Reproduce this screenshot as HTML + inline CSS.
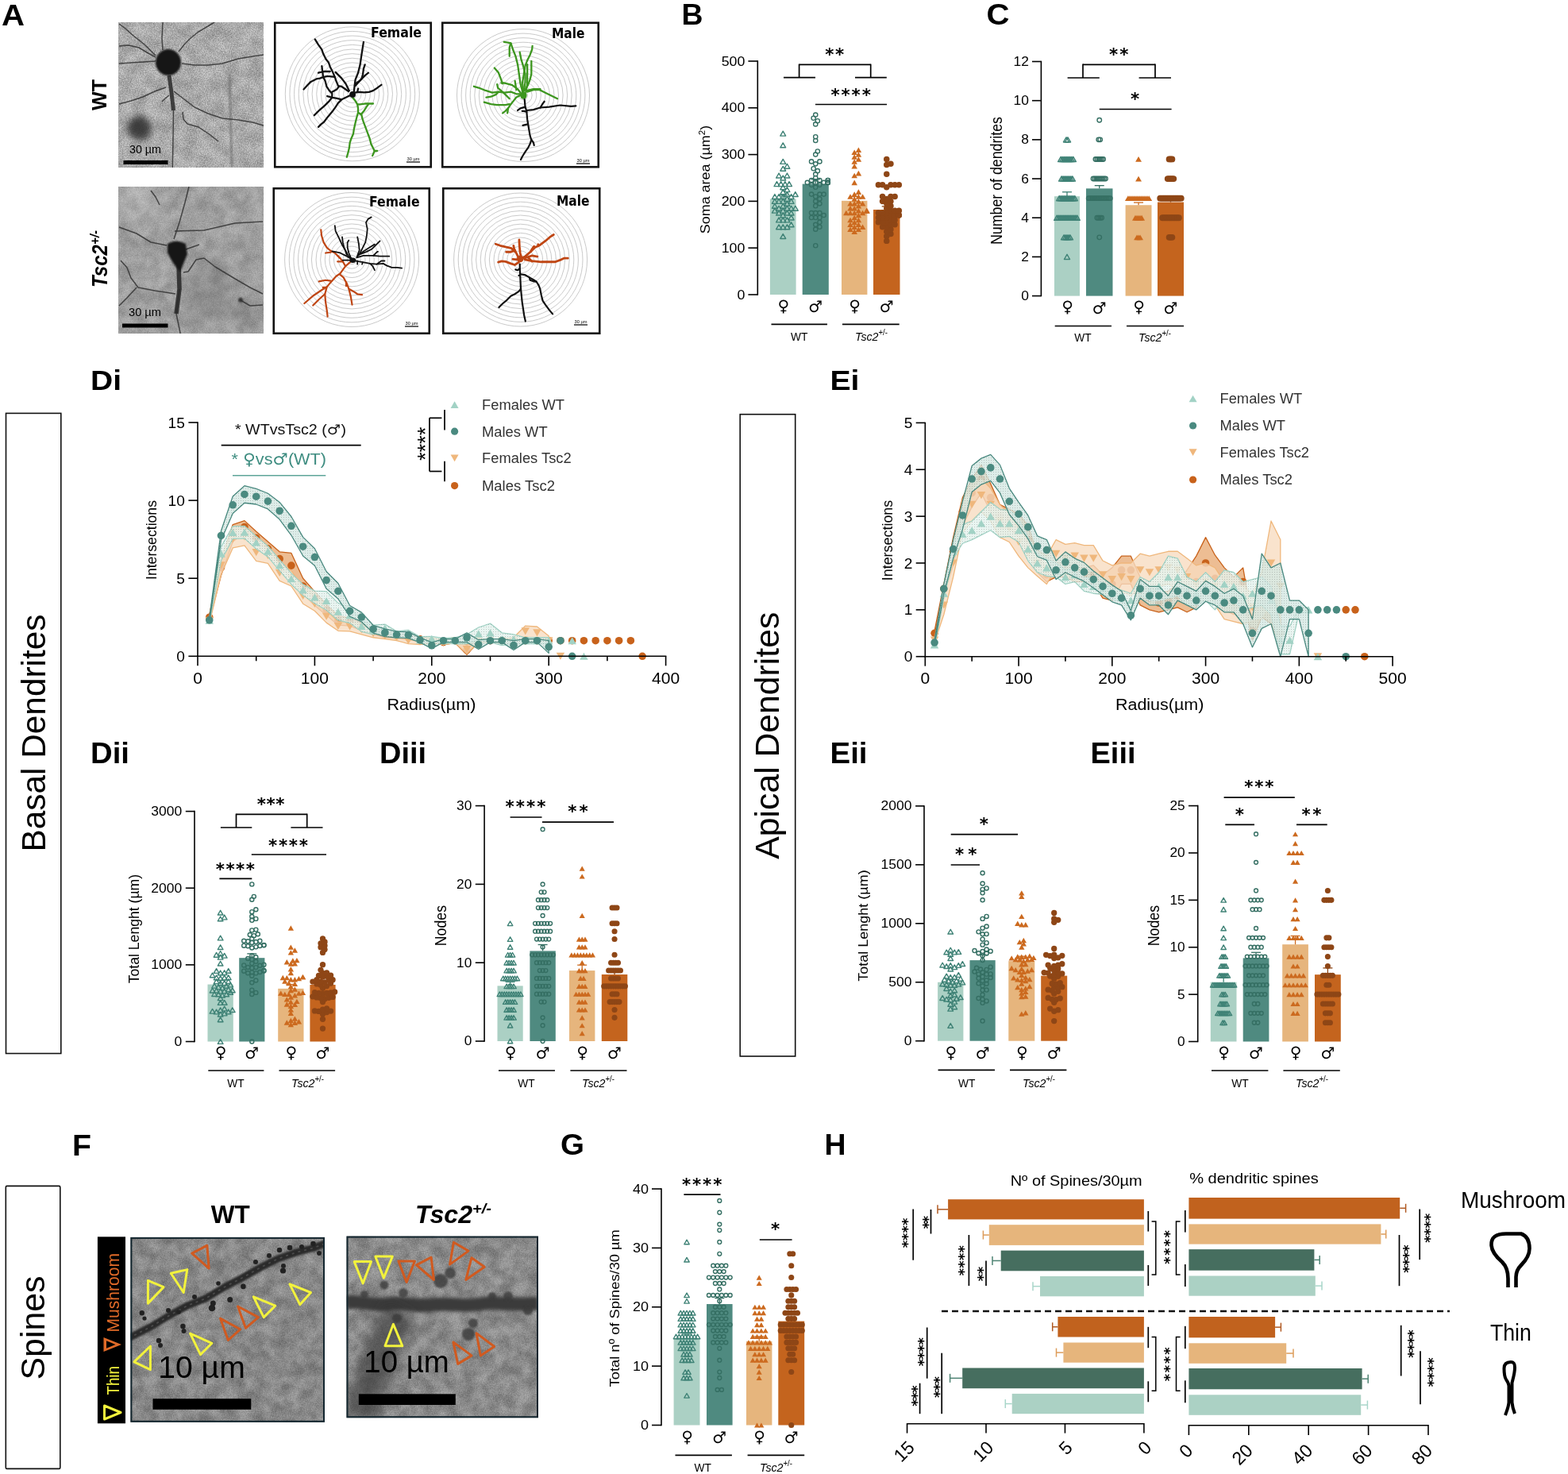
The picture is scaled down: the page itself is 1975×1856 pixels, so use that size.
<!DOCTYPE html>
<html><head><meta charset="utf-8"><title>Figure</title>
<style>html,body{margin:0;padding:0;background:#fff;}svg{display:block;}</style>
</head><body>
<svg width="1975" height="1856" viewBox="0 0 1975 1856" font-family='"Liberation Sans", "DejaVu Sans", Arial, sans-serif'><defs>
<filter id="grain" x="0" y="0" width="100%" height="100%" color-interpolation-filters="sRGB">
  <feTurbulence type="fractalNoise" baseFrequency="0.7" numOctaves="2" seed="3"/>
  <feColorMatrix type="matrix" values="1.6 0 0 0 -0.3  1.6 0 0 0 -0.3  1.6 0 0 0 -0.3  0 0 0 0 1"/>
</filter>
<filter id="mottle" x="0" y="0" width="100%" height="100%" color-interpolation-filters="sRGB">
  <feTurbulence type="fractalNoise" baseFrequency="0.06" numOctaves="3" seed="7"/>
  <feColorMatrix type="matrix" values="2 0 0 0 -0.5  2 0 0 0 -0.5  2 0 0 0 -0.5  0 0 0 0 1"/>
</filter>
<filter id="grain2" x="0" y="0" width="100%" height="100%">
  <feTurbulence type="fractalNoise" baseFrequency="0.08" numOctaves="3" seed="7"/>
  <feColorMatrix type="matrix" values="0 0 0 0 0  0 0 0 0 0  0 0 0 0 0  1.2 1.2 1.2 0 -1.55"/>
</filter>
<filter id="blur05" filterUnits="userSpaceOnUse" x="0" y="0" width="1975" height="1856"><feGaussianBlur stdDeviation="0.5"/></filter>
<filter id="blur1" filterUnits="userSpaceOnUse" x="0" y="0" width="1975" height="1856"><feGaussianBlur stdDeviation="1"/></filter>
<filter id="blur15" filterUnits="userSpaceOnUse" x="0" y="0" width="1975" height="1856"><feGaussianBlur stdDeviation="1.5"/></filter>
<filter id="blur2" filterUnits="userSpaceOnUse" x="0" y="0" width="1975" height="1856"><feGaussianBlur stdDeviation="2"/></filter>
<filter id="blur4" filterUnits="userSpaceOnUse" x="0" y="0" width="1975" height="1856"><feGaussianBlur stdDeviation="4"/></filter>
<filter id="blur8" filterUnits="userSpaceOnUse" x="0" y="0" width="1975" height="1856"><feGaussianBlur stdDeviation="8"/></filter>
<pattern id="dots" width="3" height="3" patternUnits="userSpaceOnUse">
  <rect x="0" y="0" width="1" height="1" fill="#000" fill-opacity="0.18"/>
</pattern>
</defs><rect width="1975" height="1856" fill="#fff"/><text x="2" y="32" font-size="36.5" fill="#000" font-weight="bold" textLength="29" lengthAdjust="spacingAndGlyphs">A</text>
<text transform="translate(134,119.5) rotate(-90)" font-size="26.5" fill="#000" text-anchor="middle" font-weight="bold" textLength="39" lengthAdjust="spacingAndGlyphs">WT</text>
<text transform="translate(135,326) rotate(-90)" font-size="27" font-weight="bold" font-style="italic" text-anchor="middle" textLength="72" lengthAdjust="spacingAndGlyphs">Tsc2<tspan font-size="17" dy="-10">+/-</tspan></text>
<clipPath id="cA1"><rect x="149" y="28" width="183" height="183"/></clipPath>
<rect x="149" y="28" width="183" height="183" fill="#c4c4c4" />
<g clip-path="url(#cA1)">
<rect x="149" y="28" width="183" height="183" fill="#000" filter="url(#mottle)" opacity="0.14"/>
<rect x="149" y="28" width="183" height="183" fill="#000" filter="url(#grain)" opacity="0.26"/>
<circle cx="175.5" cy="161.5" r="15" fill="#2a2a2a" opacity="0.85" filter="url(#blur4)"/>
<path d="M289,93 L290.5,150 L292,211" stroke="#666" stroke-width="3" fill="none" opacity="0.6" filter="url(#blur1)"/>
<polyline points="218.5,139 218,175 217.3,211" fill="none" stroke="#333" stroke-width="1.5" stroke-linejoin="round" opacity="0.85" filter="url(#blur05)"/>
<polyline points="196,72 185,66 175,60 162,57 150,58" fill="none" stroke="#333" stroke-width="1.5" stroke-linejoin="round" opacity="0.85" filter="url(#blur05)"/>
<polyline points="205,63 204,48 205,28" fill="none" stroke="#333" stroke-width="1.5" stroke-linejoin="round" opacity="0.85" filter="url(#blur05)"/>
<polyline points="225,65 233,55 240,48 250,40 262,33 270,28" fill="none" stroke="#333" stroke-width="1.5" stroke-linejoin="round" opacity="0.85" filter="url(#blur05)"/>
<polyline points="229,80 245,82 262,82 280,80 300,74 318,71 332,69" fill="none" stroke="#333" stroke-width="1.5" stroke-linejoin="round" opacity="0.85" filter="url(#blur05)"/>
<polyline points="209,110 195,115 180,122 165,127 150,131" fill="none" stroke="#333" stroke-width="1.5" stroke-linejoin="round" opacity="0.85" filter="url(#blur05)"/>
<polyline points="219,115 232,125 245,135 262,143 280,149 300,151 318,154 332,158" fill="none" stroke="#333" stroke-width="1.5" stroke-linejoin="round" opacity="0.85" filter="url(#blur05)"/>
<polyline points="196,70 182,56 168,45 158,36 150,30" fill="none" stroke="#333" stroke-width="1.5" stroke-linejoin="round" opacity="0.85" filter="url(#blur05)"/>
<polyline points="150,80 165,79 180,78 196,77" fill="none" stroke="#333" stroke-width="1.5" stroke-linejoin="round" opacity="0.85" filter="url(#blur05)"/>
<polyline points="230,141 231,150 236,156 250,160 265,170 275,178" fill="none" stroke="#333" stroke-width="1.5" stroke-linejoin="round" opacity="0.85" filter="url(#blur05)"/>
<polyline points="213,120 208,124 204,128" fill="none" stroke="#333" stroke-width="1.5" stroke-linejoin="round" opacity="0.85" filter="url(#blur05)"/>
<path d="M213,95 L216,117 L218.5,139" stroke="#2a2a2a" stroke-width="5" fill="none" opacity="0.85" filter="url(#blur05)"/>
<ellipse cx="212" cy="78.5" rx="16" ry="16.5" fill="#141414" filter="url(#blur1)"/>
</g>
<rect x="155.5" y="202" width="56" height="5" fill="#000" />
<text x="183" y="193" font-size="14" fill="#000" text-anchor="middle" textLength="40" lengthAdjust="spacingAndGlyphs">30 µm</text>
<clipPath id="cA2"><rect x="149" y="235" width="183" height="185"/></clipPath>
<rect x="149" y="235" width="183" height="185" fill="#a9a9a9" />
<g clip-path="url(#cA2)">
<rect x="149" y="235" width="183" height="185" fill="#000" filter="url(#mottle)" opacity="0.12"/>
<rect x="149" y="235" width="183" height="185" fill="#000" filter="url(#grain)" opacity="0.12"/>
<ellipse cx="262" cy="365" rx="30" ry="40" fill="#555" opacity="0.22" filter="url(#blur8)"/>
<ellipse cx="310" cy="395" rx="25" ry="18" fill="#444" opacity="0.18" filter="url(#blur8)"/>
<ellipse cx="175" cy="255" rx="30" ry="25" fill="#fff" opacity="0.15" filter="url(#blur8)"/>
<polyline points="226,364 222,395 228,424" fill="none" stroke="#333" stroke-width="1.5" stroke-linejoin="round" opacity="0.85" filter="url(#blur05)"/>
<polyline points="219,301 226,280 233,255 238,235" fill="none" stroke="#333" stroke-width="1.5" stroke-linejoin="round" opacity="0.85" filter="url(#blur05)"/>
<polyline points="210,309 190,305 172,294 150,286" fill="none" stroke="#333" stroke-width="1.5" stroke-linejoin="round" opacity="0.85" filter="url(#blur05)"/>
<polyline points="234,314 251,308" fill="none" stroke="#333" stroke-width="1.5" stroke-linejoin="round" opacity="0.85" filter="url(#blur05)"/>
<polyline points="221,370 195,366 174,362 165,350 160,337 152,328" fill="none" stroke="#333" stroke-width="1.5" stroke-linejoin="round" opacity="0.85" filter="url(#blur05)"/>
<polyline points="231,343 237,342 247,327 257,325 271,336 296,351 315,362 331,370" fill="none" stroke="#333" stroke-width="1.5" stroke-linejoin="round" opacity="0.85" filter="url(#blur05)"/>
<polyline points="220,291 257,290 296,281 331,279" fill="none" stroke="#333" stroke-width="1.5" stroke-linejoin="round" opacity="0.85" filter="url(#blur05)"/>
<polyline points="172,362 160,375 150,385" fill="none" stroke="#333" stroke-width="1.5" stroke-linejoin="round" opacity="0.85" filter="url(#blur05)"/>
<polyline points="201,258 196,248 190,240" fill="none" stroke="#333" stroke-width="1.5" stroke-linejoin="round" opacity="0.85" filter="url(#blur05)"/>
<polyline points="303,378 315,385 331,384" fill="none" stroke="#333" stroke-width="1.5" stroke-linejoin="round" opacity="0.85" filter="url(#blur05)"/>
<path d="M225,334 L226,364 L222,395" stroke="#262626" stroke-width="5.5" fill="none" opacity="0.85" filter="url(#blur05)"/>
<path d="M211,307 Q222,300 234,307 L236,320 Q231,332 227,342 Q217,332 211,318 Z" fill="#141414" filter="url(#blur1)"/>
<circle cx="303" cy="377.7" r="3" fill="#333" filter="url(#blur1)"/>
</g>
<rect x="154" y="407.5" width="57.5" height="5" fill="#000" />
<text x="182.5" y="398" font-size="14" fill="#000" text-anchor="middle" textLength="41" lengthAdjust="spacingAndGlyphs">30 µm</text>
<rect x="346.25" y="28.75" width="196.5" height="181.5" fill="#fff" stroke="#111" stroke-width="2.6" />
<circle cx="443.8" cy="118.3" r="5.63" fill="none" stroke="#cacaca" stroke-width="1"/>
<circle cx="443.8" cy="118.3" r="11.27" fill="none" stroke="#cacaca" stroke-width="1"/>
<circle cx="443.8" cy="118.3" r="16.9" fill="none" stroke="#cacaca" stroke-width="1"/>
<circle cx="443.8" cy="118.3" r="22.53" fill="none" stroke="#cacaca" stroke-width="1"/>
<circle cx="443.8" cy="118.3" r="28.17" fill="none" stroke="#cacaca" stroke-width="1"/>
<circle cx="443.8" cy="118.3" r="33.8" fill="none" stroke="#cacaca" stroke-width="1"/>
<circle cx="443.8" cy="118.3" r="39.43" fill="none" stroke="#cacaca" stroke-width="1"/>
<circle cx="443.8" cy="118.3" r="45.07" fill="none" stroke="#cacaca" stroke-width="1"/>
<circle cx="443.8" cy="118.3" r="50.7" fill="none" stroke="#cacaca" stroke-width="1"/>
<circle cx="443.8" cy="118.3" r="56.33" fill="none" stroke="#cacaca" stroke-width="1"/>
<circle cx="443.8" cy="118.3" r="61.97" fill="none" stroke="#cacaca" stroke-width="1"/>
<circle cx="443.8" cy="118.3" r="67.6" fill="none" stroke="#cacaca" stroke-width="1"/>
<circle cx="443.8" cy="118.3" r="73.23" fill="none" stroke="#cacaca" stroke-width="1"/>
<circle cx="443.8" cy="118.3" r="78.87" fill="none" stroke="#cacaca" stroke-width="1"/>
<circle cx="443.8" cy="118.3" r="84.5" fill="none" stroke="#cacaca" stroke-width="1"/>
<text x="467" y="47" font-size="17.5" fill="#000" font-weight="bold" font-family='"DejaVu Sans", "Liberation Sans", sans-serif' textLength="64" lengthAdjust="spacingAndGlyphs">Female</text>
<text x="520.5" y="201.5" font-size="5.5" fill="#000" text-anchor="middle" textLength="16" lengthAdjust="spacingAndGlyphs">30 µm</text>
<line x1="512" y1="204" x2="529" y2="204" stroke="#000" stroke-width="1.2" />
<polyline points="438.97,115 430.34,108.97 426.03,108.1 423.45,102.07 421.72,96.9 419.14,90.86 415.69,83.97 413.97,78.79 410.52,74.48 407.07,67.59 405.34,62.41 401.03,56.38 396.72,49.48" fill="none" stroke="#111" stroke-width="2.3" stroke-linejoin="round" stroke-linecap="round"/>
<polyline points="421.72,96.9 414.83,96.03 411.38,96.03 407.93,96.9 402.76,98.62 398.45,99.48 391.55,102.93 387.24,107.24 382.5,112.41" fill="none" stroke="#111" stroke-width="2.3" stroke-linejoin="round" stroke-linecap="round"/>
<polyline points="407.07,96.9 406.21,90 405.34,83.1" fill="none" stroke="#111" stroke-width="2.3" stroke-linejoin="round" stroke-linecap="round"/>
<polyline points="401.03,91.72 407.93,90 415.69,90" fill="none" stroke="#111" stroke-width="2.3" stroke-linejoin="round" stroke-linecap="round"/>
<polyline points="440.69,120.17 435.52,122.76 430.34,125.34 423.45,123.62 418.28,122.76 412.24,121.03" fill="none" stroke="#111" stroke-width="2.3" stroke-linejoin="round" stroke-linecap="round"/>
<polyline points="418.28,122.76 414.83,127.07 408.79,133.1 402.76,138.28 395.86,145.17" fill="none" stroke="#111" stroke-width="2.3" stroke-linejoin="round" stroke-linecap="round"/>
<polyline points="430.34,125.34 426.03,129.66 422.59,134.83 418.28,140.86 413.1,146.9 407.93,153.79 404.48,156.38 401.03,159.83" fill="none" stroke="#111" stroke-width="2.3" stroke-linejoin="round" stroke-linecap="round"/>
<polyline points="418.28,122.76 418.28,117.59 414.83,114.14 411.38,108.97 409.66,102.07 407.07,96.9" fill="none" stroke="#111" stroke-width="2.3" stroke-linejoin="round" stroke-linecap="round"/>
<polyline points="418.28,115.86 424.31,112.41 426.9,108.97" fill="none" stroke="#111" stroke-width="2.3" stroke-linejoin="round" stroke-linecap="round"/>
<polyline points="439.83,114.14 435.52,105.52 430.34,98.62 422.59,90.86" fill="none" stroke="#111" stroke-width="2.3" stroke-linejoin="round" stroke-linecap="round"/>
<polyline points="445.86,115 446.72,107.24 447.59,100.34 451.03,91.72 453.62,81.38 455.34,69.31 457.93,52.93" fill="none" stroke="#111" stroke-width="2.3" stroke-linejoin="round" stroke-linecap="round"/>
<polyline points="447.59,105.52 452.76,102.07 455.34,99.48 457.07,93.45 457.93,86.55 459.66,81.38" fill="none" stroke="#111" stroke-width="2.3" stroke-linejoin="round" stroke-linecap="round"/>
<polyline points="447.59,108.1 454.48,100.34 459.66,95.17 463.97,91.72" fill="none" stroke="#111" stroke-width="2.3" stroke-linejoin="round" stroke-linecap="round"/>
<polyline points="446.72,116.72 452.76,115.86 458.79,116.29 464.83,115.86 470,114.14 475.17,110.69 480.34,106.81" fill="none" stroke="#111" stroke-width="2.3" stroke-linejoin="round" stroke-linecap="round"/>
<polyline points="450.17,115.86 451.03,111.55" fill="none" stroke="#111" stroke-width="2.3" stroke-linejoin="round" stroke-linecap="round"/>
<polyline points="444.14,122.76 447.59,127.07 450.17,131.38 451.03,136.55 451.03,141.72 449.31,147.76 447.59,154.66 445.86,162.41 445,168.45 442.41,174.48 440.69,179.66 439.83,186.55 438.1,193.45 436.81,197.76" fill="none" stroke="#3d961f" stroke-width="2.3" stroke-linejoin="round" stroke-linecap="round"/>
<polyline points="451.03,141.72 455.34,144.31 456.21,148.62 457.93,153.79 460.52,160.69 463.1,167.59 465.69,174.48 467.41,181.38 470,186.55 471.72,190 470,194.31 469.14,196.03" fill="none" stroke="#3d961f" stroke-width="2.3" stroke-linejoin="round" stroke-linecap="round"/>
<polyline points="450.17,131.38 453.62,131.38 459.66,130.52 464.83,130.52 470,130.52" fill="none" stroke="#3d961f" stroke-width="2.3" stroke-linejoin="round" stroke-linecap="round"/>
<polyline points="454.48,144.31 458.79,139.14 461.38,134.83 463.97,131.38" fill="none" stroke="#3d961f" stroke-width="2.3" stroke-linejoin="round" stroke-linecap="round"/>
<polyline points="471.72,190 475.17,190" fill="none" stroke="#3d961f" stroke-width="2.3" stroke-linejoin="round" stroke-linecap="round"/>
<circle cx="444.1" cy="118.9" r="3.9" fill="#111"/>
<rect x="557.25" y="28.75" width="196.5" height="181.5" fill="#fff" stroke="#111" stroke-width="2.6" />
<circle cx="659" cy="120" r="5.57" fill="none" stroke="#cacaca" stroke-width="1"/>
<circle cx="659" cy="120" r="11.13" fill="none" stroke="#cacaca" stroke-width="1"/>
<circle cx="659" cy="120" r="16.7" fill="none" stroke="#cacaca" stroke-width="1"/>
<circle cx="659" cy="120" r="22.27" fill="none" stroke="#cacaca" stroke-width="1"/>
<circle cx="659" cy="120" r="27.83" fill="none" stroke="#cacaca" stroke-width="1"/>
<circle cx="659" cy="120" r="33.4" fill="none" stroke="#cacaca" stroke-width="1"/>
<circle cx="659" cy="120" r="38.97" fill="none" stroke="#cacaca" stroke-width="1"/>
<circle cx="659" cy="120" r="44.53" fill="none" stroke="#cacaca" stroke-width="1"/>
<circle cx="659" cy="120" r="50.1" fill="none" stroke="#cacaca" stroke-width="1"/>
<circle cx="659" cy="120" r="55.67" fill="none" stroke="#cacaca" stroke-width="1"/>
<circle cx="659" cy="120" r="61.23" fill="none" stroke="#cacaca" stroke-width="1"/>
<circle cx="659" cy="120" r="66.8" fill="none" stroke="#cacaca" stroke-width="1"/>
<circle cx="659" cy="120" r="72.37" fill="none" stroke="#cacaca" stroke-width="1"/>
<circle cx="659" cy="120" r="77.93" fill="none" stroke="#cacaca" stroke-width="1"/>
<circle cx="659" cy="120" r="83.5" fill="none" stroke="#cacaca" stroke-width="1"/>
<text x="695" y="48" font-size="17.5" fill="#000" font-weight="bold" font-family='"DejaVu Sans", "Liberation Sans", sans-serif' textLength="41.5" lengthAdjust="spacingAndGlyphs">Male</text>
<text x="734.5" y="203.5" font-size="5.5" fill="#000" text-anchor="middle" textLength="16" lengthAdjust="spacingAndGlyphs">30 µm</text>
<line x1="726" y1="206" x2="743" y2="206" stroke="#000" stroke-width="1.2" />
<polyline points="658.97,118.28 655.52,105.34 653.79,93.28 652.07,81.21 649.48,70.86 646.03,62.24 643.45,54.48 640,53.62 634.83,52.76" fill="none" stroke="#3d961f" stroke-width="2.3" stroke-linejoin="round" stroke-linecap="round"/>
<polyline points="643.45,54.48 641.72,59.66 641.72,70.86" fill="none" stroke="#3d961f" stroke-width="2.3" stroke-linejoin="round" stroke-linecap="round"/>
<polyline points="658.97,116.55 658.1,103.62 659.83,93.28 661.55,82.93 664.14,76.03 667.59,69.14 670.17,62.24 670.6,57.93" fill="none" stroke="#3d961f" stroke-width="2.3" stroke-linejoin="round" stroke-linecap="round"/>
<polyline points="659.83,113.97 661.55,103.62 661.55,93.28 658.97,82.93 656.38,74.31 654.66,65.69" fill="none" stroke="#3d961f" stroke-width="2.3" stroke-linejoin="round" stroke-linecap="round"/>
<polyline points="660.69,113.97 665,107.07 667.59,100.17 669.31,93.28 669.31,84.66 669.31,76.9" fill="none" stroke="#3d961f" stroke-width="2.3" stroke-linejoin="round" stroke-linecap="round"/>
<polyline points="662.41,115.69 664.14,105.34 664.14,93.28 664.14,81.21" fill="none" stroke="#3d961f" stroke-width="2.3" stroke-linejoin="round" stroke-linecap="round"/>
<polyline points="655.52,116.55 652.07,112.24 645.17,107.07 634.83,104.48 631.38,104.48" fill="none" stroke="#3d961f" stroke-width="2.3" stroke-linejoin="round" stroke-linecap="round"/>
<polyline points="655.52,118.28 650.34,118.28 643.45,115.69 635.69,116.55 627.93,115.69 620.17,116.55 611.55,113.97 602.93,110.52 596.9,108.79" fill="none" stroke="#3d961f" stroke-width="2.3" stroke-linejoin="round" stroke-linecap="round"/>
<polyline points="655.52,120 650.34,122.59 646.9,126.9 643.45,131.21 640,136.38 636.55,139.83 633.1,142.41" fill="none" stroke="#3d961f" stroke-width="2.3" stroke-linejoin="round" stroke-linecap="round"/>
<polyline points="641.72,131.21 636.55,132.07 626.21,132.07 618.45,131.21 609.83,128.62" fill="none" stroke="#3d961f" stroke-width="2.3" stroke-linejoin="round" stroke-linecap="round"/>
<polyline points="633.1,105.34 630.52,98.45 627.93,91.55 622.76,85.52" fill="none" stroke="#3d961f" stroke-width="2.3" stroke-linejoin="round" stroke-linecap="round"/>
<polyline points="627.93,115.69 624.48,119.14 618.45,121.72 612.41,122.59" fill="none" stroke="#3d961f" stroke-width="2.3" stroke-linejoin="round" stroke-linecap="round"/>
<polyline points="641.72,124.31 634.83,117.41 627.07,110.52 626.21,106.21" fill="none" stroke="#3d961f" stroke-width="2.3" stroke-linejoin="round" stroke-linecap="round"/>
<polyline points="664.14,113.97 671.9,112.24 680.52,112.24" fill="none" stroke="#3d961f" stroke-width="2.3" stroke-linejoin="round" stroke-linecap="round"/>
<polyline points="664.14,115.69 671.9,113.1 679.66,113.1 684.83,115.69 693.45,120 702.07,124.31" fill="none" stroke="#3d961f" stroke-width="2.3" stroke-linejoin="round" stroke-linecap="round"/>
<polyline points="640,136.38 639.14,142.41" fill="none" stroke="#3d961f" stroke-width="2.3" stroke-linejoin="round" stroke-linecap="round"/>
<polyline points="650.34,113.1 648.62,101.9" fill="none" stroke="#3d961f" stroke-width="2.3" stroke-linejoin="round" stroke-linecap="round"/>
<ellipse cx="659.4" cy="120" rx="4.2" ry="4.8" fill="#3d961f"/>
<polyline points="660.69,125.17 661.55,134.66 663.28,139.83 664.14,150.17 665.86,160.52 667.59,170.86 669.31,176.03 667.59,181.21 665,186.38 662.41,189.83 658.1,196.72 655.95,201.03" fill="none" stroke="#111" stroke-width="2.2" stroke-linejoin="round" stroke-linecap="round"/>
<polyline points="663.28,138.97 671.9,138.1 680.52,135.52 691.72,134.66 705.52,132.5 719.31,133.79 725.34,133.36" fill="none" stroke="#111" stroke-width="2.2" stroke-linejoin="round" stroke-linecap="round"/>
<polyline points="680.52,135.52 683.1,131.21 685.69,127.76" fill="none" stroke="#111" stroke-width="2.2" stroke-linejoin="round" stroke-linecap="round"/>
<polyline points="661.55,134.66 655.52,136.38 652.07,138.97" fill="none" stroke="#111" stroke-width="2.2" stroke-linejoin="round" stroke-linecap="round"/>
<polyline points="663.28,140.69 659.83,139.83 657.67,139.83" fill="none" stroke="#111" stroke-width="2.2" stroke-linejoin="round" stroke-linecap="round"/>
<polyline points="665,156.21 661.55,157.07 658.53,157.93" fill="none" stroke="#111" stroke-width="2.2" stroke-linejoin="round" stroke-linecap="round"/>
<polyline points="669.31,176.03 671.9,179.48 672.76,182.93" fill="none" stroke="#111" stroke-width="2.2" stroke-linejoin="round" stroke-linecap="round"/>
<rect x="344.75" y="237.25" width="196" height="182.5" fill="#fff" stroke="#111" stroke-width="2.6" />
<circle cx="443.1" cy="327" r="5.63" fill="none" stroke="#cacaca" stroke-width="1"/>
<circle cx="443.1" cy="327" r="11.27" fill="none" stroke="#cacaca" stroke-width="1"/>
<circle cx="443.1" cy="327" r="16.9" fill="none" stroke="#cacaca" stroke-width="1"/>
<circle cx="443.1" cy="327" r="22.53" fill="none" stroke="#cacaca" stroke-width="1"/>
<circle cx="443.1" cy="327" r="28.17" fill="none" stroke="#cacaca" stroke-width="1"/>
<circle cx="443.1" cy="327" r="33.8" fill="none" stroke="#cacaca" stroke-width="1"/>
<circle cx="443.1" cy="327" r="39.43" fill="none" stroke="#cacaca" stroke-width="1"/>
<circle cx="443.1" cy="327" r="45.07" fill="none" stroke="#cacaca" stroke-width="1"/>
<circle cx="443.1" cy="327" r="50.7" fill="none" stroke="#cacaca" stroke-width="1"/>
<circle cx="443.1" cy="327" r="56.33" fill="none" stroke="#cacaca" stroke-width="1"/>
<circle cx="443.1" cy="327" r="61.97" fill="none" stroke="#cacaca" stroke-width="1"/>
<circle cx="443.1" cy="327" r="67.6" fill="none" stroke="#cacaca" stroke-width="1"/>
<circle cx="443.1" cy="327" r="73.23" fill="none" stroke="#cacaca" stroke-width="1"/>
<circle cx="443.1" cy="327" r="78.87" fill="none" stroke="#cacaca" stroke-width="1"/>
<circle cx="443.1" cy="327" r="84.5" fill="none" stroke="#cacaca" stroke-width="1"/>
<text x="465" y="260" font-size="17.5" fill="#000" font-weight="bold" font-family='"DejaVu Sans", "Liberation Sans", sans-serif' textLength="63.5" lengthAdjust="spacingAndGlyphs">Female</text>
<text x="518.5" y="408.5" font-size="5.5" fill="#000" text-anchor="middle" textLength="16" lengthAdjust="spacingAndGlyphs">30 µm</text>
<line x1="510" y1="411" x2="527" y2="411" stroke="#000" stroke-width="1.2" />
<polyline points="441.01,330.19 435.16,335.2 428.48,344.39 423.47,347.73 416.78,355.25 411.77,361.1 405.09,365.28 395.06,371.96 383.37,381.98" fill="none" stroke="#bf4614" stroke-width="2.2" stroke-linejoin="round" stroke-linecap="round"/>
<polyline points="411.77,361.1 409.26,370.29 410.1,380.31 411.77,391.17 412.61,398.69" fill="none" stroke="#bf4614" stroke-width="2.2" stroke-linejoin="round" stroke-linecap="round"/>
<polyline points="409.26,370.29 401.75,376.97 394.23,384.49" fill="none" stroke="#bf4614" stroke-width="2.2" stroke-linejoin="round" stroke-linecap="round"/>
<polyline points="416.78,353.58 410.1,352.74 401.75,354.42" fill="none" stroke="#bf4614" stroke-width="2.2" stroke-linejoin="round" stroke-linecap="round"/>
<polyline points="427.64,345.23 432.66,349.4 436.83,356.92 439.34,363.6 441.85,373.63 443.52,383.65" fill="none" stroke="#bf4614" stroke-width="2.2" stroke-linejoin="round" stroke-linecap="round"/>
<polyline points="439.34,363.6 445.19,366.95 450.2,370.29 456.05,371.12" fill="none" stroke="#bf4614" stroke-width="2.2" stroke-linejoin="round" stroke-linecap="round"/>
<polyline points="436,355.25 436,360.26" fill="none" stroke="#bf4614" stroke-width="2.2" stroke-linejoin="round" stroke-linecap="round"/>
<polyline points="435.16,335.2 431.82,329.35 428.48,325.18 421.8,318.49 416.78,315.99 411.77,311.81 407.59,305.13 405.09,296.77 404.25,289.25" fill="none" stroke="#bf4614" stroke-width="2.2" stroke-linejoin="round" stroke-linecap="round"/>
<polyline points="431.82,329.35 425.14,329.35" fill="none" stroke="#bf4614" stroke-width="2.2" stroke-linejoin="round" stroke-linecap="round"/>
<polyline points="428.48,325.18 425.14,321.83" fill="none" stroke="#bf4614" stroke-width="2.2" stroke-linejoin="round" stroke-linecap="round"/>
<polyline points="416.78,317.66 410.1,318.49" fill="none" stroke="#bf4614" stroke-width="2.2" stroke-linejoin="round" stroke-linecap="round"/>
<polyline points="406.76,361.93 410.1,361.93" fill="none" stroke="#bf4614" stroke-width="2.2" stroke-linejoin="round" stroke-linecap="round"/>
<polyline points="443.52,326.01 438.5,321.83 435.16,315.15 430.99,308.47 426.81,299.28 422.63,290.92 421.8,284.24" fill="none" stroke="#111" stroke-width="1.8" stroke-linejoin="round" stroke-linecap="round"/>
<polyline points="441.85,324.34 439.34,318.49 437.67,311.81 437.67,305.13 439.34,302.62" fill="none" stroke="#111" stroke-width="1.8" stroke-linejoin="round" stroke-linecap="round"/>
<polyline points="436.83,321 433.49,311.81 431.82,305.13 430.99,298.44" fill="none" stroke="#111" stroke-width="1.8" stroke-linejoin="round" stroke-linecap="round"/>
<polyline points="443.52,326.85 435.16,321.83 428.48,318.49 418.45,316.4" fill="none" stroke="#111" stroke-width="1.8" stroke-linejoin="round" stroke-linecap="round"/>
<polyline points="443.52,327.68 436.83,327.68 431.82,327.68" fill="none" stroke="#111" stroke-width="1.8" stroke-linejoin="round" stroke-linecap="round"/>
<polyline points="449.37,323.5 453.54,318.49 456.88,311.81 460.23,305.13 461.9,296.77 462.73,288.42 461.06,280.06 463.57,275.89 467.74,273.38" fill="none" stroke="#111" stroke-width="1.8" stroke-linejoin="round" stroke-linecap="round"/>
<polyline points="450.2,321.83 452.71,315.15 451.87,306.8 450.2,298.44" fill="none" stroke="#111" stroke-width="1.8" stroke-linejoin="round" stroke-linecap="round"/>
<polyline points="451.04,321.83 458.55,315.99 465.24,311.81 471.92,307.63" fill="none" stroke="#111" stroke-width="1.8" stroke-linejoin="round" stroke-linecap="round"/>
<polyline points="453.54,320.16 461.9,316.82 468.58,313.48 473.59,308.47 478.6,303.45" fill="none" stroke="#111" stroke-width="1.8" stroke-linejoin="round" stroke-linecap="round"/>
<polyline points="449.37,324.34 457.72,321.83 470.25,321.83 478.6,322.67 490.3,322.67" fill="none" stroke="#111" stroke-width="1.8" stroke-linejoin="round" stroke-linecap="round"/>
<polyline points="448.53,328.52 456.88,330.19 466.07,331.86 474.43,332.69 482.78,331.86 486.96,334.37 493.64,336.87 500.33,336.87 506.17,337.71" fill="none" stroke="#111" stroke-width="1.8" stroke-linejoin="round" stroke-linecap="round"/>
<polyline points="466.07,331.86 469.42,335.2 471.92,340.21" fill="none" stroke="#111" stroke-width="1.8" stroke-linejoin="round" stroke-linecap="round"/>
<polyline points="470.25,321.83 475.26,316.82 476.1,316.82" fill="none" stroke="#111" stroke-width="1.8" stroke-linejoin="round" stroke-linecap="round"/>
<polyline points="474.43,332.69 480.28,328.52 484.45,328.52" fill="none" stroke="#111" stroke-width="1.8" stroke-linejoin="round" stroke-linecap="round"/>
<polyline points="450.2,328.52 450.2,332.69" fill="none" stroke="#111" stroke-width="1.8" stroke-linejoin="round" stroke-linecap="round"/>
<polyline points="456.88,330.19 456.05,332.69" fill="none" stroke="#111" stroke-width="1.8" stroke-linejoin="round" stroke-linecap="round"/>
<ellipse cx="444.3" cy="327.7" rx="3.9" ry="3.2" fill="#111"/>
<rect x="558.25" y="237.25" width="197" height="182.5" fill="#fff" stroke="#111" stroke-width="2.6" />
<circle cx="655.6" cy="327" r="5.6" fill="none" stroke="#cacaca" stroke-width="1"/>
<circle cx="655.6" cy="327" r="11.2" fill="none" stroke="#cacaca" stroke-width="1"/>
<circle cx="655.6" cy="327" r="16.8" fill="none" stroke="#cacaca" stroke-width="1"/>
<circle cx="655.6" cy="327" r="22.4" fill="none" stroke="#cacaca" stroke-width="1"/>
<circle cx="655.6" cy="327" r="28" fill="none" stroke="#cacaca" stroke-width="1"/>
<circle cx="655.6" cy="327" r="33.6" fill="none" stroke="#cacaca" stroke-width="1"/>
<circle cx="655.6" cy="327" r="39.2" fill="none" stroke="#cacaca" stroke-width="1"/>
<circle cx="655.6" cy="327" r="44.8" fill="none" stroke="#cacaca" stroke-width="1"/>
<circle cx="655.6" cy="327" r="50.4" fill="none" stroke="#cacaca" stroke-width="1"/>
<circle cx="655.6" cy="327" r="56" fill="none" stroke="#cacaca" stroke-width="1"/>
<circle cx="655.6" cy="327" r="61.6" fill="none" stroke="#cacaca" stroke-width="1"/>
<circle cx="655.6" cy="327" r="67.2" fill="none" stroke="#cacaca" stroke-width="1"/>
<circle cx="655.6" cy="327" r="72.8" fill="none" stroke="#cacaca" stroke-width="1"/>
<circle cx="655.6" cy="327" r="78.4" fill="none" stroke="#cacaca" stroke-width="1"/>
<circle cx="655.6" cy="327" r="84" fill="none" stroke="#cacaca" stroke-width="1"/>
<text x="701" y="259" font-size="17.5" fill="#000" font-weight="bold" font-family='"DejaVu Sans", "Liberation Sans", sans-serif' textLength="41.5" lengthAdjust="spacingAndGlyphs">Male</text>
<text x="731.5" y="406.5" font-size="5.5" fill="#000" text-anchor="middle" textLength="16" lengthAdjust="spacingAndGlyphs">30 µm</text>
<line x1="723" y1="409" x2="740" y2="409" stroke="#000" stroke-width="1.2" />
<polyline points="655.16,326.01 661.85,322.67 668.53,316.82 673.54,311.81 680.23,308.47 686.91,303.45 692.76,298.44 697.35,295.52" fill="none" stroke="#bf4614" stroke-width="2.8" stroke-linejoin="round" stroke-linecap="round"/>
<polyline points="668.53,316.82 670.2,313.48 672.71,310.14" fill="none" stroke="#bf4614" stroke-width="2.8" stroke-linejoin="round" stroke-linecap="round"/>
<polyline points="678.55,309.3 677.72,307.63" fill="none" stroke="#bf4614" stroke-width="2.8" stroke-linejoin="round" stroke-linecap="round"/>
<polyline points="656.83,325.18 655.16,318.49 654.33,310.14 653.91,301.78" fill="none" stroke="#bf4614" stroke-width="2.8" stroke-linejoin="round" stroke-linecap="round"/>
<polyline points="653.49,325.18 650.15,318.49 647.64,313.48 646.81,309.3" fill="none" stroke="#bf4614" stroke-width="2.8" stroke-linejoin="round" stroke-linecap="round"/>
<polyline points="648.48,316.82 644.3,312.64 636.78,310.97 630.1,309.3 624.25,307.21" fill="none" stroke="#bf4614" stroke-width="2.8" stroke-linejoin="round" stroke-linecap="round"/>
<polyline points="648.48,315.15 643.47,317.24 637.62,317.24" fill="none" stroke="#bf4614" stroke-width="2.8" stroke-linejoin="round" stroke-linecap="round"/>
<polyline points="653.49,330.19 648.48,333.53 643.47,331.86 636.78,329.35 631.77,328.93 627.59,330.19" fill="none" stroke="#bf4614" stroke-width="2.8" stroke-linejoin="round" stroke-linecap="round"/>
<polyline points="651.82,326.85 645.97,326.43" fill="none" stroke="#bf4614" stroke-width="2.8" stroke-linejoin="round" stroke-linecap="round"/>
<polyline points="660.18,325.18 665.19,323.5 670.2,321.83 676.88,323.09" fill="none" stroke="#bf4614" stroke-width="2.8" stroke-linejoin="round" stroke-linecap="round"/>
<polyline points="661.01,326.85 670.2,328.52 681.9,329.77 690.25,329.77 699.44,329.77 706.96,326.85 710.3,325.18 715.31,325.18" fill="none" stroke="#bf4614" stroke-width="2.8" stroke-linejoin="round" stroke-linecap="round"/>
<polyline points="665.19,324.34 670.2,329.35" fill="none" stroke="#bf4614" stroke-width="2.8" stroke-linejoin="round" stroke-linecap="round"/>
<circle cx="655.2" cy="326" r="4.3" fill="#bf4614"/>
<polyline points="654.75,332.69 654.75,338.54 655.16,345.23 655.58,355.25 656,363.6 656.83,371.96 657.67,380.31 658.92,388.67 660.18,397.02 661.85,404.54" fill="none" stroke="#111" stroke-width="2.2" stroke-linejoin="round" stroke-linecap="round"/>
<polyline points="656,363.6 653.49,366.95 648.48,370.29 643.47,372.79 638.45,377.81 633.44,381.98 628.43,387" fill="none" stroke="#111" stroke-width="2.2" stroke-linejoin="round" stroke-linecap="round"/>
<polyline points="655.58,345.23 661.01,346.06 666.86,349.4 672.71,352.74 676.05,355.25 678.55,359.43 680.23,363.6 681.9,371.96 683.57,378.64 686.91,383.65 691.92,390.34 696.1,395.35" fill="none" stroke="#111" stroke-width="2.2" stroke-linejoin="round" stroke-linecap="round"/>
<polyline points="654.75,338.54 651.82,340.21 649.31,339.38" fill="none" stroke="#111" stroke-width="2.2" stroke-linejoin="round" stroke-linecap="round"/>
<polyline points="655.16,346.06 653.49,346.9" fill="none" stroke="#111" stroke-width="2.2" stroke-linejoin="round" stroke-linecap="round"/>
<polyline points="666.86,349.4 667.69,352.74 672.71,354.42 675.21,354.42" fill="none" stroke="#111" stroke-width="2.2" stroke-linejoin="round" stroke-linecap="round"/>
<text x="858.5" y="31" font-size="36" fill="#000" font-weight="bold" textLength="27" lengthAdjust="spacingAndGlyphs">B</text>
<rect x="969.9" y="250.46" width="32.7" height="120.54" fill="#abd0c4" />
<rect x="1010.7" y="231.64" width="33.1" height="139.36" fill="#4f8a80" />
<rect x="1060" y="252.81" width="32.4" height="118.19" fill="#e6b57d" />
<rect x="1100" y="263.98" width="33.5" height="107.02" fill="#c4641e" />
<line x1="986.25" y1="250.46" x2="986.25" y2="245.76" stroke="#3f8276" stroke-width="1.3" />
<line x1="980.25" y1="245.76" x2="992.25" y2="245.76" stroke="#3f8276" stroke-width="1.3" />
<line x1="1027.25" y1="231.64" x2="1027.25" y2="225.76" stroke="#356f63" stroke-width="1.3" />
<line x1="1021.25" y1="225.76" x2="1033.25" y2="225.76" stroke="#356f63" stroke-width="1.3" />
<line x1="1076.2" y1="252.81" x2="1076.2" y2="247.52" stroke="#cc6a1f" stroke-width="1.3" />
<line x1="1070.2" y1="247.52" x2="1082.2" y2="247.52" stroke="#cc6a1f" stroke-width="1.3" />
<line x1="1116.75" y1="263.98" x2="1116.75" y2="259.87" stroke="#8e4616" stroke-width="1.3" />
<line x1="1110.75" y1="259.87" x2="1122.75" y2="259.87" stroke="#8e4616" stroke-width="1.3" />
<polygon points="982.83,300.46 989.67,300.46 986.25,294.54" fill="none" stroke="#3f8276" stroke-width="1.4" stroke-linejoin="round" />
<polygon points="982.83,288.7 989.67,288.7 986.25,282.78" fill="none" stroke="#3f8276" stroke-width="1.4" stroke-linejoin="round" />
<polygon points="988.01,288.7 994.85,288.7 991.43,282.78" fill="none" stroke="#3f8276" stroke-width="1.4" stroke-linejoin="round" />
<polygon points="977.65,288.7 984.49,288.7 981.07,282.78" fill="none" stroke="#3f8276" stroke-width="1.4" stroke-linejoin="round" />
<polygon points="993.2,285.76 1000.04,285.76 996.62,279.84" fill="none" stroke="#3f8276" stroke-width="1.4" stroke-linejoin="round" />
<polygon points="982.83,279.88 989.67,279.88 986.25,273.96" fill="none" stroke="#3f8276" stroke-width="1.4" stroke-linejoin="round" />
<polygon points="988.01,279.88 994.85,279.88 991.43,273.96" fill="none" stroke="#3f8276" stroke-width="1.4" stroke-linejoin="round" />
<polygon points="977.65,279.88 984.49,279.88 981.07,273.96" fill="none" stroke="#3f8276" stroke-width="1.4" stroke-linejoin="round" />
<polygon points="993.2,276.94 1000.04,276.94 996.62,271.02" fill="none" stroke="#3f8276" stroke-width="1.4" stroke-linejoin="round" />
<polygon points="982.83,274 989.67,274 986.25,268.08" fill="none" stroke="#3f8276" stroke-width="1.4" stroke-linejoin="round" />
<polygon points="988.01,271.06 994.85,271.06 991.43,265.14" fill="none" stroke="#3f8276" stroke-width="1.4" stroke-linejoin="round" />
<polygon points="977.65,271.06 984.49,271.06 981.07,265.14" fill="none" stroke="#3f8276" stroke-width="1.4" stroke-linejoin="round" />
<polygon points="993.2,271.06 1000.04,271.06 996.62,265.14" fill="none" stroke="#3f8276" stroke-width="1.4" stroke-linejoin="round" />
<polygon points="982.83,268.12 989.67,268.12 986.25,262.2" fill="none" stroke="#3f8276" stroke-width="1.4" stroke-linejoin="round" />
<polygon points="972.46,268.12 979.3,268.12 975.88,262.2" fill="none" stroke="#3f8276" stroke-width="1.4" stroke-linejoin="round" />
<polygon points="988.01,265.18 994.85,265.18 991.43,259.26" fill="none" stroke="#3f8276" stroke-width="1.4" stroke-linejoin="round" />
<polygon points="977.65,265.18 984.49,265.18 981.07,259.26" fill="none" stroke="#3f8276" stroke-width="1.4" stroke-linejoin="round" />
<polygon points="993.2,265.18 1000.04,265.18 996.62,259.26" fill="none" stroke="#3f8276" stroke-width="1.4" stroke-linejoin="round" />
<polygon points="998.38,265.18 1005.22,265.18 1001.8,259.26" fill="none" stroke="#3f8276" stroke-width="1.4" stroke-linejoin="round" />
<polygon points="982.83,262.24 989.67,262.24 986.25,256.32" fill="none" stroke="#3f8276" stroke-width="1.4" stroke-linejoin="round" />
<polygon points="972.46,262.24 979.3,262.24 975.88,256.32" fill="none" stroke="#3f8276" stroke-width="1.4" stroke-linejoin="round" />
<polygon points="988.01,259.3 994.85,259.3 991.43,253.38" fill="none" stroke="#3f8276" stroke-width="1.4" stroke-linejoin="round" />
<polygon points="982.83,256.36 989.67,256.36 986.25,250.44" fill="none" stroke="#3f8276" stroke-width="1.4" stroke-linejoin="round" />
<polygon points="977.65,256.36 984.49,256.36 981.07,250.44" fill="none" stroke="#3f8276" stroke-width="1.4" stroke-linejoin="round" />
<polygon points="993.2,256.36 1000.04,256.36 996.62,250.44" fill="none" stroke="#3f8276" stroke-width="1.4" stroke-linejoin="round" />
<polygon points="972.46,256.36 979.3,256.36 975.88,250.44" fill="none" stroke="#3f8276" stroke-width="1.4" stroke-linejoin="round" />
<polygon points="988.01,253.42 994.85,253.42 991.43,247.5" fill="none" stroke="#3f8276" stroke-width="1.4" stroke-linejoin="round" />
<polygon points="982.83,250.48 989.67,250.48 986.25,244.56" fill="none" stroke="#3f8276" stroke-width="1.4" stroke-linejoin="round" />
<polygon points="977.65,250.48 984.49,250.48 981.07,244.56" fill="none" stroke="#3f8276" stroke-width="1.4" stroke-linejoin="round" />
<polygon points="993.2,250.48 1000.04,250.48 996.62,244.56" fill="none" stroke="#3f8276" stroke-width="1.4" stroke-linejoin="round" />
<polygon points="972.46,250.48 979.3,250.48 975.88,244.56" fill="none" stroke="#3f8276" stroke-width="1.4" stroke-linejoin="round" />
<polygon points="988.01,247.54 994.85,247.54 991.43,241.62" fill="none" stroke="#3f8276" stroke-width="1.4" stroke-linejoin="round" />
<polygon points="998.38,247.54 1005.22,247.54 1001.8,241.62" fill="none" stroke="#3f8276" stroke-width="1.4" stroke-linejoin="round" />
<polygon points="982.83,244.6 989.67,244.6 986.25,238.68" fill="none" stroke="#3f8276" stroke-width="1.4" stroke-linejoin="round" />
<polygon points="988.01,241.66 994.85,241.66 991.43,235.74" fill="none" stroke="#3f8276" stroke-width="1.4" stroke-linejoin="round" />
<polygon points="982.83,238.72 989.67,238.72 986.25,232.8" fill="none" stroke="#3f8276" stroke-width="1.4" stroke-linejoin="round" />
<polygon points="985.42,234.61 992.26,234.61 988.84,228.68" fill="none" stroke="#3f8276" stroke-width="1.4" stroke-linejoin="round" />
<polygon points="980.24,234.61 987.08,234.61 983.66,228.68" fill="none" stroke="#3f8276" stroke-width="1.4" stroke-linejoin="round" />
<polygon points="990.61,234.61 997.45,234.61 994.03,228.68" fill="none" stroke="#3f8276" stroke-width="1.4" stroke-linejoin="round" />
<polygon points="975.05,234.61 981.89,234.61 978.47,228.68" fill="none" stroke="#3f8276" stroke-width="1.4" stroke-linejoin="round" />
<polygon points="982.83,226.96 989.67,226.96 986.25,221.04" fill="none" stroke="#3f8276" stroke-width="1.4" stroke-linejoin="round" />
<polygon points="988.01,224.02 994.85,224.02 991.43,218.1" fill="none" stroke="#3f8276" stroke-width="1.4" stroke-linejoin="round" />
<polygon points="977.65,224.02 984.49,224.02 981.07,218.1" fill="none" stroke="#3f8276" stroke-width="1.4" stroke-linejoin="round" />
<polygon points="982.83,215.2 989.67,215.2 986.25,209.28" fill="none" stroke="#3f8276" stroke-width="1.4" stroke-linejoin="round" />
<polygon points="988.01,212.26 994.85,212.26 991.43,206.34" fill="none" stroke="#3f8276" stroke-width="1.4" stroke-linejoin="round" />
<polygon points="982.83,206.38 989.67,206.38 986.25,200.46" fill="none" stroke="#3f8276" stroke-width="1.4" stroke-linejoin="round" />
<polygon points="982.83,185.8 989.67,185.8 986.25,179.88" fill="none" stroke="#3f8276" stroke-width="1.4" stroke-linejoin="round" />
<polygon points="982.83,171.1 989.67,171.1 986.25,165.18" fill="none" stroke="#3f8276" stroke-width="1.4" stroke-linejoin="round" />
<circle cx="1027.25" cy="309.26" r="2.61" fill="none" stroke="#356f63" stroke-width="1.4"/>
<circle cx="1027.25" cy="288.68" r="2.61" fill="none" stroke="#356f63" stroke-width="1.4"/>
<circle cx="1032.43" cy="285.74" r="2.61" fill="none" stroke="#356f63" stroke-width="1.4"/>
<circle cx="1027.25" cy="282.8" r="2.61" fill="none" stroke="#356f63" stroke-width="1.4"/>
<circle cx="1032.43" cy="279.86" r="2.61" fill="none" stroke="#356f63" stroke-width="1.4"/>
<circle cx="1027.25" cy="273.98" r="2.61" fill="none" stroke="#356f63" stroke-width="1.4"/>
<circle cx="1032.43" cy="273.98" r="2.61" fill="none" stroke="#356f63" stroke-width="1.4"/>
<circle cx="1022.07" cy="273.98" r="2.61" fill="none" stroke="#356f63" stroke-width="1.4"/>
<circle cx="1037.62" cy="271.04" r="2.61" fill="none" stroke="#356f63" stroke-width="1.4"/>
<circle cx="1027.25" cy="268.1" r="2.61" fill="none" stroke="#356f63" stroke-width="1.4"/>
<circle cx="1032.43" cy="268.1" r="2.61" fill="none" stroke="#356f63" stroke-width="1.4"/>
<circle cx="1022.07" cy="268.1" r="2.61" fill="none" stroke="#356f63" stroke-width="1.4"/>
<circle cx="1027.25" cy="259.28" r="2.61" fill="none" stroke="#356f63" stroke-width="1.4"/>
<circle cx="1032.43" cy="256.34" r="2.61" fill="none" stroke="#356f63" stroke-width="1.4"/>
<circle cx="1027.25" cy="253.4" r="2.61" fill="none" stroke="#356f63" stroke-width="1.4"/>
<circle cx="1032.43" cy="250.46" r="2.61" fill="none" stroke="#356f63" stroke-width="1.4"/>
<circle cx="1027.25" cy="247.52" r="2.61" fill="none" stroke="#356f63" stroke-width="1.4"/>
<circle cx="1032.43" cy="244.58" r="2.61" fill="none" stroke="#356f63" stroke-width="1.4"/>
<circle cx="1022.07" cy="244.58" r="2.61" fill="none" stroke="#356f63" stroke-width="1.4"/>
<circle cx="1037.62" cy="244.58" r="2.61" fill="none" stroke="#356f63" stroke-width="1.4"/>
<circle cx="1027.25" cy="235.76" r="2.61" fill="none" stroke="#356f63" stroke-width="1.4"/>
<circle cx="1032.43" cy="232.82" r="2.61" fill="none" stroke="#356f63" stroke-width="1.4"/>
<circle cx="1022.07" cy="232.82" r="2.61" fill="none" stroke="#356f63" stroke-width="1.4"/>
<circle cx="1027.25" cy="229.88" r="2.61" fill="none" stroke="#356f63" stroke-width="1.4"/>
<circle cx="1037.62" cy="229.88" r="2.61" fill="none" stroke="#356f63" stroke-width="1.4"/>
<circle cx="1016.88" cy="229.88" r="2.61" fill="none" stroke="#356f63" stroke-width="1.4"/>
<circle cx="1042.8" cy="229.88" r="2.61" fill="none" stroke="#356f63" stroke-width="1.4"/>
<circle cx="1042.8" cy="229.88" r="2.61" fill="none" stroke="#356f63" stroke-width="1.4"/>
<circle cx="1042.8" cy="229.88" r="2.61" fill="none" stroke="#356f63" stroke-width="1.4"/>
<circle cx="1032.43" cy="226.94" r="2.61" fill="none" stroke="#356f63" stroke-width="1.4"/>
<circle cx="1022.07" cy="226.94" r="2.61" fill="none" stroke="#356f63" stroke-width="1.4"/>
<circle cx="1042.8" cy="226.94" r="2.61" fill="none" stroke="#356f63" stroke-width="1.4"/>
<circle cx="1042.8" cy="226.94" r="2.61" fill="none" stroke="#356f63" stroke-width="1.4"/>
<circle cx="1027.25" cy="224" r="2.61" fill="none" stroke="#356f63" stroke-width="1.4"/>
<circle cx="1027.25" cy="219.3" r="2.61" fill="none" stroke="#356f63" stroke-width="1.4"/>
<circle cx="1029.84" cy="215.18" r="2.61" fill="none" stroke="#356f63" stroke-width="1.4"/>
<circle cx="1024.66" cy="212.24" r="2.61" fill="none" stroke="#356f63" stroke-width="1.4"/>
<circle cx="1027.25" cy="206.36" r="2.61" fill="none" stroke="#356f63" stroke-width="1.4"/>
<circle cx="1032.43" cy="203.42" r="2.61" fill="none" stroke="#356f63" stroke-width="1.4"/>
<circle cx="1022.07" cy="203.42" r="2.61" fill="none" stroke="#356f63" stroke-width="1.4"/>
<circle cx="1027.25" cy="194.6" r="2.61" fill="none" stroke="#356f63" stroke-width="1.4"/>
<circle cx="1029.84" cy="190.48" r="2.61" fill="none" stroke="#356f63" stroke-width="1.4"/>
<circle cx="1027.25" cy="176.96" r="2.61" fill="none" stroke="#356f63" stroke-width="1.4"/>
<circle cx="1027.25" cy="172.26" r="2.61" fill="none" stroke="#356f63" stroke-width="1.4"/>
<circle cx="1027.25" cy="156.38" r="2.61" fill="none" stroke="#356f63" stroke-width="1.4"/>
<circle cx="1029.84" cy="152.26" r="2.61" fill="none" stroke="#356f63" stroke-width="1.4"/>
<circle cx="1024.66" cy="148.74" r="2.61" fill="none" stroke="#356f63" stroke-width="1.4"/>
<circle cx="1027.25" cy="144.62" r="2.61" fill="none" stroke="#356f63" stroke-width="1.4"/>
<polygon points="1072.42,294.89 1079.98,294.89 1076.2,288.35" fill="#cc6a1f" />
<polygon points="1077.6,291.95 1085.16,291.95 1081.38,285.41" fill="#cc6a1f" />
<polygon points="1067.24,291.95 1074.8,291.95 1071.02,285.41" fill="#cc6a1f" />
<polygon points="1072.42,289.01 1079.98,289.01 1076.2,282.47" fill="#cc6a1f" />
<polygon points="1082.79,289.01 1090.35,289.01 1086.57,282.47" fill="#cc6a1f" />
<polygon points="1077.6,286.07 1085.16,286.07 1081.38,279.53" fill="#cc6a1f" />
<polygon points="1067.24,286.07 1074.8,286.07 1071.02,279.53" fill="#cc6a1f" />
<polygon points="1072.42,283.13 1079.98,283.13 1076.2,276.59" fill="#cc6a1f" />
<polygon points="1077.6,280.19 1085.16,280.19 1081.38,273.65" fill="#cc6a1f" />
<polygon points="1067.24,280.19 1074.8,280.19 1071.02,273.65" fill="#cc6a1f" />
<polygon points="1072.42,277.25 1079.98,277.25 1076.2,270.71" fill="#cc6a1f" />
<polygon points="1077.6,274.31 1085.16,274.31 1081.38,267.77" fill="#cc6a1f" />
<polygon points="1072.42,271.37 1079.98,271.37 1076.2,264.83" fill="#cc6a1f" />
<polygon points="1067.24,271.37 1074.8,271.37 1071.02,264.83" fill="#cc6a1f" />
<polygon points="1082.79,271.37 1090.35,271.37 1086.57,264.83" fill="#cc6a1f" />
<polygon points="1062.05,271.37 1069.61,271.37 1065.83,264.83" fill="#cc6a1f" />
<polygon points="1077.6,268.43 1085.16,268.43 1081.38,261.89" fill="#cc6a1f" />
<polygon points="1087.97,268.43 1095.53,268.43 1091.75,261.89" fill="#cc6a1f" />
<polygon points="1087.97,268.43 1095.53,268.43 1091.75,261.89" fill="#cc6a1f" />
<polygon points="1087.97,268.43 1095.53,268.43 1091.75,261.89" fill="#cc6a1f" />
<polygon points="1087.97,268.43 1095.53,268.43 1091.75,261.89" fill="#cc6a1f" />
<polygon points="1072.42,265.49 1079.98,265.49 1076.2,258.95" fill="#cc6a1f" />
<polygon points="1067.24,265.49 1074.8,265.49 1071.02,258.95" fill="#cc6a1f" />
<polygon points="1077.6,262.55 1085.16,262.55 1081.38,256.01" fill="#cc6a1f" />
<polygon points="1072.42,259.61 1079.98,259.61 1076.2,253.07" fill="#cc6a1f" />
<polygon points="1067.24,259.61 1074.8,259.61 1071.02,253.07" fill="#cc6a1f" />
<polygon points="1082.79,259.61 1090.35,259.61 1086.57,253.07" fill="#cc6a1f" />
<polygon points="1077.6,256.67 1085.16,256.67 1081.38,250.13" fill="#cc6a1f" />
<polygon points="1072.42,253.73 1079.98,253.73 1076.2,247.19" fill="#cc6a1f" />
<polygon points="1077.6,250.79 1085.16,250.79 1081.38,244.25" fill="#cc6a1f" />
<polygon points="1067.24,250.79 1074.8,250.79 1071.02,244.25" fill="#cc6a1f" />
<polygon points="1082.79,250.79 1090.35,250.79 1086.57,244.25" fill="#cc6a1f" />
<polygon points="1072.42,247.85 1079.98,247.85 1076.2,241.31" fill="#cc6a1f" />
<polygon points="1077.6,244.91 1085.16,244.91 1081.38,238.37" fill="#cc6a1f" />
<polygon points="1072.42,233.15 1079.98,233.15 1076.2,226.61" fill="#cc6a1f" />
<polygon points="1072.42,224.33 1079.98,224.33 1076.2,217.79" fill="#cc6a1f" />
<polygon points="1077.6,221.39 1085.16,221.39 1081.38,214.85" fill="#cc6a1f" />
<polygon points="1072.42,212.57 1079.98,212.57 1076.2,206.03" fill="#cc6a1f" />
<polygon points="1072.42,206.69 1079.98,206.69 1076.2,200.15" fill="#cc6a1f" />
<polygon points="1077.6,203.75 1085.16,203.75 1081.38,197.21" fill="#cc6a1f" />
<polygon points="1072.42,200.81 1079.98,200.81 1076.2,194.27" fill="#cc6a1f" />
<polygon points="1077.6,197.87 1085.16,197.87 1081.38,191.33" fill="#cc6a1f" />
<polygon points="1072.42,194.93 1079.98,194.93 1076.2,188.39" fill="#cc6a1f" />
<polygon points="1077.6,191.99 1085.16,191.99 1081.38,185.45" fill="#cc6a1f" />
<circle cx="1116.75" cy="303.38" r="3.74" fill="#8e4616"/>
<circle cx="1116.75" cy="297.5" r="3.74" fill="#8e4616"/>
<circle cx="1121.93" cy="294.56" r="3.74" fill="#8e4616"/>
<circle cx="1116.75" cy="291.62" r="3.74" fill="#8e4616"/>
<circle cx="1121.93" cy="288.68" r="3.74" fill="#8e4616"/>
<circle cx="1116.75" cy="285.74" r="3.74" fill="#8e4616"/>
<circle cx="1111.57" cy="285.74" r="3.74" fill="#8e4616"/>
<circle cx="1121.93" cy="282.8" r="3.74" fill="#8e4616"/>
<circle cx="1127.12" cy="282.8" r="3.74" fill="#8e4616"/>
<circle cx="1116.75" cy="279.86" r="3.74" fill="#8e4616"/>
<circle cx="1111.57" cy="279.86" r="3.74" fill="#8e4616"/>
<circle cx="1106.38" cy="279.86" r="3.74" fill="#8e4616"/>
<circle cx="1121.93" cy="276.92" r="3.74" fill="#8e4616"/>
<circle cx="1127.12" cy="276.92" r="3.74" fill="#8e4616"/>
<circle cx="1116.75" cy="273.98" r="3.74" fill="#8e4616"/>
<circle cx="1111.57" cy="273.98" r="3.74" fill="#8e4616"/>
<circle cx="1106.38" cy="273.98" r="3.74" fill="#8e4616"/>
<circle cx="1121.93" cy="271.04" r="3.74" fill="#8e4616"/>
<circle cx="1127.12" cy="271.04" r="3.74" fill="#8e4616"/>
<circle cx="1132.3" cy="271.04" r="3.74" fill="#8e4616"/>
<circle cx="1132.3" cy="271.04" r="3.74" fill="#8e4616"/>
<circle cx="1116.75" cy="268.1" r="3.74" fill="#8e4616"/>
<circle cx="1111.57" cy="268.1" r="3.74" fill="#8e4616"/>
<circle cx="1106.38" cy="268.1" r="3.74" fill="#8e4616"/>
<circle cx="1121.93" cy="265.16" r="3.74" fill="#8e4616"/>
<circle cx="1127.12" cy="265.16" r="3.74" fill="#8e4616"/>
<circle cx="1132.3" cy="265.16" r="3.74" fill="#8e4616"/>
<circle cx="1116.75" cy="262.22" r="3.74" fill="#8e4616"/>
<circle cx="1121.93" cy="259.28" r="3.74" fill="#8e4616"/>
<circle cx="1116.75" cy="256.34" r="3.74" fill="#8e4616"/>
<circle cx="1121.93" cy="253.4" r="3.74" fill="#8e4616"/>
<circle cx="1111.57" cy="253.4" r="3.74" fill="#8e4616"/>
<circle cx="1116.75" cy="250.46" r="3.74" fill="#8e4616"/>
<circle cx="1121.93" cy="247.52" r="3.74" fill="#8e4616"/>
<circle cx="1111.57" cy="247.52" r="3.74" fill="#8e4616"/>
<circle cx="1127.12" cy="247.52" r="3.74" fill="#8e4616"/>
<circle cx="1116.75" cy="235.76" r="3.74" fill="#8e4616"/>
<circle cx="1121.93" cy="232.82" r="3.74" fill="#8e4616"/>
<circle cx="1111.57" cy="232.82" r="3.74" fill="#8e4616"/>
<circle cx="1127.12" cy="232.82" r="3.74" fill="#8e4616"/>
<circle cx="1106.38" cy="232.82" r="3.74" fill="#8e4616"/>
<circle cx="1132.3" cy="232.82" r="3.74" fill="#8e4616"/>
<circle cx="1116.75" cy="219.3" r="3.74" fill="#8e4616"/>
<circle cx="1116.75" cy="207.54" r="3.74" fill="#8e4616"/>
<circle cx="1121.93" cy="206.36" r="3.74" fill="#8e4616"/>
<circle cx="1116.75" cy="200.48" r="3.74" fill="#8e4616"/>
<line x1="954.3" y1="76.25" x2="954.3" y2="371.75" stroke="#000" stroke-width="1.6" />
<line x1="942.4" y1="371" x2="954.3" y2="371" stroke="#000" stroke-width="1.6" />
<text x="938.4" y="376.5" font-size="15.71" fill="#000" text-anchor="end" textLength="9.9" lengthAdjust="spacingAndGlyphs">0</text>
<line x1="942.4" y1="312.2" x2="954.3" y2="312.2" stroke="#000" stroke-width="1.6" />
<text x="938.4" y="317.7" font-size="15.71" fill="#000" text-anchor="end" textLength="29.7" lengthAdjust="spacingAndGlyphs">100</text>
<line x1="942.4" y1="253.4" x2="954.3" y2="253.4" stroke="#000" stroke-width="1.6" />
<text x="938.4" y="258.9" font-size="15.71" fill="#000" text-anchor="end" textLength="29.7" lengthAdjust="spacingAndGlyphs">200</text>
<line x1="942.4" y1="194.6" x2="954.3" y2="194.6" stroke="#000" stroke-width="1.6" />
<text x="938.4" y="200.1" font-size="15.71" fill="#000" text-anchor="end" textLength="29.7" lengthAdjust="spacingAndGlyphs">300</text>
<line x1="942.4" y1="135.8" x2="954.3" y2="135.8" stroke="#000" stroke-width="1.6" />
<text x="938.4" y="141.3" font-size="15.71" fill="#000" text-anchor="end" textLength="29.7" lengthAdjust="spacingAndGlyphs">400</text>
<line x1="942.4" y1="77" x2="954.3" y2="77" stroke="#000" stroke-width="1.6" />
<text x="938.4" y="82.5" font-size="15.71" fill="#000" text-anchor="end" textLength="29.7" lengthAdjust="spacingAndGlyphs">500</text>
<text x="986.75" y="392" font-size="20" fill="#000" text-anchor="middle" font-family='"DejaVu Sans", "Liberation Sans", sans-serif'>&#9792;</text>
<text x="1027.25" y="393.2" font-size="20" fill="#000" text-anchor="middle" font-family='"DejaVu Sans", "Liberation Sans", sans-serif'>&#9794;</text>
<text x="1076.7" y="392" font-size="20" fill="#000" text-anchor="middle" font-family='"DejaVu Sans", "Liberation Sans", sans-serif'>&#9792;</text>
<text x="1116.75" y="393.2" font-size="20" fill="#000" text-anchor="middle" font-family='"DejaVu Sans", "Liberation Sans", sans-serif'>&#9794;</text>
<line x1="971.5" y1="408.4" x2="1042" y2="408.4" stroke="#000" stroke-width="1.7" />
<line x1="1061" y1="408.4" x2="1132.7" y2="408.4" stroke="#000" stroke-width="1.7" />
<text x="1006.6" y="429" font-size="15.5" fill="#000" text-anchor="middle" textLength="21.4" lengthAdjust="spacingAndGlyphs">WT</text>
<text x="1077" y="429" font-size="15.5" font-style="italic" textLength="41" lengthAdjust="spacingAndGlyphs">Tsc2<tspan font-size="10.5" dy="-7" font-style="normal">+/-</tspan></text>
<text transform="translate(893.5,226) rotate(-90)" font-size="17" fill="#000" text-anchor="middle" textLength="136.5" lengthAdjust="spacingAndGlyphs">Soma area (µm<tspan font-size="11" dy="-6">2</tspan><tspan dy="6">)</tspan></text>
<text x="1039.37" y="75.57" font-size="21.38" font-weight="bold" font-family="'DejaVu Sans', 'Liberation Sans', sans-serif" textLength="23.79" lengthAdjust="spacing">**</text>
<line x1="1006.6" y1="81.3" x2="1096.7" y2="81.3" stroke="#000" stroke-width="1.7" />
<line x1="1006.6" y1="80.6" x2="1006.6" y2="97.6" stroke="#000" stroke-width="1.7" />
<line x1="1096.7" y1="80.6" x2="1096.7" y2="97.6" stroke="#000" stroke-width="1.7" />
<line x1="987" y1="97.6" x2="1027" y2="97.6" stroke="#000" stroke-width="1.7" />
<line x1="1077" y1="97.6" x2="1116.8" y2="97.6" stroke="#000" stroke-width="1.7" />
<text x="1046.57" y="126.57" font-size="21.38" font-weight="bold" font-family="'DejaVu Sans', 'Liberation Sans', sans-serif" textLength="50.26" lengthAdjust="spacing">****</text>
<line x1="1027" y1="131.5" x2="1117" y2="131.5" stroke="#000" stroke-width="1.7" />
<text x="1242.5" y="31" font-size="36" fill="#000" font-weight="bold" textLength="29" lengthAdjust="spacingAndGlyphs">C</text>
<rect x="1328" y="247.18" width="32" height="125.42" fill="#abd0c4" />
<rect x="1368" y="237.35" width="33.5" height="135.25" fill="#4f8a80" />
<rect x="1417.6" y="258.25" width="32.9" height="114.35" fill="#e6b57d" />
<rect x="1458" y="254.56" width="33" height="118.04" fill="#c4641e" />
<line x1="1344" y1="247.18" x2="1344" y2="241.77" stroke="#3f8276" stroke-width="1.3" />
<line x1="1338" y1="241.77" x2="1350" y2="241.77" stroke="#3f8276" stroke-width="1.3" />
<line x1="1384.75" y1="237.35" x2="1384.75" y2="233.66" stroke="#356f63" stroke-width="1.3" />
<line x1="1378.75" y1="233.66" x2="1390.75" y2="233.66" stroke="#356f63" stroke-width="1.3" />
<line x1="1434.05" y1="258.25" x2="1434.05" y2="255.05" stroke="#cc6a1f" stroke-width="1.3" />
<line x1="1428.05" y1="255.05" x2="1440.05" y2="255.05" stroke="#cc6a1f" stroke-width="1.3" />
<line x1="1474.5" y1="254.56" x2="1474.5" y2="252.1" stroke="#8e4616" stroke-width="1.3" />
<line x1="1468.5" y1="252.1" x2="1480.5" y2="252.1" stroke="#8e4616" stroke-width="1.3" />
<polygon points="1339.46,178.95 1346.58,178.95 1343.02,172.78" fill="none" stroke="#3f8276" stroke-width="1.4" stroke-linejoin="round" />
<polygon points="1341.42,178.95 1348.54,178.95 1344.98,172.78" fill="none" stroke="#3f8276" stroke-width="1.4" stroke-linejoin="round" />
<polygon points="1332.59,203.54 1339.72,203.54 1336.15,197.37" fill="none" stroke="#3f8276" stroke-width="1.4" stroke-linejoin="round" />
<polygon points="1334.55,203.54 1341.68,203.54 1338.12,197.37" fill="none" stroke="#3f8276" stroke-width="1.4" stroke-linejoin="round" />
<polygon points="1336.51,203.54 1343.64,203.54 1340.08,197.37" fill="none" stroke="#3f8276" stroke-width="1.4" stroke-linejoin="round" />
<polygon points="1338.48,203.54 1345.6,203.54 1342.04,197.37" fill="none" stroke="#3f8276" stroke-width="1.4" stroke-linejoin="round" />
<polygon points="1340.44,203.54 1347.56,203.54 1344,197.37" fill="none" stroke="#3f8276" stroke-width="1.4" stroke-linejoin="round" />
<polygon points="1342.4,203.54 1349.52,203.54 1345.96,197.37" fill="none" stroke="#3f8276" stroke-width="1.4" stroke-linejoin="round" />
<polygon points="1344.36,203.54 1351.49,203.54 1347.92,197.37" fill="none" stroke="#3f8276" stroke-width="1.4" stroke-linejoin="round" />
<polygon points="1346.32,203.54 1353.45,203.54 1349.88,197.37" fill="none" stroke="#3f8276" stroke-width="1.4" stroke-linejoin="round" />
<polygon points="1348.28,203.54 1355.41,203.54 1351.85,197.37" fill="none" stroke="#3f8276" stroke-width="1.4" stroke-linejoin="round" />
<polygon points="1333.57,228.14 1340.7,228.14 1337.13,221.96" fill="none" stroke="#3f8276" stroke-width="1.4" stroke-linejoin="round" />
<polygon points="1335.53,228.14 1342.66,228.14 1339.1,221.96" fill="none" stroke="#3f8276" stroke-width="1.4" stroke-linejoin="round" />
<polygon points="1337.5,228.14 1344.62,228.14 1341.06,221.96" fill="none" stroke="#3f8276" stroke-width="1.4" stroke-linejoin="round" />
<polygon points="1339.46,228.14 1346.58,228.14 1343.02,221.96" fill="none" stroke="#3f8276" stroke-width="1.4" stroke-linejoin="round" />
<polygon points="1341.42,228.14 1348.54,228.14 1344.98,221.96" fill="none" stroke="#3f8276" stroke-width="1.4" stroke-linejoin="round" />
<polygon points="1343.38,228.14 1350.5,228.14 1346.94,221.96" fill="none" stroke="#3f8276" stroke-width="1.4" stroke-linejoin="round" />
<polygon points="1345.34,228.14 1352.47,228.14 1348.9,221.96" fill="none" stroke="#3f8276" stroke-width="1.4" stroke-linejoin="round" />
<polygon points="1347.3,228.14 1354.43,228.14 1350.87,221.96" fill="none" stroke="#3f8276" stroke-width="1.4" stroke-linejoin="round" />
<polygon points="1330.63,252.73 1337.75,252.73 1334.19,246.56" fill="none" stroke="#3f8276" stroke-width="1.4" stroke-linejoin="round" />
<polygon points="1332.59,252.73 1339.72,252.73 1336.15,246.56" fill="none" stroke="#3f8276" stroke-width="1.4" stroke-linejoin="round" />
<polygon points="1334.55,252.73 1341.68,252.73 1338.12,246.56" fill="none" stroke="#3f8276" stroke-width="1.4" stroke-linejoin="round" />
<polygon points="1336.51,252.73 1343.64,252.73 1340.08,246.56" fill="none" stroke="#3f8276" stroke-width="1.4" stroke-linejoin="round" />
<polygon points="1338.48,252.73 1345.6,252.73 1342.04,246.56" fill="none" stroke="#3f8276" stroke-width="1.4" stroke-linejoin="round" />
<polygon points="1340.44,252.73 1347.56,252.73 1344,246.56" fill="none" stroke="#3f8276" stroke-width="1.4" stroke-linejoin="round" />
<polygon points="1342.4,252.73 1349.52,252.73 1345.96,246.56" fill="none" stroke="#3f8276" stroke-width="1.4" stroke-linejoin="round" />
<polygon points="1344.36,252.73 1351.49,252.73 1347.92,246.56" fill="none" stroke="#3f8276" stroke-width="1.4" stroke-linejoin="round" />
<polygon points="1346.32,252.73 1353.45,252.73 1349.88,246.56" fill="none" stroke="#3f8276" stroke-width="1.4" stroke-linejoin="round" />
<polygon points="1348.28,252.73 1355.41,252.73 1351.85,246.56" fill="none" stroke="#3f8276" stroke-width="1.4" stroke-linejoin="round" />
<polygon points="1350.25,252.73 1357.37,252.73 1353.81,246.56" fill="none" stroke="#3f8276" stroke-width="1.4" stroke-linejoin="round" />
<polygon points="1327.69,277.32 1334.81,277.32 1331.25,271.15" fill="none" stroke="#3f8276" stroke-width="1.4" stroke-linejoin="round" />
<polygon points="1329.65,277.32 1336.77,277.32 1333.21,271.15" fill="none" stroke="#3f8276" stroke-width="1.4" stroke-linejoin="round" />
<polygon points="1331.61,277.32 1338.74,277.32 1335.17,271.15" fill="none" stroke="#3f8276" stroke-width="1.4" stroke-linejoin="round" />
<polygon points="1333.57,277.32 1340.7,277.32 1337.13,271.15" fill="none" stroke="#3f8276" stroke-width="1.4" stroke-linejoin="round" />
<polygon points="1335.53,277.32 1342.66,277.32 1339.1,271.15" fill="none" stroke="#3f8276" stroke-width="1.4" stroke-linejoin="round" />
<polygon points="1337.5,277.32 1344.62,277.32 1341.06,271.15" fill="none" stroke="#3f8276" stroke-width="1.4" stroke-linejoin="round" />
<polygon points="1339.46,277.32 1346.58,277.32 1343.02,271.15" fill="none" stroke="#3f8276" stroke-width="1.4" stroke-linejoin="round" />
<polygon points="1341.42,277.32 1348.54,277.32 1344.98,271.15" fill="none" stroke="#3f8276" stroke-width="1.4" stroke-linejoin="round" />
<polygon points="1343.38,277.32 1350.5,277.32 1346.94,271.15" fill="none" stroke="#3f8276" stroke-width="1.4" stroke-linejoin="round" />
<polygon points="1345.34,277.32 1352.47,277.32 1348.9,271.15" fill="none" stroke="#3f8276" stroke-width="1.4" stroke-linejoin="round" />
<polygon points="1347.3,277.32 1354.43,277.32 1350.87,271.15" fill="none" stroke="#3f8276" stroke-width="1.4" stroke-linejoin="round" />
<polygon points="1349.26,277.32 1356.39,277.32 1352.83,271.15" fill="none" stroke="#3f8276" stroke-width="1.4" stroke-linejoin="round" />
<polygon points="1351.23,277.32 1358.35,277.32 1354.79,271.15" fill="none" stroke="#3f8276" stroke-width="1.4" stroke-linejoin="round" />
<polygon points="1353.19,277.32 1360.31,277.32 1356.75,271.15" fill="none" stroke="#3f8276" stroke-width="1.4" stroke-linejoin="round" />
<polygon points="1336.51,301.91 1343.64,301.91 1340.08,295.74" fill="none" stroke="#3f8276" stroke-width="1.4" stroke-linejoin="round" />
<polygon points="1338.48,301.91 1345.6,301.91 1342.04,295.74" fill="none" stroke="#3f8276" stroke-width="1.4" stroke-linejoin="round" />
<polygon points="1340.44,301.91 1347.56,301.91 1344,295.74" fill="none" stroke="#3f8276" stroke-width="1.4" stroke-linejoin="round" />
<polygon points="1342.4,301.91 1349.52,301.91 1345.96,295.74" fill="none" stroke="#3f8276" stroke-width="1.4" stroke-linejoin="round" />
<polygon points="1344.36,301.91 1351.49,301.91 1347.92,295.74" fill="none" stroke="#3f8276" stroke-width="1.4" stroke-linejoin="round" />
<polygon points="1340.44,326.5 1347.56,326.5 1344,320.33" fill="none" stroke="#3f8276" stroke-width="1.4" stroke-linejoin="round" />
<circle cx="1384.75" cy="151.28" r="2.75" fill="none" stroke="#356f63" stroke-width="1.4"/>
<circle cx="1383.79" cy="175.87" r="2.75" fill="none" stroke="#356f63" stroke-width="1.4"/>
<circle cx="1385.71" cy="175.87" r="2.75" fill="none" stroke="#356f63" stroke-width="1.4"/>
<circle cx="1379.93" cy="200.46" r="2.75" fill="none" stroke="#356f63" stroke-width="1.4"/>
<circle cx="1381.86" cy="200.46" r="2.75" fill="none" stroke="#356f63" stroke-width="1.4"/>
<circle cx="1383.79" cy="200.46" r="2.75" fill="none" stroke="#356f63" stroke-width="1.4"/>
<circle cx="1385.71" cy="200.46" r="2.75" fill="none" stroke="#356f63" stroke-width="1.4"/>
<circle cx="1387.64" cy="200.46" r="2.75" fill="none" stroke="#356f63" stroke-width="1.4"/>
<circle cx="1389.57" cy="200.46" r="2.75" fill="none" stroke="#356f63" stroke-width="1.4"/>
<circle cx="1377.04" cy="225.05" r="2.75" fill="none" stroke="#356f63" stroke-width="1.4"/>
<circle cx="1378.96" cy="225.05" r="2.75" fill="none" stroke="#356f63" stroke-width="1.4"/>
<circle cx="1380.89" cy="225.05" r="2.75" fill="none" stroke="#356f63" stroke-width="1.4"/>
<circle cx="1382.82" cy="225.05" r="2.75" fill="none" stroke="#356f63" stroke-width="1.4"/>
<circle cx="1384.75" cy="225.05" r="2.75" fill="none" stroke="#356f63" stroke-width="1.4"/>
<circle cx="1386.68" cy="225.05" r="2.75" fill="none" stroke="#356f63" stroke-width="1.4"/>
<circle cx="1388.61" cy="225.05" r="2.75" fill="none" stroke="#356f63" stroke-width="1.4"/>
<circle cx="1390.54" cy="225.05" r="2.75" fill="none" stroke="#356f63" stroke-width="1.4"/>
<circle cx="1392.46" cy="225.05" r="2.75" fill="none" stroke="#356f63" stroke-width="1.4"/>
<circle cx="1371.25" cy="249.64" r="2.75" fill="none" stroke="#356f63" stroke-width="1.4"/>
<circle cx="1373.18" cy="249.64" r="2.75" fill="none" stroke="#356f63" stroke-width="1.4"/>
<circle cx="1375.11" cy="249.64" r="2.75" fill="none" stroke="#356f63" stroke-width="1.4"/>
<circle cx="1377.04" cy="249.64" r="2.75" fill="none" stroke="#356f63" stroke-width="1.4"/>
<circle cx="1378.96" cy="249.64" r="2.75" fill="none" stroke="#356f63" stroke-width="1.4"/>
<circle cx="1380.89" cy="249.64" r="2.75" fill="none" stroke="#356f63" stroke-width="1.4"/>
<circle cx="1382.82" cy="249.64" r="2.75" fill="none" stroke="#356f63" stroke-width="1.4"/>
<circle cx="1384.75" cy="249.64" r="2.75" fill="none" stroke="#356f63" stroke-width="1.4"/>
<circle cx="1386.68" cy="249.64" r="2.75" fill="none" stroke="#356f63" stroke-width="1.4"/>
<circle cx="1388.61" cy="249.64" r="2.75" fill="none" stroke="#356f63" stroke-width="1.4"/>
<circle cx="1390.54" cy="249.64" r="2.75" fill="none" stroke="#356f63" stroke-width="1.4"/>
<circle cx="1392.46" cy="249.64" r="2.75" fill="none" stroke="#356f63" stroke-width="1.4"/>
<circle cx="1394.39" cy="249.64" r="2.75" fill="none" stroke="#356f63" stroke-width="1.4"/>
<circle cx="1396.32" cy="249.64" r="2.75" fill="none" stroke="#356f63" stroke-width="1.4"/>
<circle cx="1398.25" cy="249.64" r="2.75" fill="none" stroke="#356f63" stroke-width="1.4"/>
<circle cx="1381.86" cy="274.23" r="2.75" fill="none" stroke="#356f63" stroke-width="1.4"/>
<circle cx="1383.79" cy="274.23" r="2.75" fill="none" stroke="#356f63" stroke-width="1.4"/>
<circle cx="1385.71" cy="274.23" r="2.75" fill="none" stroke="#356f63" stroke-width="1.4"/>
<circle cx="1387.64" cy="274.23" r="2.75" fill="none" stroke="#356f63" stroke-width="1.4"/>
<circle cx="1384.75" cy="298.83" r="2.75" fill="none" stroke="#356f63" stroke-width="1.4"/>
<polygon points="1430.11,203.87 1437.99,203.87 1434.05,197.05" fill="#cc6a1f" />
<polygon points="1430.11,228.46 1437.99,228.46 1434.05,221.64" fill="#cc6a1f" />
<polygon points="1416.91,253.05 1424.79,253.05 1420.85,246.23" fill="#cc6a1f" />
<polygon points="1418.94,253.05 1426.82,253.05 1422.88,246.23" fill="#cc6a1f" />
<polygon points="1420.97,253.05 1428.85,253.05 1424.91,246.23" fill="#cc6a1f" />
<polygon points="1423,253.05 1430.88,253.05 1426.94,246.23" fill="#cc6a1f" />
<polygon points="1425.04,253.05 1432.91,253.05 1428.97,246.23" fill="#cc6a1f" />
<polygon points="1427.07,253.05 1434.94,253.05 1431,246.23" fill="#cc6a1f" />
<polygon points="1429.1,253.05 1436.97,253.05 1433.03,246.23" fill="#cc6a1f" />
<polygon points="1431.13,253.05 1439,253.05 1435.07,246.23" fill="#cc6a1f" />
<polygon points="1433.16,253.05 1441.03,253.05 1437.1,246.23" fill="#cc6a1f" />
<polygon points="1435.19,253.05 1443.06,253.05 1439.13,246.23" fill="#cc6a1f" />
<polygon points="1437.22,253.05 1445.1,253.05 1441.16,246.23" fill="#cc6a1f" />
<polygon points="1439.25,253.05 1447.13,253.05 1443.19,246.23" fill="#cc6a1f" />
<polygon points="1441.28,253.05 1449.16,253.05 1445.22,246.23" fill="#cc6a1f" />
<polygon points="1443.31,253.05 1451.19,253.05 1447.25,246.23" fill="#cc6a1f" />
<polygon points="1426.05,277.64 1433.93,277.64 1429.99,270.82" fill="#cc6a1f" />
<polygon points="1428.08,277.64 1435.96,277.64 1432.02,270.82" fill="#cc6a1f" />
<polygon points="1430.11,277.64 1437.99,277.64 1434.05,270.82" fill="#cc6a1f" />
<polygon points="1432.14,277.64 1440.02,277.64 1436.08,270.82" fill="#cc6a1f" />
<polygon points="1434.17,277.64 1442.05,277.64 1438.11,270.82" fill="#cc6a1f" />
<polygon points="1428.08,302.23 1435.96,302.23 1432.02,295.42" fill="#cc6a1f" />
<polygon points="1430.11,302.23 1437.99,302.23 1434.05,295.42" fill="#cc6a1f" />
<polygon points="1432.14,302.23 1440.02,302.23 1436.08,295.42" fill="#cc6a1f" />
<circle cx="1472.61" cy="200.46" r="3.9" fill="#8e4616"/>
<circle cx="1474.5" cy="200.46" r="3.9" fill="#8e4616"/>
<circle cx="1476.39" cy="200.46" r="3.9" fill="#8e4616"/>
<circle cx="1470.71" cy="225.05" r="3.9" fill="#8e4616"/>
<circle cx="1472.61" cy="225.05" r="3.9" fill="#8e4616"/>
<circle cx="1474.5" cy="225.05" r="3.9" fill="#8e4616"/>
<circle cx="1476.39" cy="225.05" r="3.9" fill="#8e4616"/>
<circle cx="1478.29" cy="225.05" r="3.9" fill="#8e4616"/>
<circle cx="1461.25" cy="249.64" r="3.9" fill="#8e4616"/>
<circle cx="1463.14" cy="249.64" r="3.9" fill="#8e4616"/>
<circle cx="1465.04" cy="249.64" r="3.9" fill="#8e4616"/>
<circle cx="1466.93" cy="249.64" r="3.9" fill="#8e4616"/>
<circle cx="1468.82" cy="249.64" r="3.9" fill="#8e4616"/>
<circle cx="1470.71" cy="249.64" r="3.9" fill="#8e4616"/>
<circle cx="1472.61" cy="249.64" r="3.9" fill="#8e4616"/>
<circle cx="1474.5" cy="249.64" r="3.9" fill="#8e4616"/>
<circle cx="1476.39" cy="249.64" r="3.9" fill="#8e4616"/>
<circle cx="1478.29" cy="249.64" r="3.9" fill="#8e4616"/>
<circle cx="1480.18" cy="249.64" r="3.9" fill="#8e4616"/>
<circle cx="1482.07" cy="249.64" r="3.9" fill="#8e4616"/>
<circle cx="1483.96" cy="249.64" r="3.9" fill="#8e4616"/>
<circle cx="1485.86" cy="249.64" r="3.9" fill="#8e4616"/>
<circle cx="1487.75" cy="249.64" r="3.9" fill="#8e4616"/>
<circle cx="1464.09" cy="274.23" r="3.9" fill="#8e4616"/>
<circle cx="1465.98" cy="274.23" r="3.9" fill="#8e4616"/>
<circle cx="1467.88" cy="274.23" r="3.9" fill="#8e4616"/>
<circle cx="1469.77" cy="274.23" r="3.9" fill="#8e4616"/>
<circle cx="1471.66" cy="274.23" r="3.9" fill="#8e4616"/>
<circle cx="1473.55" cy="274.23" r="3.9" fill="#8e4616"/>
<circle cx="1475.45" cy="274.23" r="3.9" fill="#8e4616"/>
<circle cx="1477.34" cy="274.23" r="3.9" fill="#8e4616"/>
<circle cx="1479.23" cy="274.23" r="3.9" fill="#8e4616"/>
<circle cx="1481.12" cy="274.23" r="3.9" fill="#8e4616"/>
<circle cx="1483.02" cy="274.23" r="3.9" fill="#8e4616"/>
<circle cx="1484.91" cy="274.23" r="3.9" fill="#8e4616"/>
<circle cx="1472.61" cy="298.83" r="3.9" fill="#8e4616"/>
<circle cx="1474.5" cy="298.83" r="3.9" fill="#8e4616"/>
<circle cx="1476.39" cy="298.83" r="3.9" fill="#8e4616"/>
<line x1="1311.4" y1="76.75" x2="1311.4" y2="373.35" stroke="#000" stroke-width="1.6" />
<line x1="1300" y1="372.6" x2="1311.4" y2="372.6" stroke="#000" stroke-width="1.6" />
<text x="1296" y="378.1" font-size="15.71" fill="#000" text-anchor="end" textLength="9.7" lengthAdjust="spacingAndGlyphs">0</text>
<line x1="1300" y1="323.42" x2="1311.4" y2="323.42" stroke="#000" stroke-width="1.6" />
<text x="1296" y="328.92" font-size="15.71" fill="#000" text-anchor="end" textLength="9.7" lengthAdjust="spacingAndGlyphs">2</text>
<line x1="1300" y1="274.23" x2="1311.4" y2="274.23" stroke="#000" stroke-width="1.6" />
<text x="1296" y="279.73" font-size="15.71" fill="#000" text-anchor="end" textLength="9.7" lengthAdjust="spacingAndGlyphs">4</text>
<line x1="1300" y1="225.05" x2="1311.4" y2="225.05" stroke="#000" stroke-width="1.6" />
<text x="1296" y="230.55" font-size="15.71" fill="#000" text-anchor="end" textLength="9.7" lengthAdjust="spacingAndGlyphs">6</text>
<line x1="1300" y1="175.87" x2="1311.4" y2="175.87" stroke="#000" stroke-width="1.6" />
<text x="1296" y="181.37" font-size="15.71" fill="#000" text-anchor="end" textLength="9.7" lengthAdjust="spacingAndGlyphs">8</text>
<line x1="1300" y1="126.68" x2="1311.4" y2="126.68" stroke="#000" stroke-width="1.6" />
<text x="1296" y="132.18" font-size="15.71" fill="#000" text-anchor="end" textLength="19.4" lengthAdjust="spacingAndGlyphs">10</text>
<line x1="1300" y1="77.5" x2="1311.4" y2="77.5" stroke="#000" stroke-width="1.6" />
<text x="1296" y="83" font-size="15.71" fill="#000" text-anchor="end" textLength="19.4" lengthAdjust="spacingAndGlyphs">12</text>
<text x="1344.5" y="393.3" font-size="20" fill="#000" text-anchor="middle" font-family='"DejaVu Sans", "Liberation Sans", sans-serif'>&#9792;</text>
<text x="1384.75" y="394.5" font-size="20" fill="#000" text-anchor="middle" font-family='"DejaVu Sans", "Liberation Sans", sans-serif'>&#9794;</text>
<text x="1434.55" y="393.3" font-size="20" fill="#000" text-anchor="middle" font-family='"DejaVu Sans", "Liberation Sans", sans-serif'>&#9792;</text>
<text x="1474.5" y="394.5" font-size="20" fill="#000" text-anchor="middle" font-family='"DejaVu Sans", "Liberation Sans", sans-serif'>&#9794;</text>
<line x1="1328.7" y1="410.5" x2="1400" y2="410.5" stroke="#000" stroke-width="1.7" />
<line x1="1419" y1="410.5" x2="1491" y2="410.5" stroke="#000" stroke-width="1.7" />
<text x="1364" y="430" font-size="15.5" fill="#000" text-anchor="middle" textLength="21.4" lengthAdjust="spacingAndGlyphs">WT</text>
<text x="1434" y="430" font-size="15.5" font-style="italic" textLength="41" lengthAdjust="spacingAndGlyphs">Tsc2<tspan font-size="10.5" dy="-7" font-style="normal">+/-</tspan></text>
<text transform="translate(1261.8,227.5) rotate(-90)" font-size="20.5" fill="#000" text-anchor="middle" textLength="161" lengthAdjust="spacingAndGlyphs">Number of dendrites</text>
<text x="1396.97" y="75.57" font-size="21.38" font-weight="bold" font-family="'DejaVu Sans', 'Liberation Sans', sans-serif" textLength="24.39" lengthAdjust="spacing">**</text>
<line x1="1364" y1="81.3" x2="1455" y2="81.3" stroke="#000" stroke-width="1.7" />
<line x1="1364" y1="80.6" x2="1364" y2="98" stroke="#000" stroke-width="1.7" />
<line x1="1455" y1="80.6" x2="1455" y2="98" stroke="#000" stroke-width="1.7" />
<line x1="1344.6" y1="98" x2="1384.8" y2="98" stroke="#000" stroke-width="1.7" />
<line x1="1434.6" y1="98" x2="1475" y2="98" stroke="#000" stroke-width="1.7" />
<text x="1429.5" y="132.17" font-size="21.38" font-weight="bold" font-family="'DejaVu Sans', 'Liberation Sans', sans-serif" text-anchor="middle">*</text>
<line x1="1384.8" y1="137.5" x2="1475.6" y2="137.5" stroke="#000" stroke-width="1.7" />
<text x="114" y="491" font-size="34.5" fill="#000" font-weight="bold" textLength="39" lengthAdjust="spacingAndGlyphs">Di</text>
<polygon points="263.74,773.33 278.48,704.85 293.22,660.51 307.96,655.61 322.7,669.34 337.44,682.09 352.18,694.85 366.92,696.42 381.66,728.2 396.4,744.88 411.14,760.97 425.88,775.29 440.62,778.23 455.36,784.12 470.1,790.98 484.84,794.91 499.58,797.85 514.32,799.81 529.06,801.77 543.8,803.74 558.54,805.7 573.28,803.74 588.02,812.57 602.76,804.72 617.5,804.72 632.24,804.72 646.98,804.72 661.72,804.72 676.46,804.72 691.2,804.72 691.2,808.64 676.46,808.64 661.72,808.64 646.98,808.64 632.24,808.64 617.5,808.64 602.76,808.64 588.02,824.34 573.28,809.62 558.54,811.58 543.8,809.62 529.06,807.66 514.32,805.7 499.58,803.74 484.84,802.76 470.1,798.83 455.36,793.93 440.62,788.04 425.88,787.06 411.14,774.7 396.4,762.53 381.66,747.82 366.92,727.81 352.18,712.5 337.44,699.75 322.7,685.04 307.96,671.3 293.22,682.09 278.48,724.47 263.74,781.17" fill="#e9ad78" stroke="#c8621b" stroke-width="1.3" stroke-linejoin="round" fill-opacity="0.8"/>
<circle cx="263.74" cy="777.25" r="4.8" fill="#c8621b"/>
<circle cx="278.48" cy="714.66" r="4.8" fill="#c8621b"/>
<circle cx="293.22" cy="671.3" r="4.8" fill="#c8621b"/>
<circle cx="307.96" cy="663.45" r="4.8" fill="#c8621b"/>
<circle cx="322.7" cy="677.19" r="4.8" fill="#c8621b"/>
<circle cx="337.44" cy="690.92" r="4.8" fill="#c8621b"/>
<circle cx="352.18" cy="703.67" r="4.8" fill="#c8621b"/>
<circle cx="366.92" cy="712.11" r="4.8" fill="#c8621b"/>
<circle cx="381.66" cy="738.01" r="4.8" fill="#c8621b"/>
<circle cx="396.4" cy="753.71" r="4.8" fill="#c8621b"/>
<circle cx="411.14" cy="767.83" r="4.8" fill="#c8621b"/>
<circle cx="425.88" cy="781.17" r="4.8" fill="#c8621b"/>
<circle cx="440.62" cy="783.14" r="4.8" fill="#c8621b"/>
<circle cx="455.36" cy="789.02" r="4.8" fill="#c8621b"/>
<circle cx="470.1" cy="794.91" r="4.8" fill="#c8621b"/>
<circle cx="484.84" cy="798.83" r="4.8" fill="#c8621b"/>
<circle cx="499.58" cy="800.79" r="4.8" fill="#c8621b"/>
<circle cx="514.32" cy="802.76" r="4.8" fill="#c8621b"/>
<circle cx="529.06" cy="804.72" r="4.8" fill="#c8621b"/>
<circle cx="543.8" cy="806.68" r="4.8" fill="#c8621b"/>
<circle cx="558.54" cy="808.64" r="4.8" fill="#c8621b"/>
<circle cx="573.28" cy="806.68" r="4.8" fill="#c8621b"/>
<circle cx="588.02" cy="818.45" r="4.8" fill="#c8621b"/>
<circle cx="602.76" cy="806.68" r="4.8" fill="#c8621b"/>
<circle cx="617.5" cy="806.68" r="4.8" fill="#c8621b"/>
<circle cx="632.24" cy="806.68" r="4.8" fill="#c8621b"/>
<circle cx="646.98" cy="806.68" r="4.8" fill="#c8621b"/>
<circle cx="661.72" cy="806.68" r="4.8" fill="#c8621b"/>
<circle cx="676.46" cy="806.68" r="4.8" fill="#c8621b"/>
<circle cx="691.2" cy="806.68" r="4.8" fill="#c8621b"/>
<circle cx="705.94" cy="806.68" r="4.8" fill="#c8621b"/>
<circle cx="720.68" cy="806.68" r="4.8" fill="#c8621b"/>
<circle cx="735.42" cy="806.68" r="4.8" fill="#c8621b"/>
<circle cx="750.16" cy="806.68" r="4.8" fill="#c8621b"/>
<circle cx="764.9" cy="806.68" r="4.8" fill="#c8621b"/>
<circle cx="779.64" cy="806.68" r="4.8" fill="#c8621b"/>
<circle cx="794.38" cy="806.68" r="4.8" fill="#c8621b"/>
<circle cx="809.12" cy="826.3" r="4.8" fill="#c8621b"/>
<polygon points="263.74,777.25 278.48,699.95 293.22,668.36 307.96,665.22 322.7,684.84 337.44,689.74 352.18,711.72 366.92,718.39 381.66,740.56 396.4,751.55 411.14,768.42 425.88,782.55 440.62,783.14 455.36,787.06 470.1,792.95 484.84,796.87 499.58,798.83 514.32,802.76 529.06,803.74 543.8,803.74 558.54,805.7 573.28,803.74 588.02,811.58 602.76,804.72 617.5,804.72 632.24,804.72 646.98,802.76 661.72,788.04 676.46,789.02 691.2,800.79 691.2,812.57 676.46,804.72 661.72,801.77 646.98,810.6 632.24,808.64 617.5,808.64 602.76,808.64 588.02,823.36 573.28,809.62 558.54,811.58 543.8,809.62 529.06,811.58 514.32,810.6 499.58,806.68 484.84,804.72 470.1,802.76 455.36,798.83 440.62,794.91 425.88,794.32 411.14,784.12 396.4,769.21 381.66,760.18 366.92,738.01 352.18,731.34 337.44,709.36 322.7,706.42 307.96,686.8 293.22,689.94 278.48,723.49 263.74,785.1" fill="#f7dcc0" stroke="#efb77c" stroke-width="1.3" stroke-linejoin="round" fill-opacity="0.8"/>
<polygon points="258.49,776.63 268.99,776.63 263.74,785.72" fill="#efb77c" />
<polygon points="273.23,707.17 283.73,707.17 278.48,716.27" fill="#efb77c" />
<polygon points="287.97,674.6 298.47,674.6 293.22,683.7" fill="#efb77c" />
<polygon points="302.71,671.46 313.21,671.46 307.96,680.56" fill="#efb77c" />
<polygon points="317.45,691.08 327.95,691.08 322.7,700.18" fill="#efb77c" />
<polygon points="332.19,695.01 342.69,695.01 337.44,704.1" fill="#efb77c" />
<polygon points="346.93,716.98 357.43,716.98 352.18,726.08" fill="#efb77c" />
<polygon points="361.67,723.65 372.17,723.65 366.92,732.75" fill="#efb77c" />
<polygon points="376.41,745.82 386.91,745.82 381.66,754.92" fill="#efb77c" />
<polygon points="391.15,755.83 401.65,755.83 396.4,764.92" fill="#efb77c" />
<polygon points="405.89,771.72 416.39,771.72 411.14,780.82" fill="#efb77c" />
<polygon points="420.63,783.89 431.13,783.89 425.88,792.98" fill="#efb77c" />
<polygon points="435.37,784.48 445.87,784.48 440.62,793.57" fill="#efb77c" />
<polygon points="450.11,788.4 460.61,788.4 455.36,797.49" fill="#efb77c" />
<polygon points="464.85,793.3 475.35,793.3 470.1,802.4" fill="#efb77c" />
<polygon points="479.59,796.25 490.09,796.25 484.84,805.34" fill="#efb77c" />
<polygon points="494.33,798.21 504.83,798.21 499.58,807.3" fill="#efb77c" />
<polygon points="509.07,802.13 519.57,802.13 514.32,811.23" fill="#efb77c" />
<polygon points="523.81,803.11 534.31,803.11 529.06,812.21" fill="#efb77c" />
<polygon points="538.55,802.13 549.05,802.13 543.8,811.23" fill="#efb77c" />
<polygon points="553.29,804.1 563.79,804.1 558.54,813.19" fill="#efb77c" />
<polygon points="568.03,802.13 578.53,802.13 573.28,811.23" fill="#efb77c" />
<polygon points="582.77,812.92 593.27,812.92 588.02,822.02" fill="#efb77c" />
<polygon points="597.51,802.13 608.01,802.13 602.76,811.23" fill="#efb77c" />
<polygon points="612.25,802.13 622.75,802.13 617.5,811.23" fill="#efb77c" />
<polygon points="626.99,802.13 637.49,802.13 632.24,811.23" fill="#efb77c" />
<polygon points="641.73,802.13 652.23,802.13 646.98,811.23" fill="#efb77c" />
<polygon points="656.47,790.36 666.97,790.36 661.72,799.45" fill="#efb77c" />
<polygon points="671.21,792.32 681.71,792.32 676.46,801.42" fill="#efb77c" />
<polygon points="685.95,802.13 696.45,802.13 691.2,811.23" fill="#efb77c" />
<polygon points="700.69,821.75 711.19,821.75 705.94,830.85" fill="#efb77c" />
<polygon points="263.74,778.23 278.48,688.37 293.22,662.67 307.96,662.28 322.7,675.23 337.44,687.39 352.18,704.85 366.92,721.92 381.66,735.85 396.4,744.09 411.14,744.68 425.88,759.4 440.62,764.89 455.36,781.57 470.1,787.06 484.84,786.08 499.58,794.91 514.32,793.34 529.06,801.77 543.8,801.38 558.54,803.74 573.28,802.76 588.02,798.83 602.76,790 617.5,785.1 632.24,796.87 646.98,798.83 661.72,802.76 676.46,802.76 691.2,802.76 691.2,810.6 676.46,810.6 661.72,810.6 646.98,810.6 632.24,812.57 617.5,808.64 602.76,805.7 588.02,810.6 573.28,810.6 558.54,809.62 543.8,807.27 529.06,809.62 514.32,801.19 499.58,802.76 484.84,795.89 470.1,798.83 455.36,795.3 440.62,784.51 425.88,780.98 411.14,768.22 396.4,759.79 381.66,749.59 366.92,735.66 352.18,718.59 337.44,701.12 322.7,690.92 307.96,677.97 293.22,678.37 278.48,706.03 263.74,784.12" fill="#e4f2ee" stroke="#a2d2c5" stroke-width="1.3" stroke-linejoin="round" fill-opacity="0.8"/>
<polygon points="263.74,778.23 278.48,688.37 293.22,662.67 307.96,662.28 322.7,675.23 337.44,687.39 352.18,704.85 366.92,721.92 381.66,735.85 396.4,744.09 411.14,744.68 425.88,759.4 440.62,764.89 455.36,781.57 470.1,787.06 484.84,786.08 499.58,794.91 514.32,793.34 529.06,801.77 543.8,801.38 558.54,803.74 573.28,802.76 588.02,798.83 602.76,790 617.5,785.1 632.24,796.87 646.98,798.83 661.72,802.76 676.46,802.76 691.2,802.76 691.2,810.6 676.46,810.6 661.72,810.6 646.98,810.6 632.24,812.57 617.5,808.64 602.76,805.7 588.02,810.6 573.28,810.6 558.54,809.62 543.8,807.27 529.06,809.62 514.32,801.19 499.58,802.76 484.84,795.89 470.1,798.83 455.36,795.3 440.62,784.51 425.88,780.98 411.14,768.22 396.4,759.79 381.66,749.59 366.92,735.66 352.18,718.59 337.44,701.12 322.7,690.92 307.96,677.97 293.22,678.37 278.48,706.03 263.74,784.12" fill="url(#dots)" />
<polygon points="258.49,785.72 268.99,785.72 263.74,776.63" fill="#a2d2c5" />
<polygon points="273.23,701.75 283.73,701.75 278.48,692.65" fill="#a2d2c5" />
<polygon points="287.97,675.06 298.47,675.06 293.22,665.97" fill="#a2d2c5" />
<polygon points="302.71,674.67 313.21,674.67 307.96,665.58" fill="#a2d2c5" />
<polygon points="317.45,687.62 327.95,687.62 322.7,678.53" fill="#a2d2c5" />
<polygon points="332.19,698.8 342.69,698.8 337.44,689.71" fill="#a2d2c5" />
<polygon points="346.93,716.27 357.43,716.27 352.18,707.17" fill="#a2d2c5" />
<polygon points="361.67,733.34 372.17,733.34 366.92,724.24" fill="#a2d2c5" />
<polygon points="376.41,747.27 386.91,747.27 381.66,738.17" fill="#a2d2c5" />
<polygon points="391.15,756.49 401.65,756.49 396.4,747.39" fill="#a2d2c5" />
<polygon points="405.89,761 416.39,761 411.14,751.91" fill="#a2d2c5" />
<polygon points="420.63,774.73 431.13,774.73 425.88,765.64" fill="#a2d2c5" />
<polygon points="435.37,779.25 445.87,779.25 440.62,770.15" fill="#a2d2c5" />
<polygon points="450.11,792.98 460.61,792.98 455.36,783.89" fill="#a2d2c5" />
<polygon points="464.85,797.49 475.35,797.49 470.1,788.4" fill="#a2d2c5" />
<polygon points="479.59,795.53 490.09,795.53 484.84,786.44" fill="#a2d2c5" />
<polygon points="494.33,803.38 504.83,803.38 499.58,794.29" fill="#a2d2c5" />
<polygon points="509.07,801.81 519.57,801.81 514.32,792.72" fill="#a2d2c5" />
<polygon points="523.81,810.25 534.31,810.25 529.06,801.15" fill="#a2d2c5" />
<polygon points="538.55,808.87 549.05,808.87 543.8,799.78" fill="#a2d2c5" />
<polygon points="553.29,811.23 563.79,811.23 558.54,802.13" fill="#a2d2c5" />
<polygon points="568.03,811.23 578.53,811.23 573.28,802.13" fill="#a2d2c5" />
<polygon points="582.77,809.26 593.27,809.26 588.02,800.17" fill="#a2d2c5" />
<polygon points="597.51,802.4 608.01,802.4 602.76,793.3" fill="#a2d2c5" />
<polygon points="612.25,801.42 622.75,801.42 617.5,792.32" fill="#a2d2c5" />
<polygon points="626.99,809.26 637.49,809.26 632.24,800.17" fill="#a2d2c5" />
<polygon points="641.73,809.26 652.23,809.26 646.98,800.17" fill="#a2d2c5" />
<polygon points="656.47,811.23 666.97,811.23 661.72,802.13" fill="#a2d2c5" />
<polygon points="671.21,811.23 681.71,811.23 676.46,802.13" fill="#a2d2c5" />
<polygon points="685.95,811.23 696.45,811.23 691.2,802.13" fill="#a2d2c5" />
<polygon points="715.43,811.23 725.93,811.23 720.68,802.13" fill="#a2d2c5" />
<polygon points="730.17,830.85 740.67,830.85 735.42,821.75" fill="#a2d2c5" />
<polygon points="263.74,777.84 278.48,668.56 293.22,625 307.96,611.66 322.7,615.38 337.44,621.27 352.18,632.45 366.92,650.5 381.66,676.4 396.4,690.73 411.14,719.76 425.88,734.48 440.62,762.53 455.36,771.17 470.1,787.26 484.84,791.77 499.58,795.1 514.32,795.69 529.06,802.95 543.8,808.84 558.54,804.72 573.28,804.72 588.02,796.87 602.76,805.7 617.5,804.72 632.24,804.72 646.98,806.68 661.72,804.72 676.46,804.72 691.2,806.68 691.2,822.38 676.46,808.64 661.72,808.64 646.98,818.45 632.24,808.64 617.5,808.64 602.76,817.47 588.02,808.64 573.28,808.64 558.54,808.64 543.8,816.69 529.06,808.84 514.32,803.54 499.58,802.95 484.84,801.58 470.1,797.07 455.36,782.94 440.62,776.27 425.88,754.1 411.14,741.35 396.4,712.31 381.66,699.95 366.92,674.05 352.18,654.04 337.44,640.89 322.7,635 307.96,633.24 293.22,646.58 278.48,680.33 263.74,783.72" fill="#d4e8e3" stroke="#4a8a80" stroke-width="1.3" stroke-linejoin="round" fill-opacity="0.8"/>
<polygon points="263.74,777.84 278.48,668.56 293.22,625 307.96,611.66 322.7,615.38 337.44,621.27 352.18,632.45 366.92,650.5 381.66,676.4 396.4,690.73 411.14,719.76 425.88,734.48 440.62,762.53 455.36,771.17 470.1,787.26 484.84,791.77 499.58,795.1 514.32,795.69 529.06,802.95 543.8,808.84 558.54,804.72 573.28,804.72 588.02,796.87 602.76,805.7 617.5,804.72 632.24,804.72 646.98,806.68 661.72,804.72 676.46,804.72 691.2,806.68 691.2,822.38 676.46,808.64 661.72,808.64 646.98,818.45 632.24,808.64 617.5,808.64 602.76,817.47 588.02,808.64 573.28,808.64 558.54,808.64 543.8,816.69 529.06,808.84 514.32,803.54 499.58,802.95 484.84,801.58 470.1,797.07 455.36,782.94 440.62,776.27 425.88,754.1 411.14,741.35 396.4,712.31 381.66,699.95 366.92,674.05 352.18,654.04 337.44,640.89 322.7,635 307.96,633.24 293.22,646.58 278.48,680.33 263.74,783.72" fill="url(#dots)" />
<circle cx="263.74" cy="780.78" r="4.8" fill="#4a8a80"/>
<circle cx="278.48" cy="674.44" r="4.8" fill="#4a8a80"/>
<circle cx="293.22" cy="635.79" r="4.8" fill="#4a8a80"/>
<circle cx="307.96" cy="622.45" r="4.8" fill="#4a8a80"/>
<circle cx="322.7" cy="625.19" r="4.8" fill="#4a8a80"/>
<circle cx="337.44" cy="631.08" r="4.8" fill="#4a8a80"/>
<circle cx="352.18" cy="643.25" r="4.8" fill="#4a8a80"/>
<circle cx="366.92" cy="662.28" r="4.8" fill="#4a8a80"/>
<circle cx="381.66" cy="688.18" r="4.8" fill="#4a8a80"/>
<circle cx="396.4" cy="701.52" r="4.8" fill="#4a8a80"/>
<circle cx="411.14" cy="730.55" r="4.8" fill="#4a8a80"/>
<circle cx="425.88" cy="744.29" r="4.8" fill="#4a8a80"/>
<circle cx="440.62" cy="769.4" r="4.8" fill="#4a8a80"/>
<circle cx="455.36" cy="777.05" r="4.8" fill="#4a8a80"/>
<circle cx="470.1" cy="792.16" r="4.8" fill="#4a8a80"/>
<circle cx="484.84" cy="796.67" r="4.8" fill="#4a8a80"/>
<circle cx="499.58" cy="799.03" r="4.8" fill="#4a8a80"/>
<circle cx="514.32" cy="799.62" r="4.8" fill="#4a8a80"/>
<circle cx="529.06" cy="805.9" r="4.8" fill="#4a8a80"/>
<circle cx="543.8" cy="812.76" r="4.8" fill="#4a8a80"/>
<circle cx="558.54" cy="806.68" r="4.8" fill="#4a8a80"/>
<circle cx="573.28" cy="806.68" r="4.8" fill="#4a8a80"/>
<circle cx="588.02" cy="802.76" r="4.8" fill="#4a8a80"/>
<circle cx="602.76" cy="811.58" r="4.8" fill="#4a8a80"/>
<circle cx="617.5" cy="806.68" r="4.8" fill="#4a8a80"/>
<circle cx="632.24" cy="806.68" r="4.8" fill="#4a8a80"/>
<circle cx="646.98" cy="812.57" r="4.8" fill="#4a8a80"/>
<circle cx="661.72" cy="806.68" r="4.8" fill="#4a8a80"/>
<circle cx="676.46" cy="806.68" r="4.8" fill="#4a8a80"/>
<circle cx="691.2" cy="814.53" r="4.8" fill="#4a8a80"/>
<circle cx="705.94" cy="806.68" r="4.8" fill="#4a8a80"/>
<circle cx="720.68" cy="826.3" r="4.8" fill="#4a8a80"/>
<line x1="249" y1="531.25" x2="249" y2="827.05" stroke="#000" stroke-width="1.6" />
<line x1="248.25" y1="826.3" x2="839.35" y2="826.3" stroke="#000" stroke-width="1.6" />
<line x1="237.4" y1="826.3" x2="249" y2="826.3" stroke="#000" stroke-width="1.6" />
<text x="232.8" y="832.95" font-size="19" fill="#000" text-anchor="end" textLength="10.65" lengthAdjust="spacingAndGlyphs">0</text>
<line x1="237.4" y1="728.2" x2="249" y2="728.2" stroke="#000" stroke-width="1.6" />
<text x="232.8" y="734.85" font-size="19" fill="#000" text-anchor="end" textLength="10.65" lengthAdjust="spacingAndGlyphs">5</text>
<line x1="237.4" y1="630.1" x2="249" y2="630.1" stroke="#000" stroke-width="1.6" />
<text x="232.8" y="636.75" font-size="19" fill="#000" text-anchor="end" textLength="21.3" lengthAdjust="spacingAndGlyphs">10</text>
<line x1="237.4" y1="532" x2="249" y2="532" stroke="#000" stroke-width="1.6" />
<text x="232.8" y="538.65" font-size="19" fill="#000" text-anchor="end" textLength="21.3" lengthAdjust="spacingAndGlyphs">15</text>
<line x1="249" y1="826.3" x2="249" y2="838.3" stroke="#000" stroke-width="1.6" />
<text x="249" y="861" font-size="19.97" fill="#000" text-anchor="middle" textLength="11.7" lengthAdjust="spacingAndGlyphs">0</text>
<line x1="322.7" y1="826.3" x2="322.7" y2="832.3" stroke="#000" stroke-width="1.6" />
<line x1="396.4" y1="826.3" x2="396.4" y2="838.3" stroke="#000" stroke-width="1.6" />
<text x="396.4" y="861" font-size="19.97" fill="#000" text-anchor="middle" textLength="35.1" lengthAdjust="spacingAndGlyphs">100</text>
<line x1="470.1" y1="826.3" x2="470.1" y2="832.3" stroke="#000" stroke-width="1.6" />
<line x1="543.8" y1="826.3" x2="543.8" y2="838.3" stroke="#000" stroke-width="1.6" />
<text x="543.8" y="861" font-size="19.97" fill="#000" text-anchor="middle" textLength="35.1" lengthAdjust="spacingAndGlyphs">200</text>
<line x1="617.5" y1="826.3" x2="617.5" y2="832.3" stroke="#000" stroke-width="1.6" />
<line x1="691.2" y1="826.3" x2="691.2" y2="838.3" stroke="#000" stroke-width="1.6" />
<text x="691.2" y="861" font-size="19.97" fill="#000" text-anchor="middle" textLength="35.1" lengthAdjust="spacingAndGlyphs">300</text>
<line x1="764.9" y1="826.3" x2="764.9" y2="832.3" stroke="#000" stroke-width="1.6" />
<line x1="838.6" y1="826.3" x2="838.6" y2="838.3" stroke="#000" stroke-width="1.6" />
<text x="838.6" y="861" font-size="19.97" fill="#000" text-anchor="middle" textLength="35.1" lengthAdjust="spacingAndGlyphs">400</text>
<text transform="translate(196.5,680) rotate(-90)" font-size="18.2" fill="#000" text-anchor="middle" textLength="100" lengthAdjust="spacingAndGlyphs">Intersections</text>
<text x="487.4" y="893.5" font-size="20.5" fill="#000" textLength="112" lengthAdjust="spacingAndGlyphs">Radius(µm)</text>
<polygon points="567.6,513.93 577.6,513.93 572.6,505.27" fill="#a2d2c5" />
<text x="607" y="515.9" font-size="17.5" fill="#333" textLength="104" lengthAdjust="spacingAndGlyphs">Females WT</text>
<circle cx="572.6" cy="543.2" r="4.6" fill="#4a8a80"/>
<text x="607" y="549.5" font-size="17.5" fill="#333" textLength="82.6" lengthAdjust="spacingAndGlyphs">Males WT</text>
<polygon points="567.6,572.47 577.6,572.47 572.6,581.13" fill="#efb77c" />
<text x="607" y="583.1" font-size="17.5" fill="#333" textLength="112.7" lengthAdjust="spacingAndGlyphs">Females Tsc2</text>
<circle cx="572.6" cy="611.6" r="4.6" fill="#c8621b"/>
<text x="607" y="617.9" font-size="17.5" fill="#333" textLength="91.9" lengthAdjust="spacingAndGlyphs">Males Tsc2</text>
<text x="296" y="547" font-size="17.5" fill="#111" textLength="140" lengthAdjust="spacingAndGlyphs">* WTvsTsc2 (<tspan font-family='DejaVu Sans'>&#9794;</tspan>)</text>
<line x1="278.7" y1="560.6" x2="454.7" y2="560.6" stroke="#000" stroke-width="1.7" />
<text x="291.5" y="585" font-size="20" fill="#3f8d81" textLength="119.5" lengthAdjust="spacingAndGlyphs">*  <tspan font-family='DejaVu Sans'>&#9792;</tspan>vs<tspan font-family='DejaVu Sans'>&#9794;</tspan>(WT)</text>
<line x1="293" y1="598.7" x2="410.3" y2="598.7" stroke="#5ea599" stroke-width="1.5" />
<line x1="541" y1="526.3" x2="541" y2="593.5" stroke="#000" stroke-width="1.7" />
<line x1="541" y1="526.3" x2="556.4" y2="526.3" stroke="#000" stroke-width="1.7" />
<line x1="541" y1="593.5" x2="556.4" y2="593.5" stroke="#000" stroke-width="1.7" />
<line x1="560" y1="516" x2="560" y2="541.4" stroke="#000" stroke-width="1.7" />
<line x1="560" y1="580.8" x2="560" y2="606.2" stroke="#000" stroke-width="1.7" />
<text transform="translate(545.29,580.04) rotate(-90)" font-size="27.5" textLength="42.41" lengthAdjust="spacing">****</text>
<text x="1045.5" y="491" font-size="34.5" fill="#000" font-weight="bold" textLength="37" lengthAdjust="spacingAndGlyphs">Ei</text>
<polygon points="1177.08,794.33 1188.85,735.47 1200.63,676.61 1212.4,626.58 1224.18,603.03 1235.96,585.37 1247.73,608.92 1259.51,635.41 1271.28,641.29 1283.06,647.18 1294.84,661.89 1306.61,697.21 1318.39,714.87 1330.16,708.98 1341.94,708.98 1353.72,714.87 1365.49,714.87 1377.27,711.92 1389.04,723.7 1400.82,714.87 1412.6,700.15 1424.37,700.15 1436.15,726.64 1447.92,738.41 1459.7,747.24 1471.48,744.3 1483.25,735.47 1495.03,717.81 1506.8,700.15 1518.58,676.61 1530.36,698.97 1542.13,714.87 1553.91,726.64 1565.68,714.87 1577.46,782.56 1589.24,741.35 1601.01,738.41 1612.79,779.61 1612.79,814.93 1601.01,785.5 1589.24,776.67 1577.46,806.1 1565.68,750.18 1553.91,773.73 1542.13,767.84 1530.36,757.83 1518.58,741.35 1506.8,764.9 1495.03,770.78 1483.25,764.9 1471.48,767.84 1459.7,770.78 1447.92,767.84 1436.15,761.95 1424.37,735.47 1412.6,735.47 1400.82,756.07 1389.04,753.12 1377.27,735.47 1365.49,732.52 1353.72,732.52 1341.94,726.64 1330.16,726.64 1318.39,732.52 1306.61,720.75 1294.84,697.21 1283.06,676.61 1271.28,664.84 1259.51,664.84 1247.73,644.23 1235.96,620.69 1224.18,638.35 1212.4,661.89 1200.63,711.92 1188.85,747.24 1177.08,800.21" fill="#e9ad78" stroke="#c8621b" stroke-width="1.3" stroke-linejoin="round" fill-opacity="0.8"/>
<circle cx="1177.08" cy="797.27" r="4.8" fill="#c8621b"/>
<circle cx="1188.85" cy="741.35" r="4.8" fill="#c8621b"/>
<circle cx="1200.63" cy="694.27" r="4.8" fill="#c8621b"/>
<circle cx="1212.4" cy="644.23" r="4.8" fill="#c8621b"/>
<circle cx="1224.18" cy="620.69" r="4.8" fill="#c8621b"/>
<circle cx="1235.96" cy="603.03" r="4.8" fill="#c8621b"/>
<circle cx="1247.73" cy="626.58" r="4.8" fill="#c8621b"/>
<circle cx="1259.51" cy="650.12" r="4.8" fill="#c8621b"/>
<circle cx="1271.28" cy="653.06" r="4.8" fill="#c8621b"/>
<circle cx="1283.06" cy="661.89" r="4.8" fill="#c8621b"/>
<circle cx="1294.84" cy="679.55" r="4.8" fill="#c8621b"/>
<circle cx="1306.61" cy="708.98" r="4.8" fill="#c8621b"/>
<circle cx="1318.39" cy="723.7" r="4.8" fill="#c8621b"/>
<circle cx="1330.16" cy="717.81" r="4.8" fill="#c8621b"/>
<circle cx="1341.94" cy="717.81" r="4.8" fill="#c8621b"/>
<circle cx="1353.72" cy="723.7" r="4.8" fill="#c8621b"/>
<circle cx="1365.49" cy="723.7" r="4.8" fill="#c8621b"/>
<circle cx="1377.27" cy="723.7" r="4.8" fill="#c8621b"/>
<circle cx="1389.04" cy="738.41" r="4.8" fill="#c8621b"/>
<circle cx="1400.82" cy="735.47" r="4.8" fill="#c8621b"/>
<circle cx="1412.6" cy="717.81" r="4.8" fill="#c8621b"/>
<circle cx="1424.37" cy="717.81" r="4.8" fill="#c8621b"/>
<circle cx="1436.15" cy="744.3" r="4.8" fill="#c8621b"/>
<circle cx="1447.92" cy="753.12" r="4.8" fill="#c8621b"/>
<circle cx="1459.7" cy="759.01" r="4.8" fill="#c8621b"/>
<circle cx="1471.48" cy="756.07" r="4.8" fill="#c8621b"/>
<circle cx="1483.25" cy="750.18" r="4.8" fill="#c8621b"/>
<circle cx="1495.03" cy="744.3" r="4.8" fill="#c8621b"/>
<circle cx="1506.8" cy="732.52" r="4.8" fill="#c8621b"/>
<circle cx="1518.58" cy="708.98" r="4.8" fill="#c8621b"/>
<circle cx="1530.36" cy="728.4" r="4.8" fill="#c8621b"/>
<circle cx="1542.13" cy="741.35" r="4.8" fill="#c8621b"/>
<circle cx="1553.91" cy="750.18" r="4.8" fill="#c8621b"/>
<circle cx="1565.68" cy="732.52" r="4.8" fill="#c8621b"/>
<circle cx="1577.46" cy="794.33" r="4.8" fill="#c8621b"/>
<circle cx="1589.24" cy="759.01" r="4.8" fill="#c8621b"/>
<circle cx="1601.01" cy="761.95" r="4.8" fill="#c8621b"/>
<circle cx="1612.79" cy="797.27" r="4.8" fill="#c8621b"/>
<circle cx="1624.56" cy="767.84" r="4.8" fill="#c8621b"/>
<circle cx="1695.22" cy="767.84" r="4.8" fill="#c8621b"/>
<circle cx="1707" cy="767.84" r="4.8" fill="#c8621b"/>
<circle cx="1718.77" cy="826.7" r="4.8" fill="#c8621b"/>
<polygon points="1177.08,803.16 1188.85,750.18 1200.63,691.32 1212.4,629.52 1224.18,614.8 1235.96,603.03 1247.73,614.8 1259.51,635.41 1271.28,647.18 1283.06,664.84 1294.84,679.55 1306.61,692.5 1318.39,700.15 1330.16,679.55 1341.94,685.44 1353.72,683.67 1365.49,686.61 1377.27,686.61 1389.04,706.04 1400.82,711.92 1412.6,708.98 1424.37,708.98 1436.15,697.21 1447.92,700.15 1459.7,697.21 1471.48,694.27 1483.25,694.27 1495.03,703.09 1506.8,711.92 1518.58,708.98 1530.36,714.87 1542.13,732.52 1553.91,735.47 1565.68,738.41 1577.46,747.24 1589.24,720.75 1601.01,656.01 1612.79,679.55 1612.79,797.27 1601.01,761.95 1589.24,779.61 1577.46,782.56 1565.68,785.5 1553.91,782.56 1542.13,779.61 1530.36,761.95 1518.58,756.07 1506.8,759.01 1495.03,750.18 1483.25,741.35 1471.48,735.47 1459.7,738.41 1447.92,741.35 1436.15,738.41 1424.37,750.18 1412.6,744.3 1400.82,747.24 1389.04,741.35 1377.27,719.57 1365.49,719.57 1353.72,716.63 1341.94,720.75 1330.16,714.87 1318.39,735.47 1306.61,725.46 1294.84,714.87 1283.06,700.15 1271.28,682.49 1259.51,676.61 1247.73,656.01 1235.96,644.23 1224.18,656.01 1212.4,670.72 1200.63,726.64 1188.85,773.73 1177.08,809.04" fill="#f7dcc0" stroke="#efb77c" stroke-width="1.3" stroke-linejoin="round" fill-opacity="0.8"/>
<polygon points="1171.83,801.55 1182.33,801.55 1177.08,810.65" fill="#efb77c" />
<polygon points="1183.6,757.41 1194.1,757.41 1188.85,766.5" fill="#efb77c" />
<polygon points="1195.38,704.43 1205.88,704.43 1200.63,713.53" fill="#efb77c" />
<polygon points="1207.15,645.57 1217.65,645.57 1212.4,654.67" fill="#efb77c" />
<polygon points="1218.93,630.86 1229.43,630.86 1224.18,639.95" fill="#efb77c" />
<polygon points="1230.71,619.09 1241.21,619.09 1235.96,628.18" fill="#efb77c" />
<polygon points="1242.48,630.86 1252.98,630.86 1247.73,639.95" fill="#efb77c" />
<polygon points="1254.26,651.46 1264.76,651.46 1259.51,660.55" fill="#efb77c" />
<polygon points="1266.03,660.29 1276.53,660.29 1271.28,669.38" fill="#efb77c" />
<polygon points="1277.81,677.95 1288.31,677.95 1283.06,687.04" fill="#efb77c" />
<polygon points="1289.59,692.66 1300.09,692.66 1294.84,701.75" fill="#efb77c" />
<polygon points="1301.36,704.43 1311.86,704.43 1306.61,713.53" fill="#efb77c" />
<polygon points="1313.14,713.26 1323.64,713.26 1318.39,722.36" fill="#efb77c" />
<polygon points="1324.91,692.66 1335.41,692.66 1330.16,701.75" fill="#efb77c" />
<polygon points="1336.69,698.55 1347.19,698.55 1341.94,707.64" fill="#efb77c" />
<polygon points="1348.47,695.6 1358.97,695.6 1353.72,704.7" fill="#efb77c" />
<polygon points="1360.24,698.55 1370.74,698.55 1365.49,707.64" fill="#efb77c" />
<polygon points="1372.02,698.55 1382.52,698.55 1377.27,707.64" fill="#efb77c" />
<polygon points="1383.79,719.15 1394.29,719.15 1389.04,728.24" fill="#efb77c" />
<polygon points="1395.57,725.03 1406.07,725.03 1400.82,734.13" fill="#efb77c" />
<polygon points="1407.35,722.09 1417.85,722.09 1412.6,731.18" fill="#efb77c" />
<polygon points="1419.12,725.03 1429.62,725.03 1424.37,734.13" fill="#efb77c" />
<polygon points="1430.9,713.26 1441.4,713.26 1436.15,722.36" fill="#efb77c" />
<polygon points="1442.67,716.21 1453.17,716.21 1447.92,725.3" fill="#efb77c" />
<polygon points="1454.45,713.26 1464.95,713.26 1459.7,722.36" fill="#efb77c" />
<polygon points="1466.23,710.32 1476.73,710.32 1471.48,719.41" fill="#efb77c" />
<polygon points="1478,713.26 1488.5,713.26 1483.25,722.36" fill="#efb77c" />
<polygon points="1489.78,722.09 1500.28,722.09 1495.03,731.18" fill="#efb77c" />
<polygon points="1501.55,730.92 1512.05,730.92 1506.8,740.01" fill="#efb77c" />
<polygon points="1513.33,727.98 1523.83,727.98 1518.58,737.07" fill="#efb77c" />
<polygon points="1525.11,733.86 1535.61,733.86 1530.36,742.96" fill="#efb77c" />
<polygon points="1536.88,751.52 1547.38,751.52 1542.13,760.61" fill="#efb77c" />
<polygon points="1548.66,754.46 1559.16,754.46 1553.91,763.56" fill="#efb77c" />
<polygon points="1560.43,757.41 1570.93,757.41 1565.68,766.5" fill="#efb77c" />
<polygon points="1572.21,760.35 1582.71,760.35 1577.46,769.44" fill="#efb77c" />
<polygon points="1583.99,745.64 1594.49,745.64 1589.24,754.73" fill="#efb77c" />
<polygon points="1595.76,704.43 1606.26,704.43 1601.01,713.53" fill="#efb77c" />
<polygon points="1607.54,733.86 1618.04,733.86 1612.79,742.96" fill="#efb77c" />
<polygon points="1654.64,822.15 1665.14,822.15 1659.89,831.25" fill="#efb77c" />
<polygon points="1177.08,809.04 1188.85,741.35 1200.63,685.44 1212.4,660.71 1224.18,656.01 1235.96,644.23 1247.73,632.46 1259.51,641.29 1271.28,642.47 1283.06,653.06 1294.84,676.61 1306.61,697.21 1318.39,704.27 1330.16,708.98 1341.94,717.81 1353.72,714.87 1365.49,726.64 1377.27,729.58 1389.04,734.29 1400.82,740.18 1412.6,743.12 1424.37,747.24 1436.15,726.64 1447.92,732.52 1459.7,720.75 1471.48,700.15 1483.25,703.09 1495.03,726.64 1506.8,732.52 1518.58,720.75 1530.36,732.52 1542.13,717.81 1553.91,720.75 1565.68,732.52 1577.46,729.58 1589.24,726.64 1601.01,738.41 1612.79,788.44 1624.56,788.44 1636.34,764.9 1648.12,764.9 1648.12,770.78 1636.34,770.78 1624.56,823.76 1612.79,823.76 1601.01,773.73 1589.24,761.95 1577.46,764.9 1565.68,767.84 1553.91,756.07 1542.13,753.12 1530.36,767.84 1518.58,756.07 1506.8,761.95 1495.03,761.95 1483.25,750.18 1471.48,753.12 1459.7,756.07 1447.92,756.07 1436.15,750.18 1424.37,764.9 1412.6,757.25 1400.82,754.3 1389.04,748.42 1377.27,747.24 1365.49,744.3 1353.72,732.52 1341.94,735.47 1330.16,726.64 1318.39,725.46 1306.61,720.75 1294.84,706.04 1283.06,682.49 1271.28,675.43 1259.51,676.61 1247.73,667.78 1235.96,673.66 1224.18,679.55 1212.4,684.26 1200.63,703.09 1188.85,753.12 1177.08,814.93" fill="#e4f2ee" stroke="#a2d2c5" stroke-width="1.3" stroke-linejoin="round" fill-opacity="0.8"/>
<polygon points="1177.08,809.04 1188.85,741.35 1200.63,685.44 1212.4,660.71 1224.18,656.01 1235.96,644.23 1247.73,632.46 1259.51,641.29 1271.28,642.47 1283.06,653.06 1294.84,676.61 1306.61,697.21 1318.39,704.27 1330.16,708.98 1341.94,717.81 1353.72,714.87 1365.49,726.64 1377.27,729.58 1389.04,734.29 1400.82,740.18 1412.6,743.12 1424.37,747.24 1436.15,726.64 1447.92,732.52 1459.7,720.75 1471.48,700.15 1483.25,703.09 1495.03,726.64 1506.8,732.52 1518.58,720.75 1530.36,732.52 1542.13,717.81 1553.91,720.75 1565.68,732.52 1577.46,729.58 1589.24,726.64 1601.01,738.41 1612.79,788.44 1624.56,788.44 1636.34,764.9 1648.12,764.9 1648.12,770.78 1636.34,770.78 1624.56,823.76 1612.79,823.76 1601.01,773.73 1589.24,761.95 1577.46,764.9 1565.68,767.84 1553.91,756.07 1542.13,753.12 1530.36,767.84 1518.58,756.07 1506.8,761.95 1495.03,761.95 1483.25,750.18 1471.48,753.12 1459.7,756.07 1447.92,756.07 1436.15,750.18 1424.37,764.9 1412.6,757.25 1400.82,754.3 1389.04,748.42 1377.27,747.24 1365.49,744.3 1353.72,732.52 1341.94,735.47 1330.16,726.64 1318.39,725.46 1306.61,720.75 1294.84,706.04 1283.06,682.49 1271.28,675.43 1259.51,676.61 1247.73,667.78 1235.96,673.66 1224.18,679.55 1212.4,684.26 1200.63,703.09 1188.85,753.12 1177.08,814.93" fill="url(#dots)" />
<polygon points="1171.83,816.53 1182.33,816.53 1177.08,807.44" fill="#a2d2c5" />
<polygon points="1183.6,751.79 1194.1,751.79 1188.85,742.69" fill="#a2d2c5" />
<polygon points="1195.38,698.81 1205.88,698.81 1200.63,689.72" fill="#a2d2c5" />
<polygon points="1207.15,677.03 1217.65,677.03 1212.4,667.94" fill="#a2d2c5" />
<polygon points="1218.93,672.32 1229.43,672.32 1224.18,663.23" fill="#a2d2c5" />
<polygon points="1230.71,663.5 1241.21,663.5 1235.96,654.4" fill="#a2d2c5" />
<polygon points="1242.48,654.67 1252.98,654.67 1247.73,645.57" fill="#a2d2c5" />
<polygon points="1254.26,663.5 1264.76,663.5 1259.51,654.4" fill="#a2d2c5" />
<polygon points="1266.03,663.5 1276.53,663.5 1271.28,654.4" fill="#a2d2c5" />
<polygon points="1277.81,672.32 1288.31,672.32 1283.06,663.23" fill="#a2d2c5" />
<polygon points="1289.59,695.87 1300.09,695.87 1294.84,686.78" fill="#a2d2c5" />
<polygon points="1301.36,713.53 1311.86,713.53 1306.61,704.43" fill="#a2d2c5" />
<polygon points="1313.14,719.41 1323.64,719.41 1318.39,710.32" fill="#a2d2c5" />
<polygon points="1324.91,722.36 1335.41,722.36 1330.16,713.26" fill="#a2d2c5" />
<polygon points="1336.69,731.18 1347.19,731.18 1341.94,722.09" fill="#a2d2c5" />
<polygon points="1348.47,728.24 1358.97,728.24 1353.72,719.15" fill="#a2d2c5" />
<polygon points="1360.24,740.01 1370.74,740.01 1365.49,730.92" fill="#a2d2c5" />
<polygon points="1372.02,742.96 1382.52,742.96 1377.27,733.86" fill="#a2d2c5" />
<polygon points="1383.79,745.9 1394.29,745.9 1389.04,736.81" fill="#a2d2c5" />
<polygon points="1395.57,751.79 1406.07,751.79 1400.82,742.69" fill="#a2d2c5" />
<polygon points="1407.35,754.73 1417.85,754.73 1412.6,745.64" fill="#a2d2c5" />
<polygon points="1419.12,760.61 1429.62,760.61 1424.37,751.52" fill="#a2d2c5" />
<polygon points="1430.9,742.96 1441.4,742.96 1436.15,733.86" fill="#a2d2c5" />
<polygon points="1442.67,748.84 1453.17,748.84 1447.92,739.75" fill="#a2d2c5" />
<polygon points="1454.45,742.96 1464.95,742.96 1459.7,733.86" fill="#a2d2c5" />
<polygon points="1466.23,731.18 1476.73,731.18 1471.48,722.09" fill="#a2d2c5" />
<polygon points="1478,731.18 1488.5,731.18 1483.25,722.09" fill="#a2d2c5" />
<polygon points="1489.78,748.84 1500.28,748.84 1495.03,739.75" fill="#a2d2c5" />
<polygon points="1501.55,751.79 1512.05,751.79 1506.8,742.69" fill="#a2d2c5" />
<polygon points="1513.33,742.96 1523.83,742.96 1518.58,733.86" fill="#a2d2c5" />
<polygon points="1525.11,754.73 1535.61,754.73 1530.36,745.64" fill="#a2d2c5" />
<polygon points="1536.88,740.01 1547.38,740.01 1542.13,730.92" fill="#a2d2c5" />
<polygon points="1548.66,742.96 1559.16,742.96 1553.91,733.86" fill="#a2d2c5" />
<polygon points="1560.43,754.73 1570.93,754.73 1565.68,745.64" fill="#a2d2c5" />
<polygon points="1572.21,751.79 1582.71,751.79 1577.46,742.69" fill="#a2d2c5" />
<polygon points="1583.99,748.84 1594.49,748.84 1589.24,739.75" fill="#a2d2c5" />
<polygon points="1595.76,760.61 1606.26,760.61 1601.01,751.52" fill="#a2d2c5" />
<polygon points="1607.54,810.65 1618.04,810.65 1612.79,801.55" fill="#a2d2c5" />
<polygon points="1619.31,810.65 1629.81,810.65 1624.56,801.55" fill="#a2d2c5" />
<polygon points="1631.09,772.39 1641.59,772.39 1636.34,763.29" fill="#a2d2c5" />
<polygon points="1642.87,772.39 1653.37,772.39 1648.12,763.29" fill="#a2d2c5" />
<polygon points="1654.64,831.25 1665.14,831.25 1659.89,822.15" fill="#a2d2c5" />
<polygon points="1177.08,806.1 1188.85,735.47 1200.63,679.55 1212.4,631.28 1224.18,586.55 1235.96,577.13 1247.73,572.42 1259.51,585.37 1271.28,614.8 1283.06,632.46 1294.84,648.94 1306.61,674.84 1318.39,679.55 1330.16,706.04 1341.94,694.85 1353.72,703.09 1365.49,708.39 1377.27,718.99 1389.04,727.82 1400.82,736.64 1412.6,744.3 1424.37,769.02 1436.15,729.58 1447.92,738.41 1459.7,738.41 1471.48,750.18 1483.25,732.52 1495.03,738.41 1506.8,744.3 1518.58,731.35 1530.36,738.41 1542.13,747.24 1553.91,741.35 1565.68,750.18 1577.46,779.61 1589.24,697.21 1601.01,714.87 1612.79,708.98 1624.56,756.07 1636.34,756.07 1648.12,767.84 1648.12,826.7 1636.34,779.61 1624.56,779.61 1612.79,826.7 1601.01,785.5 1589.24,791.38 1577.46,814.93 1565.68,785.5 1553.91,770.78 1542.13,770.78 1530.36,761.95 1518.58,757.25 1506.8,767.84 1495.03,761.95 1483.25,756.07 1471.48,773.73 1459.7,761.95 1447.92,761.95 1436.15,753.12 1424.37,780.79 1412.6,761.95 1400.82,757.83 1389.04,749 1377.27,740.18 1365.49,731.94 1353.72,726.64 1341.94,720.75 1330.16,729.58 1318.39,705.45 1306.61,700.74 1294.84,678.37 1283.06,661.89 1271.28,647.77 1259.51,620.69 1247.73,605.39 1235.96,610.1 1224.18,619.51 1212.4,666.6 1200.63,703.09 1188.85,747.24 1177.08,811.99" fill="#d4e8e3" stroke="#4a8a80" stroke-width="1.3" stroke-linejoin="round" fill-opacity="0.8"/>
<polygon points="1177.08,806.1 1188.85,735.47 1200.63,679.55 1212.4,631.28 1224.18,586.55 1235.96,577.13 1247.73,572.42 1259.51,585.37 1271.28,614.8 1283.06,632.46 1294.84,648.94 1306.61,674.84 1318.39,679.55 1330.16,706.04 1341.94,694.85 1353.72,703.09 1365.49,708.39 1377.27,718.99 1389.04,727.82 1400.82,736.64 1412.6,744.3 1424.37,769.02 1436.15,729.58 1447.92,738.41 1459.7,738.41 1471.48,750.18 1483.25,732.52 1495.03,738.41 1506.8,744.3 1518.58,731.35 1530.36,738.41 1542.13,747.24 1553.91,741.35 1565.68,750.18 1577.46,779.61 1589.24,697.21 1601.01,714.87 1612.79,708.98 1624.56,756.07 1636.34,756.07 1648.12,767.84 1648.12,826.7 1636.34,779.61 1624.56,779.61 1612.79,826.7 1601.01,785.5 1589.24,791.38 1577.46,814.93 1565.68,785.5 1553.91,770.78 1542.13,770.78 1530.36,761.95 1518.58,757.25 1506.8,767.84 1495.03,761.95 1483.25,756.07 1471.48,773.73 1459.7,761.95 1447.92,761.95 1436.15,753.12 1424.37,780.79 1412.6,761.95 1400.82,757.83 1389.04,749 1377.27,740.18 1365.49,731.94 1353.72,726.64 1341.94,720.75 1330.16,729.58 1318.39,705.45 1306.61,700.74 1294.84,678.37 1283.06,661.89 1271.28,647.77 1259.51,620.69 1247.73,605.39 1235.96,610.1 1224.18,619.51 1212.4,666.6 1200.63,703.09 1188.85,747.24 1177.08,811.99" fill="url(#dots)" />
<circle cx="1177.08" cy="809.04" r="4.8" fill="#4a8a80"/>
<circle cx="1188.85" cy="741.35" r="4.8" fill="#4a8a80"/>
<circle cx="1200.63" cy="691.32" r="4.8" fill="#4a8a80"/>
<circle cx="1212.4" cy="648.94" r="4.8" fill="#4a8a80"/>
<circle cx="1224.18" cy="603.03" r="4.8" fill="#4a8a80"/>
<circle cx="1235.96" cy="593.61" r="4.8" fill="#4a8a80"/>
<circle cx="1247.73" cy="588.91" r="4.8" fill="#4a8a80"/>
<circle cx="1259.51" cy="603.03" r="4.8" fill="#4a8a80"/>
<circle cx="1271.28" cy="631.28" r="4.8" fill="#4a8a80"/>
<circle cx="1283.06" cy="647.18" r="4.8" fill="#4a8a80"/>
<circle cx="1294.84" cy="663.66" r="4.8" fill="#4a8a80"/>
<circle cx="1306.61" cy="687.79" r="4.8" fill="#4a8a80"/>
<circle cx="1318.39" cy="692.5" r="4.8" fill="#4a8a80"/>
<circle cx="1330.16" cy="717.81" r="4.8" fill="#4a8a80"/>
<circle cx="1341.94" cy="707.8" r="4.8" fill="#4a8a80"/>
<circle cx="1353.72" cy="714.87" r="4.8" fill="#4a8a80"/>
<circle cx="1365.49" cy="720.16" r="4.8" fill="#4a8a80"/>
<circle cx="1377.27" cy="729.58" r="4.8" fill="#4a8a80"/>
<circle cx="1389.04" cy="738.41" r="4.8" fill="#4a8a80"/>
<circle cx="1400.82" cy="747.24" r="4.8" fill="#4a8a80"/>
<circle cx="1412.6" cy="753.12" r="4.8" fill="#4a8a80"/>
<circle cx="1424.37" cy="774.9" r="4.8" fill="#4a8a80"/>
<circle cx="1436.15" cy="741.35" r="4.8" fill="#4a8a80"/>
<circle cx="1447.92" cy="750.18" r="4.8" fill="#4a8a80"/>
<circle cx="1459.7" cy="750.18" r="4.8" fill="#4a8a80"/>
<circle cx="1471.48" cy="761.95" r="4.8" fill="#4a8a80"/>
<circle cx="1483.25" cy="744.3" r="4.8" fill="#4a8a80"/>
<circle cx="1495.03" cy="750.18" r="4.8" fill="#4a8a80"/>
<circle cx="1506.8" cy="756.07" r="4.8" fill="#4a8a80"/>
<circle cx="1518.58" cy="744.3" r="4.8" fill="#4a8a80"/>
<circle cx="1530.36" cy="750.18" r="4.8" fill="#4a8a80"/>
<circle cx="1542.13" cy="759.01" r="4.8" fill="#4a8a80"/>
<circle cx="1553.91" cy="756.07" r="4.8" fill="#4a8a80"/>
<circle cx="1565.68" cy="767.84" r="4.8" fill="#4a8a80"/>
<circle cx="1577.46" cy="797.27" r="4.8" fill="#4a8a80"/>
<circle cx="1589.24" cy="744.3" r="4.8" fill="#4a8a80"/>
<circle cx="1601.01" cy="750.18" r="4.8" fill="#4a8a80"/>
<circle cx="1612.79" cy="767.84" r="4.8" fill="#4a8a80"/>
<circle cx="1624.56" cy="767.84" r="4.8" fill="#4a8a80"/>
<circle cx="1636.34" cy="767.84" r="4.8" fill="#4a8a80"/>
<circle cx="1648.12" cy="797.27" r="4.8" fill="#4a8a80"/>
<circle cx="1659.89" cy="767.84" r="4.8" fill="#4a8a80"/>
<circle cx="1671.67" cy="767.84" r="4.8" fill="#4a8a80"/>
<circle cx="1683.44" cy="767.84" r="4.8" fill="#4a8a80"/>
<circle cx="1695.22" cy="826.7" r="4.8" fill="#4a8a80"/>
<line x1="1165.3" y1="531.65" x2="1165.3" y2="827.45" stroke="#000" stroke-width="1.6" />
<line x1="1164.55" y1="826.7" x2="1754.85" y2="826.7" stroke="#000" stroke-width="1.6" />
<line x1="1153.7" y1="826.7" x2="1165.3" y2="826.7" stroke="#000" stroke-width="1.6" />
<text x="1149.3" y="833.35" font-size="19" fill="#000" text-anchor="end" textLength="10.65" lengthAdjust="spacingAndGlyphs">0</text>
<line x1="1153.7" y1="767.84" x2="1165.3" y2="767.84" stroke="#000" stroke-width="1.6" />
<text x="1149.3" y="774.49" font-size="19" fill="#000" text-anchor="end" textLength="10.65" lengthAdjust="spacingAndGlyphs">1</text>
<line x1="1153.7" y1="708.98" x2="1165.3" y2="708.98" stroke="#000" stroke-width="1.6" />
<text x="1149.3" y="715.63" font-size="19" fill="#000" text-anchor="end" textLength="10.65" lengthAdjust="spacingAndGlyphs">2</text>
<line x1="1153.7" y1="650.12" x2="1165.3" y2="650.12" stroke="#000" stroke-width="1.6" />
<text x="1149.3" y="656.77" font-size="19" fill="#000" text-anchor="end" textLength="10.65" lengthAdjust="spacingAndGlyphs">3</text>
<line x1="1153.7" y1="591.26" x2="1165.3" y2="591.26" stroke="#000" stroke-width="1.6" />
<text x="1149.3" y="597.91" font-size="19" fill="#000" text-anchor="end" textLength="10.65" lengthAdjust="spacingAndGlyphs">4</text>
<line x1="1153.7" y1="532.4" x2="1165.3" y2="532.4" stroke="#000" stroke-width="1.6" />
<text x="1149.3" y="539.05" font-size="19" fill="#000" text-anchor="end" textLength="10.65" lengthAdjust="spacingAndGlyphs">5</text>
<line x1="1165.3" y1="826.7" x2="1165.3" y2="838.7" stroke="#000" stroke-width="1.6" />
<text x="1165.3" y="861" font-size="19.97" fill="#000" text-anchor="middle" textLength="11.7" lengthAdjust="spacingAndGlyphs">0</text>
<line x1="1224.18" y1="826.7" x2="1224.18" y2="832.7" stroke="#000" stroke-width="1.6" />
<line x1="1283.06" y1="826.7" x2="1283.06" y2="838.7" stroke="#000" stroke-width="1.6" />
<text x="1283.06" y="861" font-size="19.97" fill="#000" text-anchor="middle" textLength="35.1" lengthAdjust="spacingAndGlyphs">100</text>
<line x1="1341.94" y1="826.7" x2="1341.94" y2="832.7" stroke="#000" stroke-width="1.6" />
<line x1="1400.82" y1="826.7" x2="1400.82" y2="838.7" stroke="#000" stroke-width="1.6" />
<text x="1400.82" y="861" font-size="19.97" fill="#000" text-anchor="middle" textLength="35.1" lengthAdjust="spacingAndGlyphs">200</text>
<line x1="1459.7" y1="826.7" x2="1459.7" y2="832.7" stroke="#000" stroke-width="1.6" />
<line x1="1518.58" y1="826.7" x2="1518.58" y2="838.7" stroke="#000" stroke-width="1.6" />
<text x="1518.58" y="861" font-size="19.97" fill="#000" text-anchor="middle" textLength="35.1" lengthAdjust="spacingAndGlyphs">300</text>
<line x1="1577.46" y1="826.7" x2="1577.46" y2="832.7" stroke="#000" stroke-width="1.6" />
<line x1="1636.34" y1="826.7" x2="1636.34" y2="838.7" stroke="#000" stroke-width="1.6" />
<text x="1636.34" y="861" font-size="19.97" fill="#000" text-anchor="middle" textLength="35.1" lengthAdjust="spacingAndGlyphs">400</text>
<line x1="1695.22" y1="826.7" x2="1695.22" y2="832.7" stroke="#000" stroke-width="1.6" />
<line x1="1754.1" y1="826.7" x2="1754.1" y2="838.7" stroke="#000" stroke-width="1.6" />
<text x="1754.1" y="861" font-size="19.97" fill="#000" text-anchor="middle" textLength="35.1" lengthAdjust="spacingAndGlyphs">500</text>
<text transform="translate(1124,680.5) rotate(-90)" font-size="18.2" fill="#000" text-anchor="middle" textLength="101.5" lengthAdjust="spacingAndGlyphs">Intersections</text>
<text x="1405" y="894" font-size="20.5" fill="#000" textLength="111.3" lengthAdjust="spacingAndGlyphs">Radius(µm)</text>
<polygon points="1497.6,506.33 1507.6,506.33 1502.6,497.67" fill="#a2d2c5" />
<text x="1536.5" y="508.3" font-size="17.5" fill="#333" textLength="103.8" lengthAdjust="spacingAndGlyphs">Females WT</text>
<circle cx="1502.6" cy="536" r="4.6" fill="#4a8a80"/>
<text x="1536.5" y="542.3" font-size="17.5" fill="#333" textLength="82.5" lengthAdjust="spacingAndGlyphs">Males WT</text>
<polygon points="1497.6,565.27 1507.6,565.27 1502.6,573.93" fill="#efb77c" />
<text x="1536.5" y="575.9" font-size="17.5" fill="#333" textLength="112.5" lengthAdjust="spacingAndGlyphs">Females Tsc2</text>
<circle cx="1502.6" cy="604" r="4.6" fill="#c8621b"/>
<text x="1536.5" y="610.3" font-size="17.5" fill="#333" textLength="91.5" lengthAdjust="spacingAndGlyphs">Males Tsc2</text>
<rect x="7.5" y="520.4" width="69.3" height="806.1" fill="none" stroke="#111" stroke-width="1.6" />
<text transform="translate(56.6,923) rotate(-90)" font-size="43" fill="#000" text-anchor="middle" textLength="299" lengthAdjust="spacingAndGlyphs">Basal Dendrites</text>
<rect x="932.2" y="521.7" width="69.5" height="808.3" fill="none" stroke="#111" stroke-width="1.6" />
<text transform="translate(981.3,926.2) rotate(-90)" font-size="43" fill="#000" text-anchor="middle" textLength="311" lengthAdjust="spacingAndGlyphs">Apical Dendrites</text>
<text x="114" y="961" font-size="36" fill="#000" font-weight="bold" textLength="49" lengthAdjust="spacingAndGlyphs">Dii</text>
<rect x="261.5" y="1239.51" width="32.3" height="71.99" fill="#abd0c4" />
<rect x="301.2" y="1206.17" width="32.2" height="105.33" fill="#4f8a80" />
<rect x="350.2" y="1244.82" width="32.3" height="66.68" fill="#e6b57d" />
<rect x="390.4" y="1239.99" width="32.2" height="71.51" fill="#c4641e" />
<line x1="277.65" y1="1239.51" x2="277.65" y2="1234.19" stroke="#3f8276" stroke-width="1.3" />
<line x1="271.65" y1="1234.19" x2="283.65" y2="1234.19" stroke="#3f8276" stroke-width="1.3" />
<line x1="317.3" y1="1206.17" x2="317.3" y2="1200.85" stroke="#356f63" stroke-width="1.3" />
<line x1="311.3" y1="1200.85" x2="323.3" y2="1200.85" stroke="#356f63" stroke-width="1.3" />
<line x1="366.35" y1="1244.82" x2="366.35" y2="1239.51" stroke="#cc6a1f" stroke-width="1.3" />
<line x1="360.35" y1="1239.51" x2="372.35" y2="1239.51" stroke="#cc6a1f" stroke-width="1.3" />
<line x1="406.5" y1="1239.99" x2="406.5" y2="1235.64" stroke="#8e4616" stroke-width="1.3" />
<line x1="400.5" y1="1235.64" x2="412.5" y2="1235.64" stroke="#8e4616" stroke-width="1.3" />
<polygon points="274.32,1314.38 280.97,1314.38 277.65,1308.62" fill="none" stroke="#3f8276" stroke-width="1.4" stroke-linejoin="round" />
<polygon points="274.32,1286.72 280.97,1286.72 277.65,1280.96" fill="none" stroke="#3f8276" stroke-width="1.4" stroke-linejoin="round" />
<polygon points="274.32,1280 280.97,1280 277.65,1274.24" fill="none" stroke="#3f8276" stroke-width="1.4" stroke-linejoin="round" />
<polygon points="279.37,1278.85 286.01,1278.85 282.69,1273.09" fill="none" stroke="#3f8276" stroke-width="1.4" stroke-linejoin="round" />
<polygon points="269.28,1276.92 275.93,1276.92 272.61,1271.16" fill="none" stroke="#3f8276" stroke-width="1.4" stroke-linejoin="round" />
<polygon points="284.4,1276.8 291.05,1276.8 287.73,1271.04" fill="none" stroke="#3f8276" stroke-width="1.4" stroke-linejoin="round" />
<polygon points="264.25,1276.15 270.89,1276.15 267.57,1270.4" fill="none" stroke="#3f8276" stroke-width="1.4" stroke-linejoin="round" />
<polygon points="274.32,1274.69 280.97,1274.69 277.65,1268.93" fill="none" stroke="#3f8276" stroke-width="1.4" stroke-linejoin="round" />
<polygon points="289.44,1274.52 296.09,1274.52 292.77,1268.76" fill="none" stroke="#3f8276" stroke-width="1.4" stroke-linejoin="round" />
<polygon points="279.37,1272.87 286.01,1272.87 282.69,1267.11" fill="none" stroke="#3f8276" stroke-width="1.4" stroke-linejoin="round" />
<polygon points="274.32,1265.36 280.97,1265.36 277.65,1259.6" fill="none" stroke="#3f8276" stroke-width="1.4" stroke-linejoin="round" />
<polygon points="279.37,1265.22 286.01,1265.22 282.69,1259.46" fill="none" stroke="#3f8276" stroke-width="1.4" stroke-linejoin="round" />
<polygon points="274.32,1259.58 280.97,1259.58 277.65,1253.82" fill="none" stroke="#3f8276" stroke-width="1.4" stroke-linejoin="round" />
<polygon points="276.84,1256 283.49,1256 280.17,1250.24" fill="none" stroke="#3f8276" stroke-width="1.4" stroke-linejoin="round" />
<polygon points="271.81,1254.81 278.45,1254.81 275.13,1249.05" fill="none" stroke="#3f8276" stroke-width="1.4" stroke-linejoin="round" />
<polygon points="281.88,1254.79 288.53,1254.79 285.21,1249.03" fill="none" stroke="#3f8276" stroke-width="1.4" stroke-linejoin="round" />
<polygon points="266.76,1254.5 273.41,1254.5 270.09,1248.74" fill="none" stroke="#3f8276" stroke-width="1.4" stroke-linejoin="round" />
<polygon points="286.93,1252.31 293.57,1252.31 290.25,1246.55" fill="none" stroke="#3f8276" stroke-width="1.4" stroke-linejoin="round" />
<polygon points="274.32,1250.83 280.97,1250.83 277.65,1245.07" fill="none" stroke="#3f8276" stroke-width="1.4" stroke-linejoin="round" />
<polygon points="279.37,1250.64 286.01,1250.64 282.69,1244.88" fill="none" stroke="#3f8276" stroke-width="1.4" stroke-linejoin="round" />
<polygon points="269.28,1250.06 275.93,1250.06 272.61,1244.3" fill="none" stroke="#3f8276" stroke-width="1.4" stroke-linejoin="round" />
<polygon points="264.25,1249.99 270.89,1249.99 267.57,1244.23" fill="none" stroke="#3f8276" stroke-width="1.4" stroke-linejoin="round" />
<polygon points="289.44,1249.7 296.09,1249.7 292.77,1243.94" fill="none" stroke="#3f8276" stroke-width="1.4" stroke-linejoin="round" />
<polygon points="284.4,1248.62 291.05,1248.62 287.73,1242.87" fill="none" stroke="#3f8276" stroke-width="1.4" stroke-linejoin="round" />
<polygon points="276.84,1246.64 283.49,1246.64 280.17,1240.88" fill="none" stroke="#3f8276" stroke-width="1.4" stroke-linejoin="round" />
<polygon points="271.81,1245.58 278.45,1245.58 275.13,1239.82" fill="none" stroke="#3f8276" stroke-width="1.4" stroke-linejoin="round" />
<polygon points="281.88,1244.21 288.53,1244.21 285.21,1238.45" fill="none" stroke="#3f8276" stroke-width="1.4" stroke-linejoin="round" />
<polygon points="266.76,1244.12 273.41,1244.12 270.09,1238.36" fill="none" stroke="#3f8276" stroke-width="1.4" stroke-linejoin="round" />
<polygon points="286.93,1242.86 293.57,1242.86 290.25,1237.1" fill="none" stroke="#3f8276" stroke-width="1.4" stroke-linejoin="round" />
<polygon points="274.32,1240.8 280.97,1240.8 277.65,1235.04" fill="none" stroke="#3f8276" stroke-width="1.4" stroke-linejoin="round" />
<polygon points="279.37,1240.64 286.01,1240.64 282.69,1234.88" fill="none" stroke="#3f8276" stroke-width="1.4" stroke-linejoin="round" />
<polygon points="269.28,1238.59 275.93,1238.59 272.61,1232.83" fill="none" stroke="#3f8276" stroke-width="1.4" stroke-linejoin="round" />
<polygon points="284.4,1238.51 291.05,1238.51 287.73,1232.75" fill="none" stroke="#3f8276" stroke-width="1.4" stroke-linejoin="round" />
<polygon points="274.32,1234.58 280.97,1234.58 277.65,1228.83" fill="none" stroke="#3f8276" stroke-width="1.4" stroke-linejoin="round" />
<polygon points="279.37,1233.95 286.01,1233.95 282.69,1228.19" fill="none" stroke="#3f8276" stroke-width="1.4" stroke-linejoin="round" />
<polygon points="269.28,1233.75 275.93,1233.75 272.61,1227.99" fill="none" stroke="#3f8276" stroke-width="1.4" stroke-linejoin="round" />
<polygon points="284.4,1233.66 291.05,1233.66 287.73,1227.9" fill="none" stroke="#3f8276" stroke-width="1.4" stroke-linejoin="round" />
<polygon points="264.25,1230.76 270.89,1230.76 267.57,1225" fill="none" stroke="#3f8276" stroke-width="1.4" stroke-linejoin="round" />
<polygon points="274.32,1227.78 280.97,1227.78 277.65,1222.02" fill="none" stroke="#3f8276" stroke-width="1.4" stroke-linejoin="round" />
<polygon points="279.37,1227.52 286.01,1227.52 282.69,1221.76" fill="none" stroke="#3f8276" stroke-width="1.4" stroke-linejoin="round" />
<polygon points="269.28,1225.35 275.93,1225.35 272.61,1219.59" fill="none" stroke="#3f8276" stroke-width="1.4" stroke-linejoin="round" />
<polygon points="284.4,1225.32 291.05,1225.32 287.73,1219.56" fill="none" stroke="#3f8276" stroke-width="1.4" stroke-linejoin="round" />
<polygon points="274.32,1216.06 280.97,1216.06 277.65,1210.3" fill="none" stroke="#3f8276" stroke-width="1.4" stroke-linejoin="round" />
<polygon points="274.32,1208.08 280.97,1208.08 277.65,1202.32" fill="none" stroke="#3f8276" stroke-width="1.4" stroke-linejoin="round" />
<polygon points="279.37,1206.15 286.01,1206.15 282.69,1200.39" fill="none" stroke="#3f8276" stroke-width="1.4" stroke-linejoin="round" />
<polygon points="269.28,1205.18 275.93,1205.18 272.61,1199.42" fill="none" stroke="#3f8276" stroke-width="1.4" stroke-linejoin="round" />
<polygon points="274.32,1203.25 280.97,1203.25 277.65,1197.49" fill="none" stroke="#3f8276" stroke-width="1.4" stroke-linejoin="round" />
<polygon points="274.32,1195.52 280.97,1195.52 277.65,1189.76" fill="none" stroke="#3f8276" stroke-width="1.4" stroke-linejoin="round" />
<polygon points="274.32,1183.92 280.97,1183.92 277.65,1178.17" fill="none" stroke="#3f8276" stroke-width="1.4" stroke-linejoin="round" />
<polygon points="274.32,1159.77 280.97,1159.77 277.65,1154.01" fill="none" stroke="#3f8276" stroke-width="1.4" stroke-linejoin="round" />
<polygon points="279.37,1157.83 286.01,1157.83 282.69,1152.07" fill="none" stroke="#3f8276" stroke-width="1.4" stroke-linejoin="round" />
<polygon points="274.32,1152.04 280.97,1152.04 277.65,1146.28" fill="none" stroke="#3f8276" stroke-width="1.4" stroke-linejoin="round" />
<circle cx="317.3" cy="1311.5" r="2.52" fill="none" stroke="#356f63" stroke-width="1.4"/>
<circle cx="317.3" cy="1251.93" r="2.52" fill="none" stroke="#356f63" stroke-width="1.4"/>
<circle cx="322.34" cy="1249.88" r="2.52" fill="none" stroke="#356f63" stroke-width="1.4"/>
<circle cx="317.3" cy="1246.65" r="2.52" fill="none" stroke="#356f63" stroke-width="1.4"/>
<circle cx="317.3" cy="1237.21" r="2.52" fill="none" stroke="#356f63" stroke-width="1.4"/>
<circle cx="322.34" cy="1234.53" r="2.52" fill="none" stroke="#356f63" stroke-width="1.4"/>
<circle cx="317.3" cy="1228.75" r="2.52" fill="none" stroke="#356f63" stroke-width="1.4"/>
<circle cx="322.34" cy="1225.38" r="2.52" fill="none" stroke="#356f63" stroke-width="1.4"/>
<circle cx="312.26" cy="1225.29" r="2.52" fill="none" stroke="#356f63" stroke-width="1.4"/>
<circle cx="317.3" cy="1224.37" r="2.52" fill="none" stroke="#356f63" stroke-width="1.4"/>
<circle cx="327.38" cy="1223.95" r="2.52" fill="none" stroke="#356f63" stroke-width="1.4"/>
<circle cx="307.22" cy="1222.68" r="2.52" fill="none" stroke="#356f63" stroke-width="1.4"/>
<circle cx="332.42" cy="1222.56" r="2.52" fill="none" stroke="#356f63" stroke-width="1.4"/>
<circle cx="332.42" cy="1222.01" r="2.52" fill="none" stroke="#356f63" stroke-width="1.4"/>
<circle cx="317.3" cy="1218.93" r="2.52" fill="none" stroke="#356f63" stroke-width="1.4"/>
<circle cx="322.34" cy="1218.1" r="2.52" fill="none" stroke="#356f63" stroke-width="1.4"/>
<circle cx="312.26" cy="1217.99" r="2.52" fill="none" stroke="#356f63" stroke-width="1.4"/>
<circle cx="327.38" cy="1215.7" r="2.52" fill="none" stroke="#356f63" stroke-width="1.4"/>
<circle cx="307.22" cy="1215.43" r="2.52" fill="none" stroke="#356f63" stroke-width="1.4"/>
<circle cx="332.42" cy="1214.73" r="2.52" fill="none" stroke="#356f63" stroke-width="1.4"/>
<circle cx="317.3" cy="1213.12" r="2.52" fill="none" stroke="#356f63" stroke-width="1.4"/>
<circle cx="322.34" cy="1210.74" r="2.52" fill="none" stroke="#356f63" stroke-width="1.4"/>
<circle cx="317.3" cy="1208.12" r="2.52" fill="none" stroke="#356f63" stroke-width="1.4"/>
<circle cx="312.26" cy="1206.95" r="2.52" fill="none" stroke="#356f63" stroke-width="1.4"/>
<circle cx="322.34" cy="1205.25" r="2.52" fill="none" stroke="#356f63" stroke-width="1.4"/>
<circle cx="317.3" cy="1203.28" r="2.52" fill="none" stroke="#356f63" stroke-width="1.4"/>
<circle cx="317.3" cy="1193.45" r="2.52" fill="none" stroke="#356f63" stroke-width="1.4"/>
<circle cx="322.34" cy="1192.36" r="2.52" fill="none" stroke="#356f63" stroke-width="1.4"/>
<circle cx="312.26" cy="1191.2" r="2.52" fill="none" stroke="#356f63" stroke-width="1.4"/>
<circle cx="327.38" cy="1190.95" r="2.52" fill="none" stroke="#356f63" stroke-width="1.4"/>
<circle cx="307.22" cy="1190.68" r="2.52" fill="none" stroke="#356f63" stroke-width="1.4"/>
<circle cx="332.42" cy="1190.28" r="2.52" fill="none" stroke="#356f63" stroke-width="1.4"/>
<circle cx="332.42" cy="1190.07" r="2.52" fill="none" stroke="#356f63" stroke-width="1.4"/>
<circle cx="317.3" cy="1186.91" r="2.52" fill="none" stroke="#356f63" stroke-width="1.4"/>
<circle cx="322.34" cy="1186.04" r="2.52" fill="none" stroke="#356f63" stroke-width="1.4"/>
<circle cx="312.26" cy="1185.33" r="2.52" fill="none" stroke="#356f63" stroke-width="1.4"/>
<circle cx="327.38" cy="1184.81" r="2.52" fill="none" stroke="#356f63" stroke-width="1.4"/>
<circle cx="307.22" cy="1184.71" r="2.52" fill="none" stroke="#356f63" stroke-width="1.4"/>
<circle cx="317.3" cy="1182.01" r="2.52" fill="none" stroke="#356f63" stroke-width="1.4"/>
<circle cx="319.82" cy="1178.15" r="2.52" fill="none" stroke="#356f63" stroke-width="1.4"/>
<circle cx="314.78" cy="1177.02" r="2.52" fill="none" stroke="#356f63" stroke-width="1.4"/>
<circle cx="324.86" cy="1176.21" r="2.52" fill="none" stroke="#356f63" stroke-width="1.4"/>
<circle cx="317.3" cy="1171.38" r="2.52" fill="none" stroke="#356f63" stroke-width="1.4"/>
<circle cx="322.34" cy="1170.62" r="2.52" fill="none" stroke="#356f63" stroke-width="1.4"/>
<circle cx="317.3" cy="1158.82" r="2.52" fill="none" stroke="#356f63" stroke-width="1.4"/>
<circle cx="322.34" cy="1156.89" r="2.52" fill="none" stroke="#356f63" stroke-width="1.4"/>
<circle cx="317.3" cy="1153.99" r="2.52" fill="none" stroke="#356f63" stroke-width="1.4"/>
<circle cx="317.3" cy="1148.19" r="2.52" fill="none" stroke="#356f63" stroke-width="1.4"/>
<circle cx="322.34" cy="1145.29" r="2.52" fill="none" stroke="#356f63" stroke-width="1.4"/>
<circle cx="317.3" cy="1132.73" r="2.52" fill="none" stroke="#356f63" stroke-width="1.4"/>
<circle cx="319.82" cy="1128.86" r="2.52" fill="none" stroke="#356f63" stroke-width="1.4"/>
<circle cx="317.3" cy="1113.4" r="2.52" fill="none" stroke="#356f63" stroke-width="1.4"/>
<polygon points="362.68,1293.18 370.03,1293.18 366.35,1286.81" fill="#cc6a1f" />
<polygon points="367.72,1290.95 375.07,1290.95 371.39,1284.59" fill="#cc6a1f" />
<polygon points="357.63,1290.63 364.99,1290.63 361.31,1284.27" fill="#cc6a1f" />
<polygon points="372.75,1289.46 380.11,1289.46 376.43,1283.09" fill="#cc6a1f" />
<polygon points="362.68,1288.18 370.03,1288.18 366.35,1281.82" fill="#cc6a1f" />
<polygon points="367.72,1285.87 375.07,1285.87 371.39,1279.5" fill="#cc6a1f" />
<polygon points="362.68,1278.93 370.03,1278.93 366.35,1272.57" fill="#cc6a1f" />
<polygon points="362.68,1274.48 370.03,1274.48 366.35,1268.11" fill="#cc6a1f" />
<polygon points="362.68,1270.03 370.03,1270.03 366.35,1263.66" fill="#cc6a1f" />
<polygon points="367.72,1268.04 375.07,1268.04 371.39,1261.67" fill="#cc6a1f" />
<polygon points="357.63,1267.65 364.99,1267.65 361.31,1261.29" fill="#cc6a1f" />
<polygon points="362.68,1264.77 370.03,1264.77 366.35,1258.41" fill="#cc6a1f" />
<polygon points="370.24,1264.06 377.59,1264.06 373.91,1257.69" fill="#cc6a1f" />
<polygon points="357.63,1261.51 364.99,1261.51 361.31,1255.14" fill="#cc6a1f" />
<polygon points="362.68,1258.7 370.03,1258.7 366.35,1252.33" fill="#cc6a1f" />
<polygon points="367.72,1256.39 375.07,1256.39 371.39,1250.03" fill="#cc6a1f" />
<polygon points="360.16,1255.06 367.51,1255.06 363.83,1248.7" fill="#cc6a1f" />
<polygon points="355.12,1255.02 362.47,1255.02 358.79,1248.65" fill="#cc6a1f" />
<polygon points="372.75,1253.87 380.11,1253.87 376.43,1247.5" fill="#cc6a1f" />
<polygon points="350.07,1253.77 357.43,1253.77 353.75,1247.41" fill="#cc6a1f" />
<polygon points="377.8,1253.1 385.15,1253.1 381.47,1246.73" fill="#cc6a1f" />
<polygon points="362.68,1250.18 370.03,1250.18 366.35,1243.82" fill="#cc6a1f" />
<polygon points="367.72,1248.64 375.07,1248.64 371.39,1242.28" fill="#cc6a1f" />
<polygon points="362.68,1245.27 370.03,1245.27 366.35,1238.91" fill="#cc6a1f" />
<polygon points="367.72,1241.9 375.07,1241.9 371.39,1235.53" fill="#cc6a1f" />
<polygon points="360.16,1241.2 367.51,1241.2 363.83,1234.83" fill="#cc6a1f" />
<polygon points="355.12,1238.64 362.47,1238.64 358.79,1232.28" fill="#cc6a1f" />
<polygon points="362.68,1236.47 370.03,1236.47 366.35,1230.11" fill="#cc6a1f" />
<polygon points="367.72,1236.43 375.07,1236.43 371.39,1230.07" fill="#cc6a1f" />
<polygon points="372.75,1235.25 380.11,1235.25 376.43,1228.89" fill="#cc6a1f" />
<polygon points="357.63,1234.29 364.99,1234.29 361.31,1227.92" fill="#cc6a1f" />
<polygon points="352.6,1234.18 359.95,1234.18 356.27,1227.81" fill="#cc6a1f" />
<polygon points="377.8,1233.35 385.15,1233.35 381.47,1226.98" fill="#cc6a1f" />
<polygon points="377.8,1233.31 385.15,1233.31 381.47,1226.95" fill="#cc6a1f" />
<polygon points="362.68,1228.18 370.03,1228.18 366.35,1221.82" fill="#cc6a1f" />
<polygon points="362.68,1223.49 370.03,1223.49 366.35,1217.12" fill="#cc6a1f" />
<polygon points="362.68,1216.66 370.03,1216.66 366.35,1210.3" fill="#cc6a1f" />
<polygon points="367.72,1216.47 375.07,1216.47 371.39,1210.11" fill="#cc6a1f" />
<polygon points="357.63,1214.46 364.99,1214.46 361.31,1208.09" fill="#cc6a1f" />
<polygon points="365.19,1212.73 372.55,1212.73 368.87,1206.37" fill="#cc6a1f" />
<polygon points="370.24,1212.25 377.59,1212.25 373.91,1205.89" fill="#cc6a1f" />
<polygon points="362.68,1202.59 370.03,1202.59 366.35,1196.22" fill="#cc6a1f" />
<polygon points="367.72,1199.69 375.07,1199.69 371.39,1193.32" fill="#cc6a1f" />
<polygon points="362.68,1195.82 370.03,1195.82 366.35,1189.46" fill="#cc6a1f" />
<polygon points="362.68,1171.67 370.03,1171.67 366.35,1165.3" fill="#cc6a1f" />
<circle cx="406.5" cy="1295.07" r="3.64" fill="#8e4616"/>
<circle cx="406.5" cy="1283.32" r="3.64" fill="#8e4616"/>
<circle cx="406.5" cy="1276.8" r="3.64" fill="#8e4616"/>
<circle cx="411.54" cy="1274.5" r="3.64" fill="#8e4616"/>
<circle cx="401.46" cy="1273.44" r="3.64" fill="#8e4616"/>
<circle cx="416.58" cy="1273.08" r="3.64" fill="#8e4616"/>
<circle cx="396.42" cy="1272.89" r="3.64" fill="#8e4616"/>
<circle cx="406.5" cy="1271.03" r="3.64" fill="#8e4616"/>
<circle cx="411.54" cy="1269.77" r="3.64" fill="#8e4616"/>
<circle cx="406.5" cy="1261.54" r="3.64" fill="#8e4616"/>
<circle cx="409.02" cy="1257.75" r="3.64" fill="#8e4616"/>
<circle cx="403.98" cy="1256.83" r="3.64" fill="#8e4616"/>
<circle cx="414.06" cy="1256.32" r="3.64" fill="#8e4616"/>
<circle cx="398.94" cy="1255.96" r="3.64" fill="#8e4616"/>
<circle cx="419.1" cy="1255.42" r="3.64" fill="#8e4616"/>
<circle cx="393.9" cy="1254.8" r="3.64" fill="#8e4616"/>
<circle cx="406.5" cy="1251.17" r="3.64" fill="#8e4616"/>
<circle cx="411.54" cy="1250.41" r="3.64" fill="#8e4616"/>
<circle cx="401.46" cy="1250.29" r="3.64" fill="#8e4616"/>
<circle cx="416.58" cy="1249.89" r="3.64" fill="#8e4616"/>
<circle cx="396.42" cy="1249.59" r="3.64" fill="#8e4616"/>
<circle cx="421.62" cy="1248.91" r="3.64" fill="#8e4616"/>
<circle cx="406.5" cy="1244.29" r="3.64" fill="#8e4616"/>
<circle cx="411.54" cy="1241.52" r="3.64" fill="#8e4616"/>
<circle cx="403.98" cy="1240.29" r="3.64" fill="#8e4616"/>
<circle cx="398.94" cy="1238.88" r="3.64" fill="#8e4616"/>
<circle cx="416.58" cy="1238.12" r="3.64" fill="#8e4616"/>
<circle cx="409.02" cy="1236.96" r="3.64" fill="#8e4616"/>
<circle cx="393.9" cy="1236.1" r="3.64" fill="#8e4616"/>
<circle cx="403.98" cy="1235.81" r="3.64" fill="#8e4616"/>
<circle cx="414.06" cy="1234.14" r="3.64" fill="#8e4616"/>
<circle cx="398.94" cy="1233.73" r="3.64" fill="#8e4616"/>
<circle cx="419.1" cy="1233.64" r="3.64" fill="#8e4616"/>
<circle cx="406.5" cy="1229.94" r="3.64" fill="#8e4616"/>
<circle cx="411.54" cy="1229.23" r="3.64" fill="#8e4616"/>
<circle cx="401.46" cy="1228.48" r="3.64" fill="#8e4616"/>
<circle cx="416.58" cy="1228.03" r="3.64" fill="#8e4616"/>
<circle cx="406.5" cy="1225.33" r="3.64" fill="#8e4616"/>
<circle cx="411.54" cy="1224.77" r="3.64" fill="#8e4616"/>
<circle cx="403.98" cy="1221.37" r="3.64" fill="#8e4616"/>
<circle cx="406.5" cy="1214.63" r="3.64" fill="#8e4616"/>
<circle cx="406.5" cy="1199.41" r="3.64" fill="#8e4616"/>
<circle cx="409.02" cy="1195.54" r="3.64" fill="#8e4616"/>
<circle cx="403.98" cy="1192.64" r="3.64" fill="#8e4616"/>
<circle cx="409.02" cy="1190.71" r="3.64" fill="#8e4616"/>
<circle cx="403.98" cy="1187.81" r="3.64" fill="#8e4616"/>
<circle cx="409.02" cy="1185.88" r="3.64" fill="#8e4616"/>
<circle cx="406.5" cy="1182.01" r="3.64" fill="#8e4616"/>
<line x1="245" y1="1020.85" x2="245" y2="1312.25" stroke="#000" stroke-width="1.6" />
<line x1="233.8" y1="1311.5" x2="245" y2="1311.5" stroke="#000" stroke-width="1.6" />
<text x="229.3" y="1316.95" font-size="15.57" fill="#000" text-anchor="end" textLength="9.75" lengthAdjust="spacingAndGlyphs">0</text>
<line x1="233.8" y1="1214.87" x2="245" y2="1214.87" stroke="#000" stroke-width="1.6" />
<text x="229.3" y="1220.32" font-size="15.57" fill="#000" text-anchor="end" textLength="39" lengthAdjust="spacingAndGlyphs">1000</text>
<line x1="233.8" y1="1118.23" x2="245" y2="1118.23" stroke="#000" stroke-width="1.6" />
<text x="229.3" y="1123.68" font-size="15.57" fill="#000" text-anchor="end" textLength="39" lengthAdjust="spacingAndGlyphs">2000</text>
<line x1="233.8" y1="1021.6" x2="245" y2="1021.6" stroke="#000" stroke-width="1.6" />
<text x="229.3" y="1027.05" font-size="15.57" fill="#000" text-anchor="end" textLength="39" lengthAdjust="spacingAndGlyphs">3000</text>
<text x="278.15" y="1331.5" font-size="20" fill="#000" text-anchor="middle" font-family='"DejaVu Sans", "Liberation Sans", sans-serif'>&#9792;</text>
<text x="317.3" y="1332.7" font-size="20" fill="#000" text-anchor="middle" font-family='"DejaVu Sans", "Liberation Sans", sans-serif'>&#9794;</text>
<text x="366.85" y="1331.5" font-size="20" fill="#000" text-anchor="middle" font-family='"DejaVu Sans", "Liberation Sans", sans-serif'>&#9792;</text>
<text x="406.5" y="1332.7" font-size="20" fill="#000" text-anchor="middle" font-family='"DejaVu Sans", "Liberation Sans", sans-serif'>&#9794;</text>
<line x1="262.3" y1="1348" x2="332.4" y2="1348" stroke="#000" stroke-width="1.7" />
<line x1="351.5" y1="1348" x2="422.1" y2="1348" stroke="#000" stroke-width="1.7" />
<text x="297" y="1368.5" font-size="15.5" fill="#000" text-anchor="middle" textLength="21.4" lengthAdjust="spacingAndGlyphs">WT</text>
<text x="367" y="1368.5" font-size="15.5" font-style="italic" textLength="41" lengthAdjust="spacingAndGlyphs">Tsc2<tspan font-size="10.5" dy="-7" font-style="normal">+/-</tspan></text>
<text transform="translate(175,1169.6) rotate(-90)" font-size="18" fill="#000" text-anchor="middle" textLength="137.5" lengthAdjust="spacingAndGlyphs">Total Lenght (µm)</text>
<text x="323.77" y="1020.27" font-size="21.38" font-weight="bold" font-family="'DejaVu Sans', 'Liberation Sans', sans-serif" textLength="34.79" lengthAdjust="spacing">***</text>
<line x1="297.5" y1="1025.3" x2="386.7" y2="1025.3" stroke="#000" stroke-width="1.7" />
<line x1="297.5" y1="1024.6" x2="297.5" y2="1042" stroke="#000" stroke-width="1.7" />
<line x1="386.7" y1="1024.6" x2="386.7" y2="1042" stroke="#000" stroke-width="1.7" />
<line x1="277.9" y1="1042" x2="317.3" y2="1042" stroke="#000" stroke-width="1.7" />
<line x1="366.4" y1="1042" x2="406.5" y2="1042" stroke="#000" stroke-width="1.7" />
<text x="337.97" y="1071.57" font-size="21.38" font-weight="bold" font-family="'DejaVu Sans', 'Liberation Sans', sans-serif" textLength="49.99" lengthAdjust="spacing">****</text>
<line x1="316.8" y1="1076" x2="411" y2="1076" stroke="#000" stroke-width="1.7" />
<text x="271.77" y="1101.97" font-size="21.38" font-weight="bold" font-family="'DejaVu Sans', 'Liberation Sans', sans-serif" textLength="49.06" lengthAdjust="spacing">****</text>
<line x1="276.4" y1="1106.3" x2="317.3" y2="1106.3" stroke="#000" stroke-width="1.7" />
<text x="478" y="961" font-size="36" fill="#000" font-weight="bold" textLength="59" lengthAdjust="spacingAndGlyphs">Diii</text>
<rect x="626.5" y="1241.35" width="32.2" height="69.65" fill="#abd0c4" />
<rect x="667.4" y="1197.38" width="32.4" height="113.62" fill="#4f8a80" />
<rect x="717" y="1222.08" width="32.4" height="88.92" fill="#e6b57d" />
<rect x="757.8" y="1227.02" width="32.5" height="83.98" fill="#c4641e" />
<line x1="642.6" y1="1241.35" x2="642.6" y2="1236.41" stroke="#3f8276" stroke-width="1.3" />
<line x1="636.6" y1="1236.41" x2="648.6" y2="1236.41" stroke="#3f8276" stroke-width="1.3" />
<line x1="683.6" y1="1197.38" x2="683.6" y2="1189.48" stroke="#356f63" stroke-width="1.3" />
<line x1="677.6" y1="1189.48" x2="689.6" y2="1189.48" stroke="#356f63" stroke-width="1.3" />
<line x1="733.2" y1="1222.08" x2="733.2" y2="1215.16" stroke="#cc6a1f" stroke-width="1.3" />
<line x1="727.2" y1="1215.16" x2="739.2" y2="1215.16" stroke="#cc6a1f" stroke-width="1.3" />
<line x1="774.05" y1="1227.02" x2="774.05" y2="1222.08" stroke="#8e4616" stroke-width="1.3" />
<line x1="768.05" y1="1222.08" x2="780.05" y2="1222.08" stroke="#8e4616" stroke-width="1.3" />
<polygon points="639.37,1165.6 645.83,1165.6 642.6,1160" fill="none" stroke="#3f8276" stroke-width="1.4" stroke-linejoin="round" />
<polygon points="639.37,1185.36 645.83,1185.36 642.6,1179.76" fill="none" stroke="#3f8276" stroke-width="1.4" stroke-linejoin="round" />
<polygon points="639.37,1195.24 645.83,1195.24 642.6,1189.64" fill="none" stroke="#3f8276" stroke-width="1.4" stroke-linejoin="round" />
<polygon points="636.44,1205.12 642.9,1205.12 639.67,1199.52" fill="none" stroke="#3f8276" stroke-width="1.4" stroke-linejoin="round" />
<polygon points="639.37,1205.12 645.83,1205.12 642.6,1199.52" fill="none" stroke="#3f8276" stroke-width="1.4" stroke-linejoin="round" />
<polygon points="642.3,1205.12 648.76,1205.12 645.53,1199.52" fill="none" stroke="#3f8276" stroke-width="1.4" stroke-linejoin="round" />
<polygon points="634.97,1215 641.43,1215 638.2,1209.4" fill="none" stroke="#3f8276" stroke-width="1.4" stroke-linejoin="round" />
<polygon points="637.9,1215 644.36,1215 641.13,1209.4" fill="none" stroke="#3f8276" stroke-width="1.4" stroke-linejoin="round" />
<polygon points="640.84,1215 647.3,1215 644.07,1209.4" fill="none" stroke="#3f8276" stroke-width="1.4" stroke-linejoin="round" />
<polygon points="643.77,1215 650.23,1215 647,1209.4" fill="none" stroke="#3f8276" stroke-width="1.4" stroke-linejoin="round" />
<polygon points="634.97,1224.88 641.43,1224.88 638.2,1219.28" fill="none" stroke="#3f8276" stroke-width="1.4" stroke-linejoin="round" />
<polygon points="637.9,1224.88 644.36,1224.88 641.13,1219.28" fill="none" stroke="#3f8276" stroke-width="1.4" stroke-linejoin="round" />
<polygon points="640.84,1224.88 647.3,1224.88 644.07,1219.28" fill="none" stroke="#3f8276" stroke-width="1.4" stroke-linejoin="round" />
<polygon points="643.77,1224.88 650.23,1224.88 647,1219.28" fill="none" stroke="#3f8276" stroke-width="1.4" stroke-linejoin="round" />
<polygon points="630.57,1234.76 637.03,1234.76 633.8,1229.16" fill="none" stroke="#3f8276" stroke-width="1.4" stroke-linejoin="round" />
<polygon points="633.5,1234.76 639.96,1234.76 636.73,1229.16" fill="none" stroke="#3f8276" stroke-width="1.4" stroke-linejoin="round" />
<polygon points="636.44,1234.76 642.9,1234.76 639.67,1229.16" fill="none" stroke="#3f8276" stroke-width="1.4" stroke-linejoin="round" />
<polygon points="639.37,1234.76 645.83,1234.76 642.6,1229.16" fill="none" stroke="#3f8276" stroke-width="1.4" stroke-linejoin="round" />
<polygon points="642.3,1234.76 648.76,1234.76 645.53,1229.16" fill="none" stroke="#3f8276" stroke-width="1.4" stroke-linejoin="round" />
<polygon points="645.24,1234.76 651.7,1234.76 648.47,1229.16" fill="none" stroke="#3f8276" stroke-width="1.4" stroke-linejoin="round" />
<polygon points="648.17,1234.76 654.63,1234.76 651.4,1229.16" fill="none" stroke="#3f8276" stroke-width="1.4" stroke-linejoin="round" />
<polygon points="634.97,1244.64 641.43,1244.64 638.2,1239.04" fill="none" stroke="#3f8276" stroke-width="1.4" stroke-linejoin="round" />
<polygon points="637.9,1244.64 644.36,1244.64 641.13,1239.04" fill="none" stroke="#3f8276" stroke-width="1.4" stroke-linejoin="round" />
<polygon points="640.84,1244.64 647.3,1244.64 644.07,1239.04" fill="none" stroke="#3f8276" stroke-width="1.4" stroke-linejoin="round" />
<polygon points="643.77,1244.64 650.23,1244.64 647,1239.04" fill="none" stroke="#3f8276" stroke-width="1.4" stroke-linejoin="round" />
<polygon points="626.17,1254.52 632.63,1254.52 629.4,1248.92" fill="none" stroke="#3f8276" stroke-width="1.4" stroke-linejoin="round" />
<polygon points="629.1,1254.52 635.56,1254.52 632.33,1248.92" fill="none" stroke="#3f8276" stroke-width="1.4" stroke-linejoin="round" />
<polygon points="632.04,1254.52 638.5,1254.52 635.27,1248.92" fill="none" stroke="#3f8276" stroke-width="1.4" stroke-linejoin="round" />
<polygon points="634.97,1254.52 641.43,1254.52 638.2,1248.92" fill="none" stroke="#3f8276" stroke-width="1.4" stroke-linejoin="round" />
<polygon points="637.9,1254.52 644.36,1254.52 641.13,1248.92" fill="none" stroke="#3f8276" stroke-width="1.4" stroke-linejoin="round" />
<polygon points="640.84,1254.52 647.3,1254.52 644.07,1248.92" fill="none" stroke="#3f8276" stroke-width="1.4" stroke-linejoin="round" />
<polygon points="643.77,1254.52 650.23,1254.52 647,1248.92" fill="none" stroke="#3f8276" stroke-width="1.4" stroke-linejoin="round" />
<polygon points="646.7,1254.52 653.16,1254.52 649.93,1248.92" fill="none" stroke="#3f8276" stroke-width="1.4" stroke-linejoin="round" />
<polygon points="649.64,1254.52 656.1,1254.52 652.87,1248.92" fill="none" stroke="#3f8276" stroke-width="1.4" stroke-linejoin="round" />
<polygon points="652.57,1254.52 659.03,1254.52 655.8,1248.92" fill="none" stroke="#3f8276" stroke-width="1.4" stroke-linejoin="round" />
<polygon points="633.5,1264.4 639.96,1264.4 636.73,1258.8" fill="none" stroke="#3f8276" stroke-width="1.4" stroke-linejoin="round" />
<polygon points="636.44,1264.4 642.9,1264.4 639.67,1258.8" fill="none" stroke="#3f8276" stroke-width="1.4" stroke-linejoin="round" />
<polygon points="639.37,1264.4 645.83,1264.4 642.6,1258.8" fill="none" stroke="#3f8276" stroke-width="1.4" stroke-linejoin="round" />
<polygon points="642.3,1264.4 648.76,1264.4 645.53,1258.8" fill="none" stroke="#3f8276" stroke-width="1.4" stroke-linejoin="round" />
<polygon points="645.24,1264.4 651.7,1264.4 648.47,1258.8" fill="none" stroke="#3f8276" stroke-width="1.4" stroke-linejoin="round" />
<polygon points="634.97,1274.28 641.43,1274.28 638.2,1268.68" fill="none" stroke="#3f8276" stroke-width="1.4" stroke-linejoin="round" />
<polygon points="637.9,1274.28 644.36,1274.28 641.13,1268.68" fill="none" stroke="#3f8276" stroke-width="1.4" stroke-linejoin="round" />
<polygon points="640.84,1274.28 647.3,1274.28 644.07,1268.68" fill="none" stroke="#3f8276" stroke-width="1.4" stroke-linejoin="round" />
<polygon points="643.77,1274.28 650.23,1274.28 647,1268.68" fill="none" stroke="#3f8276" stroke-width="1.4" stroke-linejoin="round" />
<polygon points="634.97,1284.16 641.43,1284.16 638.2,1278.56" fill="none" stroke="#3f8276" stroke-width="1.4" stroke-linejoin="round" />
<polygon points="637.9,1284.16 644.36,1284.16 641.13,1278.56" fill="none" stroke="#3f8276" stroke-width="1.4" stroke-linejoin="round" />
<polygon points="640.84,1284.16 647.3,1284.16 644.07,1278.56" fill="none" stroke="#3f8276" stroke-width="1.4" stroke-linejoin="round" />
<polygon points="643.77,1284.16 650.23,1284.16 647,1278.56" fill="none" stroke="#3f8276" stroke-width="1.4" stroke-linejoin="round" />
<polygon points="639.37,1294.04 645.83,1294.04 642.6,1288.44" fill="none" stroke="#3f8276" stroke-width="1.4" stroke-linejoin="round" />
<polygon points="639.37,1313.8 645.83,1313.8 642.6,1308.2" fill="none" stroke="#3f8276" stroke-width="1.4" stroke-linejoin="round" />
<circle cx="683.6" cy="1044.24" r="2.43" fill="none" stroke="#356f63" stroke-width="1.4"/>
<circle cx="683.6" cy="1113.4" r="2.43" fill="none" stroke="#356f63" stroke-width="1.4"/>
<circle cx="681.7" cy="1123.28" r="2.43" fill="none" stroke="#356f63" stroke-width="1.4"/>
<circle cx="685.5" cy="1123.28" r="2.43" fill="none" stroke="#356f63" stroke-width="1.4"/>
<circle cx="677.9" cy="1133.16" r="2.43" fill="none" stroke="#356f63" stroke-width="1.4"/>
<circle cx="681.7" cy="1133.16" r="2.43" fill="none" stroke="#356f63" stroke-width="1.4"/>
<circle cx="685.5" cy="1133.16" r="2.43" fill="none" stroke="#356f63" stroke-width="1.4"/>
<circle cx="689.3" cy="1133.16" r="2.43" fill="none" stroke="#356f63" stroke-width="1.4"/>
<circle cx="677.9" cy="1143.04" r="2.43" fill="none" stroke="#356f63" stroke-width="1.4"/>
<circle cx="681.7" cy="1143.04" r="2.43" fill="none" stroke="#356f63" stroke-width="1.4"/>
<circle cx="685.5" cy="1143.04" r="2.43" fill="none" stroke="#356f63" stroke-width="1.4"/>
<circle cx="689.3" cy="1143.04" r="2.43" fill="none" stroke="#356f63" stroke-width="1.4"/>
<circle cx="683.6" cy="1152.92" r="2.43" fill="none" stroke="#356f63" stroke-width="1.4"/>
<circle cx="674.1" cy="1162.8" r="2.43" fill="none" stroke="#356f63" stroke-width="1.4"/>
<circle cx="677.9" cy="1162.8" r="2.43" fill="none" stroke="#356f63" stroke-width="1.4"/>
<circle cx="681.7" cy="1162.8" r="2.43" fill="none" stroke="#356f63" stroke-width="1.4"/>
<circle cx="685.5" cy="1162.8" r="2.43" fill="none" stroke="#356f63" stroke-width="1.4"/>
<circle cx="689.3" cy="1162.8" r="2.43" fill="none" stroke="#356f63" stroke-width="1.4"/>
<circle cx="693.1" cy="1162.8" r="2.43" fill="none" stroke="#356f63" stroke-width="1.4"/>
<circle cx="674.1" cy="1172.68" r="2.43" fill="none" stroke="#356f63" stroke-width="1.4"/>
<circle cx="677.9" cy="1172.68" r="2.43" fill="none" stroke="#356f63" stroke-width="1.4"/>
<circle cx="681.7" cy="1172.68" r="2.43" fill="none" stroke="#356f63" stroke-width="1.4"/>
<circle cx="685.5" cy="1172.68" r="2.43" fill="none" stroke="#356f63" stroke-width="1.4"/>
<circle cx="689.3" cy="1172.68" r="2.43" fill="none" stroke="#356f63" stroke-width="1.4"/>
<circle cx="693.1" cy="1172.68" r="2.43" fill="none" stroke="#356f63" stroke-width="1.4"/>
<circle cx="676" cy="1182.56" r="2.43" fill="none" stroke="#356f63" stroke-width="1.4"/>
<circle cx="679.8" cy="1182.56" r="2.43" fill="none" stroke="#356f63" stroke-width="1.4"/>
<circle cx="683.6" cy="1182.56" r="2.43" fill="none" stroke="#356f63" stroke-width="1.4"/>
<circle cx="687.4" cy="1182.56" r="2.43" fill="none" stroke="#356f63" stroke-width="1.4"/>
<circle cx="691.2" cy="1182.56" r="2.43" fill="none" stroke="#356f63" stroke-width="1.4"/>
<circle cx="683.6" cy="1192.44" r="2.43" fill="none" stroke="#356f63" stroke-width="1.4"/>
<circle cx="670.3" cy="1202.32" r="2.43" fill="none" stroke="#356f63" stroke-width="1.4"/>
<circle cx="674.1" cy="1202.32" r="2.43" fill="none" stroke="#356f63" stroke-width="1.4"/>
<circle cx="677.9" cy="1202.32" r="2.43" fill="none" stroke="#356f63" stroke-width="1.4"/>
<circle cx="681.7" cy="1202.32" r="2.43" fill="none" stroke="#356f63" stroke-width="1.4"/>
<circle cx="685.5" cy="1202.32" r="2.43" fill="none" stroke="#356f63" stroke-width="1.4"/>
<circle cx="689.3" cy="1202.32" r="2.43" fill="none" stroke="#356f63" stroke-width="1.4"/>
<circle cx="693.1" cy="1202.32" r="2.43" fill="none" stroke="#356f63" stroke-width="1.4"/>
<circle cx="696.9" cy="1202.32" r="2.43" fill="none" stroke="#356f63" stroke-width="1.4"/>
<circle cx="676" cy="1212.2" r="2.43" fill="none" stroke="#356f63" stroke-width="1.4"/>
<circle cx="679.8" cy="1212.2" r="2.43" fill="none" stroke="#356f63" stroke-width="1.4"/>
<circle cx="683.6" cy="1212.2" r="2.43" fill="none" stroke="#356f63" stroke-width="1.4"/>
<circle cx="687.4" cy="1212.2" r="2.43" fill="none" stroke="#356f63" stroke-width="1.4"/>
<circle cx="691.2" cy="1212.2" r="2.43" fill="none" stroke="#356f63" stroke-width="1.4"/>
<circle cx="679.8" cy="1222.08" r="2.43" fill="none" stroke="#356f63" stroke-width="1.4"/>
<circle cx="683.6" cy="1222.08" r="2.43" fill="none" stroke="#356f63" stroke-width="1.4"/>
<circle cx="687.4" cy="1222.08" r="2.43" fill="none" stroke="#356f63" stroke-width="1.4"/>
<circle cx="676" cy="1231.96" r="2.43" fill="none" stroke="#356f63" stroke-width="1.4"/>
<circle cx="679.8" cy="1231.96" r="2.43" fill="none" stroke="#356f63" stroke-width="1.4"/>
<circle cx="683.6" cy="1231.96" r="2.43" fill="none" stroke="#356f63" stroke-width="1.4"/>
<circle cx="687.4" cy="1231.96" r="2.43" fill="none" stroke="#356f63" stroke-width="1.4"/>
<circle cx="691.2" cy="1231.96" r="2.43" fill="none" stroke="#356f63" stroke-width="1.4"/>
<circle cx="676" cy="1241.84" r="2.43" fill="none" stroke="#356f63" stroke-width="1.4"/>
<circle cx="679.8" cy="1241.84" r="2.43" fill="none" stroke="#356f63" stroke-width="1.4"/>
<circle cx="683.6" cy="1241.84" r="2.43" fill="none" stroke="#356f63" stroke-width="1.4"/>
<circle cx="687.4" cy="1241.84" r="2.43" fill="none" stroke="#356f63" stroke-width="1.4"/>
<circle cx="691.2" cy="1241.84" r="2.43" fill="none" stroke="#356f63" stroke-width="1.4"/>
<circle cx="676" cy="1251.72" r="2.43" fill="none" stroke="#356f63" stroke-width="1.4"/>
<circle cx="679.8" cy="1251.72" r="2.43" fill="none" stroke="#356f63" stroke-width="1.4"/>
<circle cx="683.6" cy="1251.72" r="2.43" fill="none" stroke="#356f63" stroke-width="1.4"/>
<circle cx="687.4" cy="1251.72" r="2.43" fill="none" stroke="#356f63" stroke-width="1.4"/>
<circle cx="691.2" cy="1251.72" r="2.43" fill="none" stroke="#356f63" stroke-width="1.4"/>
<circle cx="681.7" cy="1261.6" r="2.43" fill="none" stroke="#356f63" stroke-width="1.4"/>
<circle cx="685.5" cy="1261.6" r="2.43" fill="none" stroke="#356f63" stroke-width="1.4"/>
<circle cx="683.6" cy="1281.36" r="2.43" fill="none" stroke="#356f63" stroke-width="1.4"/>
<circle cx="683.6" cy="1291.24" r="2.43" fill="none" stroke="#356f63" stroke-width="1.4"/>
<circle cx="683.6" cy="1311" r="2.43" fill="none" stroke="#356f63" stroke-width="1.4"/>
<polygon points="729.63,1096.73 736.77,1096.73 733.2,1090.55" fill="#cc6a1f" />
<polygon points="729.63,1106.61 736.77,1106.61 733.2,1100.43" fill="#cc6a1f" />
<polygon points="729.63,1156.01 736.77,1156.01 733.2,1149.83" fill="#cc6a1f" />
<polygon points="725.83,1185.65 732.97,1185.65 729.4,1179.47" fill="#cc6a1f" />
<polygon points="729.63,1185.65 736.77,1185.65 733.2,1179.47" fill="#cc6a1f" />
<polygon points="733.43,1185.65 740.57,1185.65 737,1179.47" fill="#cc6a1f" />
<polygon points="725.83,1195.53 732.97,1195.53 729.4,1189.35" fill="#cc6a1f" />
<polygon points="729.63,1195.53 736.77,1195.53 733.2,1189.35" fill="#cc6a1f" />
<polygon points="733.43,1195.53 740.57,1195.53 737,1189.35" fill="#cc6a1f" />
<polygon points="716.33,1205.41 723.47,1205.41 719.9,1199.23" fill="#cc6a1f" />
<polygon points="720.13,1205.41 727.27,1205.41 723.7,1199.23" fill="#cc6a1f" />
<polygon points="723.93,1205.41 731.07,1205.41 727.5,1199.23" fill="#cc6a1f" />
<polygon points="727.73,1205.41 734.87,1205.41 731.3,1199.23" fill="#cc6a1f" />
<polygon points="731.53,1205.41 738.67,1205.41 735.1,1199.23" fill="#cc6a1f" />
<polygon points="735.33,1205.41 742.47,1205.41 738.9,1199.23" fill="#cc6a1f" />
<polygon points="739.13,1205.41 746.27,1205.41 742.7,1199.23" fill="#cc6a1f" />
<polygon points="742.93,1205.41 750.07,1205.41 746.5,1199.23" fill="#cc6a1f" />
<polygon points="729.63,1215.29 736.77,1215.29 733.2,1209.11" fill="#cc6a1f" />
<polygon points="725.83,1225.17 732.97,1225.17 729.4,1218.99" fill="#cc6a1f" />
<polygon points="729.63,1225.17 736.77,1225.17 733.2,1218.99" fill="#cc6a1f" />
<polygon points="733.43,1225.17 740.57,1225.17 737,1218.99" fill="#cc6a1f" />
<polygon points="727.73,1235.05 734.87,1235.05 731.3,1228.87" fill="#cc6a1f" />
<polygon points="731.53,1235.05 738.67,1235.05 735.1,1228.87" fill="#cc6a1f" />
<polygon points="725.83,1244.93 732.97,1244.93 729.4,1238.75" fill="#cc6a1f" />
<polygon points="729.63,1244.93 736.77,1244.93 733.2,1238.75" fill="#cc6a1f" />
<polygon points="733.43,1244.93 740.57,1244.93 737,1238.75" fill="#cc6a1f" />
<polygon points="722.03,1254.81 729.17,1254.81 725.6,1248.63" fill="#cc6a1f" />
<polygon points="725.83,1254.81 732.97,1254.81 729.4,1248.63" fill="#cc6a1f" />
<polygon points="729.63,1254.81 736.77,1254.81 733.2,1248.63" fill="#cc6a1f" />
<polygon points="733.43,1254.81 740.57,1254.81 737,1248.63" fill="#cc6a1f" />
<polygon points="737.23,1254.81 744.37,1254.81 740.8,1248.63" fill="#cc6a1f" />
<polygon points="725.83,1264.69 732.97,1264.69 729.4,1258.51" fill="#cc6a1f" />
<polygon points="729.63,1264.69 736.77,1264.69 733.2,1258.51" fill="#cc6a1f" />
<polygon points="733.43,1264.69 740.57,1264.69 737,1258.51" fill="#cc6a1f" />
<polygon points="725.83,1274.57 732.97,1274.57 729.4,1268.39" fill="#cc6a1f" />
<polygon points="729.63,1274.57 736.77,1274.57 733.2,1268.39" fill="#cc6a1f" />
<polygon points="733.43,1274.57 740.57,1274.57 737,1268.39" fill="#cc6a1f" />
<polygon points="729.63,1284.45 736.77,1284.45 733.2,1278.27" fill="#cc6a1f" />
<polygon points="729.63,1294.33 736.77,1294.33 733.2,1288.15" fill="#cc6a1f" />
<polygon points="729.63,1304.21 736.77,1304.21 733.2,1298.03" fill="#cc6a1f" />
<circle cx="771.08" cy="1143.04" r="3.54" fill="#8e4616"/>
<circle cx="774.05" cy="1143.04" r="3.54" fill="#8e4616"/>
<circle cx="777.02" cy="1143.04" r="3.54" fill="#8e4616"/>
<circle cx="771.08" cy="1162.8" r="3.54" fill="#8e4616"/>
<circle cx="774.05" cy="1162.8" r="3.54" fill="#8e4616"/>
<circle cx="777.02" cy="1162.8" r="3.54" fill="#8e4616"/>
<circle cx="774.05" cy="1172.68" r="3.54" fill="#8e4616"/>
<circle cx="774.05" cy="1182.56" r="3.54" fill="#8e4616"/>
<circle cx="774.05" cy="1202.32" r="3.54" fill="#8e4616"/>
<circle cx="769.6" cy="1212.2" r="3.54" fill="#8e4616"/>
<circle cx="772.57" cy="1212.2" r="3.54" fill="#8e4616"/>
<circle cx="775.53" cy="1212.2" r="3.54" fill="#8e4616"/>
<circle cx="778.5" cy="1212.2" r="3.54" fill="#8e4616"/>
<circle cx="766.63" cy="1222.08" r="3.54" fill="#8e4616"/>
<circle cx="769.6" cy="1222.08" r="3.54" fill="#8e4616"/>
<circle cx="772.57" cy="1222.08" r="3.54" fill="#8e4616"/>
<circle cx="775.53" cy="1222.08" r="3.54" fill="#8e4616"/>
<circle cx="778.5" cy="1222.08" r="3.54" fill="#8e4616"/>
<circle cx="781.47" cy="1222.08" r="3.54" fill="#8e4616"/>
<circle cx="769.6" cy="1231.96" r="3.54" fill="#8e4616"/>
<circle cx="772.57" cy="1231.96" r="3.54" fill="#8e4616"/>
<circle cx="775.53" cy="1231.96" r="3.54" fill="#8e4616"/>
<circle cx="778.5" cy="1231.96" r="3.54" fill="#8e4616"/>
<circle cx="760.7" cy="1241.84" r="3.54" fill="#8e4616"/>
<circle cx="763.67" cy="1241.84" r="3.54" fill="#8e4616"/>
<circle cx="766.63" cy="1241.84" r="3.54" fill="#8e4616"/>
<circle cx="769.6" cy="1241.84" r="3.54" fill="#8e4616"/>
<circle cx="772.57" cy="1241.84" r="3.54" fill="#8e4616"/>
<circle cx="775.53" cy="1241.84" r="3.54" fill="#8e4616"/>
<circle cx="778.5" cy="1241.84" r="3.54" fill="#8e4616"/>
<circle cx="781.47" cy="1241.84" r="3.54" fill="#8e4616"/>
<circle cx="784.43" cy="1241.84" r="3.54" fill="#8e4616"/>
<circle cx="787.4" cy="1241.84" r="3.54" fill="#8e4616"/>
<circle cx="771.08" cy="1251.72" r="3.54" fill="#8e4616"/>
<circle cx="774.05" cy="1251.72" r="3.54" fill="#8e4616"/>
<circle cx="777.02" cy="1251.72" r="3.54" fill="#8e4616"/>
<circle cx="768.12" cy="1261.6" r="3.54" fill="#8e4616"/>
<circle cx="771.08" cy="1261.6" r="3.54" fill="#8e4616"/>
<circle cx="774.05" cy="1261.6" r="3.54" fill="#8e4616"/>
<circle cx="777.02" cy="1261.6" r="3.54" fill="#8e4616"/>
<circle cx="779.98" cy="1261.6" r="3.54" fill="#8e4616"/>
<circle cx="774.05" cy="1271.48" r="3.54" fill="#8e4616"/>
<circle cx="774.05" cy="1281.36" r="3.54" fill="#8e4616"/>
<line x1="610.1" y1="1013.85" x2="610.1" y2="1311.75" stroke="#000" stroke-width="1.6" />
<line x1="598.8" y1="1311" x2="610.1" y2="1311" stroke="#000" stroke-width="1.6" />
<text x="594.3" y="1316.45" font-size="15.57" fill="#000" text-anchor="end" textLength="9.6" lengthAdjust="spacingAndGlyphs">0</text>
<line x1="598.8" y1="1212.2" x2="610.1" y2="1212.2" stroke="#000" stroke-width="1.6" />
<text x="594.3" y="1217.65" font-size="15.57" fill="#000" text-anchor="end" textLength="19.2" lengthAdjust="spacingAndGlyphs">10</text>
<line x1="598.8" y1="1113.4" x2="610.1" y2="1113.4" stroke="#000" stroke-width="1.6" />
<text x="594.3" y="1118.85" font-size="15.57" fill="#000" text-anchor="end" textLength="19.2" lengthAdjust="spacingAndGlyphs">20</text>
<line x1="598.8" y1="1014.6" x2="610.1" y2="1014.6" stroke="#000" stroke-width="1.6" />
<text x="594.3" y="1020.05" font-size="15.57" fill="#000" text-anchor="end" textLength="19.2" lengthAdjust="spacingAndGlyphs">30</text>
<text x="643.1" y="1331.5" font-size="20" fill="#000" text-anchor="middle" font-family='"DejaVu Sans", "Liberation Sans", sans-serif'>&#9792;</text>
<text x="683.6" y="1332.7" font-size="20" fill="#000" text-anchor="middle" font-family='"DejaVu Sans", "Liberation Sans", sans-serif'>&#9794;</text>
<text x="733.7" y="1331.5" font-size="20" fill="#000" text-anchor="middle" font-family='"DejaVu Sans", "Liberation Sans", sans-serif'>&#9792;</text>
<text x="774.05" y="1332.7" font-size="20" fill="#000" text-anchor="middle" font-family='"DejaVu Sans", "Liberation Sans", sans-serif'>&#9794;</text>
<line x1="628" y1="1348" x2="699" y2="1348" stroke="#000" stroke-width="1.7" />
<line x1="718.4" y1="1348" x2="789.5" y2="1348" stroke="#000" stroke-width="1.7" />
<text x="663" y="1368.5" font-size="15.5" fill="#000" text-anchor="middle" textLength="21.4" lengthAdjust="spacingAndGlyphs">WT</text>
<text x="733" y="1368.5" font-size="15.5" font-style="italic" textLength="41" lengthAdjust="spacingAndGlyphs">Tsc2<tspan font-size="10.5" dy="-7" font-style="normal">+/-</tspan></text>
<text transform="translate(561.6,1165.6) rotate(-90)" font-size="20.5" fill="#000" text-anchor="middle" textLength="51.3" lengthAdjust="spacingAndGlyphs">Nodes</text>
<text x="636.57" y="1023.17" font-size="21.38" font-weight="bold" font-family="'DejaVu Sans', 'Liberation Sans', sans-serif" textLength="50.92" lengthAdjust="spacing">****</text>
<line x1="642.6" y1="1029" x2="682.5" y2="1029" stroke="#000" stroke-width="1.7" />
<text x="715.27" y="1029.37" font-size="21.38" font-weight="bold" font-family="'DejaVu Sans', 'Liberation Sans', sans-serif" textLength="25.39" lengthAdjust="spacing">**</text>
<line x1="683" y1="1035.2" x2="773" y2="1035.2" stroke="#000" stroke-width="1.7" />
<text x="1045.5" y="961" font-size="36" fill="#000" font-weight="bold" textLength="47" lengthAdjust="spacingAndGlyphs">Eii</text>
<rect x="1181.1" y="1236.75" width="32.3" height="73.95" fill="#abd0c4" />
<rect x="1221.5" y="1209.09" width="32.2" height="101.61" fill="#4f8a80" />
<rect x="1270.3" y="1210.13" width="33" height="100.57" fill="#e6b57d" />
<rect x="1311.2" y="1228.62" width="33" height="82.08" fill="#c4641e" />
<line x1="1197.25" y1="1236.75" x2="1197.25" y2="1233.05" stroke="#3f8276" stroke-width="1.3" />
<line x1="1191.25" y1="1233.05" x2="1203.25" y2="1233.05" stroke="#3f8276" stroke-width="1.3" />
<line x1="1237.6" y1="1209.09" x2="1237.6" y2="1202.44" stroke="#356f63" stroke-width="1.3" />
<line x1="1231.6" y1="1202.44" x2="1243.6" y2="1202.44" stroke="#356f63" stroke-width="1.3" />
<line x1="1286.8" y1="1210.13" x2="1286.8" y2="1204.21" stroke="#cc6a1f" stroke-width="1.3" />
<line x1="1280.8" y1="1204.21" x2="1292.8" y2="1204.21" stroke="#cc6a1f" stroke-width="1.3" />
<line x1="1327.7" y1="1228.62" x2="1327.7" y2="1222.7" stroke="#8e4616" stroke-width="1.3" />
<line x1="1321.7" y1="1222.7" x2="1333.7" y2="1222.7" stroke="#8e4616" stroke-width="1.3" />
<polygon points="1193.92,1294.35 1200.58,1294.35 1197.25,1288.59" fill="none" stroke="#3f8276" stroke-width="1.4" stroke-linejoin="round" />
<polygon points="1193.92,1273.08 1200.58,1273.08 1197.25,1267.32" fill="none" stroke="#3f8276" stroke-width="1.4" stroke-linejoin="round" />
<polygon points="1198.96,1270.76 1205.62,1270.76 1202.29,1265" fill="none" stroke="#3f8276" stroke-width="1.4" stroke-linejoin="round" />
<polygon points="1193.92,1267.18 1200.58,1267.18 1197.25,1261.42" fill="none" stroke="#3f8276" stroke-width="1.4" stroke-linejoin="round" />
<polygon points="1198.96,1264.13 1205.62,1264.13 1202.29,1258.37" fill="none" stroke="#3f8276" stroke-width="1.4" stroke-linejoin="round" />
<polygon points="1193.92,1261.58 1200.58,1261.58 1197.25,1255.82" fill="none" stroke="#3f8276" stroke-width="1.4" stroke-linejoin="round" />
<polygon points="1188.88,1261.03 1195.54,1261.03 1192.21,1255.27" fill="none" stroke="#3f8276" stroke-width="1.4" stroke-linejoin="round" />
<polygon points="1201.48,1260.18 1208.13,1260.18 1204.81,1254.42" fill="none" stroke="#3f8276" stroke-width="1.4" stroke-linejoin="round" />
<polygon points="1183.85,1259.47 1190.5,1259.47 1187.17,1253.72" fill="none" stroke="#3f8276" stroke-width="1.4" stroke-linejoin="round" />
<polygon points="1206.52,1258.55 1213.17,1258.55 1209.85,1252.79" fill="none" stroke="#3f8276" stroke-width="1.4" stroke-linejoin="round" />
<polygon points="1193.92,1256.32 1200.58,1256.32 1197.25,1250.56" fill="none" stroke="#3f8276" stroke-width="1.4" stroke-linejoin="round" />
<polygon points="1198.96,1255.06 1205.62,1255.06 1202.29,1249.3" fill="none" stroke="#3f8276" stroke-width="1.4" stroke-linejoin="round" />
<polygon points="1193.92,1250.78 1200.58,1250.78 1197.25,1245.02" fill="none" stroke="#3f8276" stroke-width="1.4" stroke-linejoin="round" />
<polygon points="1198.96,1249.75 1205.62,1249.75 1202.29,1243.99" fill="none" stroke="#3f8276" stroke-width="1.4" stroke-linejoin="round" />
<polygon points="1188.88,1247.46 1195.54,1247.46 1192.21,1241.7" fill="none" stroke="#3f8276" stroke-width="1.4" stroke-linejoin="round" />
<polygon points="1193.92,1243.22 1200.58,1243.22 1197.25,1237.46" fill="none" stroke="#3f8276" stroke-width="1.4" stroke-linejoin="round" />
<polygon points="1198.96,1243.18 1205.62,1243.18 1202.29,1237.42" fill="none" stroke="#3f8276" stroke-width="1.4" stroke-linejoin="round" />
<polygon points="1188.88,1242.4 1195.54,1242.4 1192.21,1236.64" fill="none" stroke="#3f8276" stroke-width="1.4" stroke-linejoin="round" />
<polygon points="1204,1242.1 1210.65,1242.1 1207.33,1236.34" fill="none" stroke="#3f8276" stroke-width="1.4" stroke-linejoin="round" />
<polygon points="1183.85,1241.78 1190.5,1241.78 1187.17,1236.03" fill="none" stroke="#3f8276" stroke-width="1.4" stroke-linejoin="round" />
<polygon points="1209.04,1239.92 1215.69,1239.92 1212.37,1234.16" fill="none" stroke="#3f8276" stroke-width="1.4" stroke-linejoin="round" />
<polygon points="1196.44,1239.34 1203.1,1239.34 1199.77,1233.58" fill="none" stroke="#3f8276" stroke-width="1.4" stroke-linejoin="round" />
<polygon points="1191.4,1237.82 1198.06,1237.82 1194.73,1232.06" fill="none" stroke="#3f8276" stroke-width="1.4" stroke-linejoin="round" />
<polygon points="1201.48,1237.63 1208.13,1237.63 1204.81,1231.87" fill="none" stroke="#3f8276" stroke-width="1.4" stroke-linejoin="round" />
<polygon points="1186.37,1236.21 1193.02,1236.21 1189.69,1230.45" fill="none" stroke="#3f8276" stroke-width="1.4" stroke-linejoin="round" />
<polygon points="1206.52,1235.24 1213.17,1235.24 1209.85,1229.48" fill="none" stroke="#3f8276" stroke-width="1.4" stroke-linejoin="round" />
<polygon points="1193.92,1233.34 1200.58,1233.34 1197.25,1227.58" fill="none" stroke="#3f8276" stroke-width="1.4" stroke-linejoin="round" />
<polygon points="1198.96,1233.14 1205.62,1233.14 1202.29,1227.38" fill="none" stroke="#3f8276" stroke-width="1.4" stroke-linejoin="round" />
<polygon points="1188.88,1231.87 1195.54,1231.87 1192.21,1226.11" fill="none" stroke="#3f8276" stroke-width="1.4" stroke-linejoin="round" />
<polygon points="1204,1230.34 1210.65,1230.34 1207.33,1224.59" fill="none" stroke="#3f8276" stroke-width="1.4" stroke-linejoin="round" />
<polygon points="1193.92,1222.99 1200.58,1222.99 1197.25,1217.24" fill="none" stroke="#3f8276" stroke-width="1.4" stroke-linejoin="round" />
<polygon points="1198.96,1220.64 1205.62,1220.64 1202.29,1214.88" fill="none" stroke="#3f8276" stroke-width="1.4" stroke-linejoin="round" />
<polygon points="1188.88,1219.57 1195.54,1219.57 1192.21,1213.81" fill="none" stroke="#3f8276" stroke-width="1.4" stroke-linejoin="round" />
<polygon points="1193.92,1218.43 1200.58,1218.43 1197.25,1212.67" fill="none" stroke="#3f8276" stroke-width="1.4" stroke-linejoin="round" />
<polygon points="1204,1218.38 1210.65,1218.38 1207.33,1212.62" fill="none" stroke="#3f8276" stroke-width="1.4" stroke-linejoin="round" />
<polygon points="1183.85,1217.99 1190.5,1217.99 1187.17,1212.23" fill="none" stroke="#3f8276" stroke-width="1.4" stroke-linejoin="round" />
<polygon points="1209.04,1216.48 1215.69,1216.48 1212.37,1210.72" fill="none" stroke="#3f8276" stroke-width="1.4" stroke-linejoin="round" />
<polygon points="1193.92,1209.48 1200.58,1209.48 1197.25,1203.72" fill="none" stroke="#3f8276" stroke-width="1.4" stroke-linejoin="round" />
<polygon points="1193.92,1204.26 1200.58,1204.26 1197.25,1198.5" fill="none" stroke="#3f8276" stroke-width="1.4" stroke-linejoin="round" />
<polygon points="1198.96,1201.84 1205.62,1201.84 1202.29,1196.08" fill="none" stroke="#3f8276" stroke-width="1.4" stroke-linejoin="round" />
<polygon points="1188.88,1201.78 1195.54,1201.78 1192.21,1196.02" fill="none" stroke="#3f8276" stroke-width="1.4" stroke-linejoin="round" />
<polygon points="1204,1201.4 1210.65,1201.4 1207.33,1195.64" fill="none" stroke="#3f8276" stroke-width="1.4" stroke-linejoin="round" />
<polygon points="1193.92,1199 1200.58,1199 1197.25,1193.24" fill="none" stroke="#3f8276" stroke-width="1.4" stroke-linejoin="round" />
<polygon points="1193.92,1176.03 1200.58,1176.03 1197.25,1170.27" fill="none" stroke="#3f8276" stroke-width="1.4" stroke-linejoin="round" />
<circle cx="1237.6" cy="1285.56" r="2.52" fill="none" stroke="#356f63" stroke-width="1.4"/>
<circle cx="1237.6" cy="1262.87" r="2.52" fill="none" stroke="#356f63" stroke-width="1.4"/>
<circle cx="1242.64" cy="1260.43" r="2.52" fill="none" stroke="#356f63" stroke-width="1.4"/>
<circle cx="1237.6" cy="1258.2" r="2.52" fill="none" stroke="#356f63" stroke-width="1.4"/>
<circle cx="1232.56" cy="1257.07" r="2.52" fill="none" stroke="#356f63" stroke-width="1.4"/>
<circle cx="1237.6" cy="1252.47" r="2.52" fill="none" stroke="#356f63" stroke-width="1.4"/>
<circle cx="1237.6" cy="1246.84" r="2.52" fill="none" stroke="#356f63" stroke-width="1.4"/>
<circle cx="1242.64" cy="1246.59" r="2.52" fill="none" stroke="#356f63" stroke-width="1.4"/>
<circle cx="1237.6" cy="1241.55" r="2.52" fill="none" stroke="#356f63" stroke-width="1.4"/>
<circle cx="1242.64" cy="1238.73" r="2.52" fill="none" stroke="#356f63" stroke-width="1.4"/>
<circle cx="1232.56" cy="1238.33" r="2.52" fill="none" stroke="#356f63" stroke-width="1.4"/>
<circle cx="1237.6" cy="1234.95" r="2.52" fill="none" stroke="#356f63" stroke-width="1.4"/>
<circle cx="1242.64" cy="1234.23" r="2.52" fill="none" stroke="#356f63" stroke-width="1.4"/>
<circle cx="1232.56" cy="1231.84" r="2.52" fill="none" stroke="#356f63" stroke-width="1.4"/>
<circle cx="1247.68" cy="1230.97" r="2.52" fill="none" stroke="#356f63" stroke-width="1.4"/>
<circle cx="1237.6" cy="1229.92" r="2.52" fill="none" stroke="#356f63" stroke-width="1.4"/>
<circle cx="1242.64" cy="1226.83" r="2.52" fill="none" stroke="#356f63" stroke-width="1.4"/>
<circle cx="1232.56" cy="1226.66" r="2.52" fill="none" stroke="#356f63" stroke-width="1.4"/>
<circle cx="1247.68" cy="1226.39" r="2.52" fill="none" stroke="#356f63" stroke-width="1.4"/>
<circle cx="1237.6" cy="1224.26" r="2.52" fill="none" stroke="#356f63" stroke-width="1.4"/>
<circle cx="1227.52" cy="1223.56" r="2.52" fill="none" stroke="#356f63" stroke-width="1.4"/>
<circle cx="1242.64" cy="1220.9" r="2.52" fill="none" stroke="#356f63" stroke-width="1.4"/>
<circle cx="1235.08" cy="1220.55" r="2.52" fill="none" stroke="#356f63" stroke-width="1.4"/>
<circle cx="1230.04" cy="1218.83" r="2.52" fill="none" stroke="#356f63" stroke-width="1.4"/>
<circle cx="1247.68" cy="1217.66" r="2.52" fill="none" stroke="#356f63" stroke-width="1.4"/>
<circle cx="1237.6" cy="1209.12" r="2.52" fill="none" stroke="#356f63" stroke-width="1.4"/>
<circle cx="1237.6" cy="1203.31" r="2.52" fill="none" stroke="#356f63" stroke-width="1.4"/>
<circle cx="1242.64" cy="1200.45" r="2.52" fill="none" stroke="#356f63" stroke-width="1.4"/>
<circle cx="1232.56" cy="1200.25" r="2.52" fill="none" stroke="#356f63" stroke-width="1.4"/>
<circle cx="1237.6" cy="1197.98" r="2.52" fill="none" stroke="#356f63" stroke-width="1.4"/>
<circle cx="1247.68" cy="1197.78" r="2.52" fill="none" stroke="#356f63" stroke-width="1.4"/>
<circle cx="1227.52" cy="1197.06" r="2.52" fill="none" stroke="#356f63" stroke-width="1.4"/>
<circle cx="1242.64" cy="1195.54" r="2.52" fill="none" stroke="#356f63" stroke-width="1.4"/>
<circle cx="1237.6" cy="1189.65" r="2.52" fill="none" stroke="#356f63" stroke-width="1.4"/>
<circle cx="1242.64" cy="1187.16" r="2.52" fill="none" stroke="#356f63" stroke-width="1.4"/>
<circle cx="1237.6" cy="1182.68" r="2.52" fill="none" stroke="#356f63" stroke-width="1.4"/>
<circle cx="1237.6" cy="1176.23" r="2.52" fill="none" stroke="#356f63" stroke-width="1.4"/>
<circle cx="1242.64" cy="1176.12" r="2.52" fill="none" stroke="#356f63" stroke-width="1.4"/>
<circle cx="1232.56" cy="1173.37" r="2.52" fill="none" stroke="#356f63" stroke-width="1.4"/>
<circle cx="1237.6" cy="1168.69" r="2.52" fill="none" stroke="#356f63" stroke-width="1.4"/>
<circle cx="1242.64" cy="1166.53" r="2.52" fill="none" stroke="#356f63" stroke-width="1.4"/>
<circle cx="1237.6" cy="1156.88" r="2.52" fill="none" stroke="#356f63" stroke-width="1.4"/>
<circle cx="1242.64" cy="1153.93" r="2.52" fill="none" stroke="#356f63" stroke-width="1.4"/>
<circle cx="1237.6" cy="1133.22" r="2.52" fill="none" stroke="#356f63" stroke-width="1.4"/>
<circle cx="1237.6" cy="1124.35" r="2.52" fill="none" stroke="#356f63" stroke-width="1.4"/>
<circle cx="1237.6" cy="1119.91" r="2.52" fill="none" stroke="#356f63" stroke-width="1.4"/>
<circle cx="1242.64" cy="1118.43" r="2.52" fill="none" stroke="#356f63" stroke-width="1.4"/>
<circle cx="1237.6" cy="1112.51" r="2.52" fill="none" stroke="#356f63" stroke-width="1.4"/>
<circle cx="1237.6" cy="1099.2" r="2.52" fill="none" stroke="#356f63" stroke-width="1.4"/>
<polygon points="1283.12,1279.87 1290.47,1279.87 1286.8,1273.5" fill="#cc6a1f" />
<polygon points="1288.16,1278.39 1295.51,1278.39 1291.84,1272.02" fill="#cc6a1f" />
<polygon points="1283.12,1258.33 1290.47,1258.33 1286.8,1251.96" fill="#cc6a1f" />
<polygon points="1288.16,1257.83 1295.51,1257.83 1291.84,1251.46" fill="#cc6a1f" />
<polygon points="1283.12,1253.72 1290.47,1253.72 1286.8,1247.36" fill="#cc6a1f" />
<polygon points="1288.16,1252 1295.51,1252 1291.84,1245.64" fill="#cc6a1f" />
<polygon points="1283.12,1249.19 1290.47,1249.19 1286.8,1242.83" fill="#cc6a1f" />
<polygon points="1288.16,1247.54 1295.51,1247.54 1291.84,1241.18" fill="#cc6a1f" />
<polygon points="1278.09,1246.36 1285.43,1246.36 1281.76,1240" fill="#cc6a1f" />
<polygon points="1293.2,1245.24 1300.55,1245.24 1296.88,1238.87" fill="#cc6a1f" />
<polygon points="1283.12,1241.76 1290.47,1241.76 1286.8,1235.39" fill="#cc6a1f" />
<polygon points="1288.16,1238.24 1295.51,1238.24 1291.84,1231.88" fill="#cc6a1f" />
<polygon points="1283.12,1237.1 1290.47,1237.1 1286.8,1230.73" fill="#cc6a1f" />
<polygon points="1278.09,1236.59 1285.43,1236.59 1281.76,1230.23" fill="#cc6a1f" />
<polygon points="1293.2,1236.2 1300.55,1236.2 1296.88,1229.84" fill="#cc6a1f" />
<polygon points="1273.05,1234.58 1280.39,1234.58 1276.72,1228.21" fill="#cc6a1f" />
<polygon points="1288.16,1233.85 1295.51,1233.85 1291.84,1227.49" fill="#cc6a1f" />
<polygon points="1283.12,1230.96 1290.47,1230.96 1286.8,1224.6" fill="#cc6a1f" />
<polygon points="1285.64,1226.96 1292.99,1226.96 1289.32,1220.59" fill="#cc6a1f" />
<polygon points="1280.61,1226.92 1287.95,1226.92 1284.28,1220.55" fill="#cc6a1f" />
<polygon points="1290.68,1225.67 1298.03,1225.67 1294.36,1219.3" fill="#cc6a1f" />
<polygon points="1275.57,1224.36 1282.91,1224.36 1279.24,1218" fill="#cc6a1f" />
<polygon points="1295.72,1224.16 1303.07,1224.16 1299.4,1217.79" fill="#cc6a1f" />
<polygon points="1283.12,1223.05 1290.47,1223.05 1286.8,1216.68" fill="#cc6a1f" />
<polygon points="1270.53,1222.16 1277.88,1222.16 1274.2,1215.8" fill="#cc6a1f" />
<polygon points="1283.12,1217.48 1290.47,1217.48 1286.8,1211.12" fill="#cc6a1f" />
<polygon points="1288.16,1217.28 1295.51,1217.28 1291.84,1210.92" fill="#cc6a1f" />
<polygon points="1285.64,1213.33 1292.99,1213.33 1289.32,1206.96" fill="#cc6a1f" />
<polygon points="1280.61,1211.59 1287.95,1211.59 1284.28,1205.23" fill="#cc6a1f" />
<polygon points="1290.68,1211.38 1298.03,1211.38 1294.36,1205.01" fill="#cc6a1f" />
<polygon points="1275.57,1211.34 1282.91,1211.34 1279.24,1204.97" fill="#cc6a1f" />
<polygon points="1295.72,1211.08 1303.07,1211.08 1299.4,1204.71" fill="#cc6a1f" />
<polygon points="1270.53,1209.59 1277.88,1209.59 1274.2,1203.22" fill="#cc6a1f" />
<polygon points="1298.24,1209.08 1305.59,1209.08 1301.92,1202.71" fill="#cc6a1f" />
<polygon points="1283.12,1207.88 1290.47,1207.88 1286.8,1201.51" fill="#cc6a1f" />
<polygon points="1288.16,1207.79 1295.51,1207.79 1291.84,1201.43" fill="#cc6a1f" />
<polygon points="1278.09,1207.71 1285.43,1207.71 1281.76,1201.35" fill="#cc6a1f" />
<polygon points="1293.2,1206.85 1300.55,1206.85 1296.88,1200.49" fill="#cc6a1f" />
<polygon points="1283.12,1195.67 1290.47,1195.67 1286.8,1189.31" fill="#cc6a1f" />
<polygon points="1285.64,1191.62 1292.99,1191.62 1289.32,1185.25" fill="#cc6a1f" />
<polygon points="1280.61,1189.26 1287.95,1189.26 1284.28,1182.89" fill="#cc6a1f" />
<polygon points="1285.64,1187.17 1292.99,1187.17 1289.32,1180.81" fill="#cc6a1f" />
<polygon points="1283.12,1167.46 1290.47,1167.46 1286.8,1161.1" fill="#cc6a1f" />
<polygon points="1288.16,1167.46 1295.51,1167.46 1291.84,1161.1" fill="#cc6a1f" />
<polygon points="1278.09,1165.98 1285.43,1165.98 1281.76,1159.62" fill="#cc6a1f" />
<polygon points="1283.12,1157.11 1290.47,1157.11 1286.8,1150.74" fill="#cc6a1f" />
<polygon points="1283.12,1131.97 1290.47,1131.97 1286.8,1125.6" fill="#cc6a1f" />
<polygon points="1283.12,1127.53 1290.47,1127.53 1286.8,1121.16" fill="#cc6a1f" />
<circle cx="1327.7" cy="1285.56" r="3.64" fill="#8e4616"/>
<circle cx="1327.7" cy="1273.26" r="3.64" fill="#8e4616"/>
<circle cx="1332.74" cy="1271.72" r="3.64" fill="#8e4616"/>
<circle cx="1322.66" cy="1270.08" r="3.64" fill="#8e4616"/>
<circle cx="1327.7" cy="1262.34" r="3.64" fill="#8e4616"/>
<circle cx="1330.22" cy="1258.59" r="3.64" fill="#8e4616"/>
<circle cx="1325.18" cy="1258.3" r="3.64" fill="#8e4616"/>
<circle cx="1335.26" cy="1257.03" r="3.64" fill="#8e4616"/>
<circle cx="1320.14" cy="1256.44" r="3.64" fill="#8e4616"/>
<circle cx="1327.7" cy="1251.12" r="3.64" fill="#8e4616"/>
<circle cx="1332.74" cy="1248.3" r="3.64" fill="#8e4616"/>
<circle cx="1325.18" cy="1247.37" r="3.64" fill="#8e4616"/>
<circle cx="1320.14" cy="1246.13" r="3.64" fill="#8e4616"/>
<circle cx="1327.7" cy="1243.2" r="3.64" fill="#8e4616"/>
<circle cx="1332.74" cy="1243.07" r="3.64" fill="#8e4616"/>
<circle cx="1337.78" cy="1242.66" r="3.64" fill="#8e4616"/>
<circle cx="1330.22" cy="1239.19" r="3.64" fill="#8e4616"/>
<circle cx="1325.18" cy="1238.5" r="3.64" fill="#8e4616"/>
<circle cx="1335.26" cy="1237.64" r="3.64" fill="#8e4616"/>
<circle cx="1327.7" cy="1232.22" r="3.64" fill="#8e4616"/>
<circle cx="1332.74" cy="1229.31" r="3.64" fill="#8e4616"/>
<circle cx="1322.66" cy="1229.08" r="3.64" fill="#8e4616"/>
<circle cx="1327.7" cy="1227.07" r="3.64" fill="#8e4616"/>
<circle cx="1337.78" cy="1225.91" r="3.64" fill="#8e4616"/>
<circle cx="1320.14" cy="1225.05" r="3.64" fill="#8e4616"/>
<circle cx="1332.74" cy="1224.9" r="3.64" fill="#8e4616"/>
<circle cx="1315.1" cy="1224.61" r="3.64" fill="#8e4616"/>
<circle cx="1327.7" cy="1221.42" r="3.64" fill="#8e4616"/>
<circle cx="1332.74" cy="1219.67" r="3.64" fill="#8e4616"/>
<circle cx="1322.66" cy="1218.86" r="3.64" fill="#8e4616"/>
<circle cx="1327.7" cy="1216.36" r="3.64" fill="#8e4616"/>
<circle cx="1332.74" cy="1215.21" r="3.64" fill="#8e4616"/>
<circle cx="1320.14" cy="1215.02" r="3.64" fill="#8e4616"/>
<circle cx="1337.78" cy="1213.75" r="3.64" fill="#8e4616"/>
<circle cx="1327.7" cy="1206.59" r="3.64" fill="#8e4616"/>
<circle cx="1332.74" cy="1205.8" r="3.64" fill="#8e4616"/>
<circle cx="1322.66" cy="1203.62" r="3.64" fill="#8e4616"/>
<circle cx="1337.78" cy="1203.35" r="3.64" fill="#8e4616"/>
<circle cx="1317.62" cy="1202.33" r="3.64" fill="#8e4616"/>
<circle cx="1327.7" cy="1202.04" r="3.64" fill="#8e4616"/>
<circle cx="1327.7" cy="1194.5" r="3.64" fill="#8e4616"/>
<circle cx="1327.7" cy="1161.32" r="3.64" fill="#8e4616"/>
<circle cx="1332.74" cy="1158.36" r="3.64" fill="#8e4616"/>
<circle cx="1327.7" cy="1156.88" r="3.64" fill="#8e4616"/>
<circle cx="1327.7" cy="1149.49" r="3.64" fill="#8e4616"/>
<line x1="1164" y1="1014.15" x2="1164" y2="1311.45" stroke="#000" stroke-width="1.6" />
<line x1="1153.1" y1="1310.7" x2="1164" y2="1310.7" stroke="#000" stroke-width="1.6" />
<text x="1148.4" y="1316.15" font-size="15.57" fill="#000" text-anchor="end" textLength="9.75" lengthAdjust="spacingAndGlyphs">0</text>
<line x1="1153.1" y1="1236.75" x2="1164" y2="1236.75" stroke="#000" stroke-width="1.6" />
<text x="1148.4" y="1242.2" font-size="15.57" fill="#000" text-anchor="end" textLength="29.25" lengthAdjust="spacingAndGlyphs">500</text>
<line x1="1153.1" y1="1162.8" x2="1164" y2="1162.8" stroke="#000" stroke-width="1.6" />
<text x="1148.4" y="1168.25" font-size="15.57" fill="#000" text-anchor="end" textLength="39" lengthAdjust="spacingAndGlyphs">1000</text>
<line x1="1153.1" y1="1088.85" x2="1164" y2="1088.85" stroke="#000" stroke-width="1.6" />
<text x="1148.4" y="1094.3" font-size="15.57" fill="#000" text-anchor="end" textLength="39" lengthAdjust="spacingAndGlyphs">1500</text>
<line x1="1153.1" y1="1014.9" x2="1164" y2="1014.9" stroke="#000" stroke-width="1.6" />
<text x="1148.4" y="1020.35" font-size="15.57" fill="#000" text-anchor="end" textLength="39" lengthAdjust="spacingAndGlyphs">2000</text>
<text x="1197.75" y="1331.5" font-size="20" fill="#000" text-anchor="middle" font-family='"DejaVu Sans", "Liberation Sans", sans-serif'>&#9792;</text>
<text x="1237.6" y="1332.7" font-size="20" fill="#000" text-anchor="middle" font-family='"DejaVu Sans", "Liberation Sans", sans-serif'>&#9794;</text>
<text x="1287.3" y="1331.5" font-size="20" fill="#000" text-anchor="middle" font-family='"DejaVu Sans", "Liberation Sans", sans-serif'>&#9792;</text>
<text x="1327.7" y="1332.7" font-size="20" fill="#000" text-anchor="middle" font-family='"DejaVu Sans", "Liberation Sans", sans-serif'>&#9794;</text>
<line x1="1181.6" y1="1347.4" x2="1253" y2="1347.4" stroke="#000" stroke-width="1.7" />
<line x1="1272" y1="1347.4" x2="1343.4" y2="1347.4" stroke="#000" stroke-width="1.7" />
<text x="1217.6" y="1368.5" font-size="15.5" fill="#000" text-anchor="middle" textLength="21.4" lengthAdjust="spacingAndGlyphs">WT</text>
<text x="1288" y="1368.5" font-size="15.5" font-style="italic" textLength="41" lengthAdjust="spacingAndGlyphs">Tsc2<tspan font-size="10.5" dy="-7" font-style="normal">+/-</tspan></text>
<text transform="translate(1093.2,1165.6) rotate(-90)" font-size="17" fill="#000" text-anchor="middle" textLength="140.5" lengthAdjust="spacingAndGlyphs">Total Lenght (µm)</text>
<text x="1239.4" y="1044.97" font-size="21.38" font-weight="bold" font-family="'DejaVu Sans', 'Liberation Sans', sans-serif" text-anchor="middle">*</text>
<line x1="1197.7" y1="1050.6" x2="1282" y2="1050.6" stroke="#000" stroke-width="1.7" />
<text x="1202.97" y="1082.57" font-size="21.38" font-weight="bold" font-family="'DejaVu Sans', 'Liberation Sans', sans-serif" textLength="27.59" lengthAdjust="spacing">**</text>
<line x1="1197.7" y1="1089" x2="1234" y2="1089" stroke="#000" stroke-width="1.7" />
<text x="1373.5" y="961" font-size="36" fill="#000" font-weight="bold" textLength="57" lengthAdjust="spacingAndGlyphs">Eiii</text>
<rect x="1524.8" y="1236.68" width="32.7" height="74.82" fill="#abd0c4" />
<rect x="1565.7" y="1206.4" width="32.7" height="105.1" fill="#4f8a80" />
<rect x="1615.2" y="1189.18" width="32.7" height="122.32" fill="#e6b57d" />
<rect x="1656" y="1227.18" width="32.8" height="84.32" fill="#c4641e" />
<line x1="1541.15" y1="1236.68" x2="1541.15" y2="1231.34" stroke="#3f8276" stroke-width="1.3" />
<line x1="1535.15" y1="1231.34" x2="1547.15" y2="1231.34" stroke="#3f8276" stroke-width="1.3" />
<line x1="1582.05" y1="1206.4" x2="1582.05" y2="1199.27" stroke="#356f63" stroke-width="1.3" />
<line x1="1576.05" y1="1199.27" x2="1588.05" y2="1199.27" stroke="#356f63" stroke-width="1.3" />
<line x1="1631.55" y1="1189.18" x2="1631.55" y2="1178.49" stroke="#cc6a1f" stroke-width="1.3" />
<line x1="1625.55" y1="1178.49" x2="1637.55" y2="1178.49" stroke="#cc6a1f" stroke-width="1.3" />
<line x1="1672.4" y1="1227.18" x2="1672.4" y2="1218.87" stroke="#8e4616" stroke-width="1.3" />
<line x1="1666.4" y1="1218.87" x2="1678.4" y2="1218.87" stroke="#8e4616" stroke-width="1.3" />
<polygon points="1537.92,1136.16 1544.38,1136.16 1541.15,1130.56" fill="none" stroke="#3f8276" stroke-width="1.4" stroke-linejoin="round" />
<polygon points="1537.92,1148.03 1544.38,1148.03 1541.15,1142.44" fill="none" stroke="#3f8276" stroke-width="1.4" stroke-linejoin="round" />
<polygon points="1537.92,1171.79 1544.38,1171.79 1541.15,1166.19" fill="none" stroke="#3f8276" stroke-width="1.4" stroke-linejoin="round" />
<polygon points="1537.92,1183.66 1544.38,1183.66 1541.15,1178.07" fill="none" stroke="#3f8276" stroke-width="1.4" stroke-linejoin="round" />
<polygon points="1537.92,1195.54 1544.38,1195.54 1541.15,1189.94" fill="none" stroke="#3f8276" stroke-width="1.4" stroke-linejoin="round" />
<polygon points="1535.85,1207.41 1542.31,1207.41 1539.08,1201.82" fill="none" stroke="#3f8276" stroke-width="1.4" stroke-linejoin="round" />
<polygon points="1537.92,1207.41 1544.38,1207.41 1541.15,1201.82" fill="none" stroke="#3f8276" stroke-width="1.4" stroke-linejoin="round" />
<polygon points="1539.99,1207.41 1546.45,1207.41 1543.22,1201.82" fill="none" stroke="#3f8276" stroke-width="1.4" stroke-linejoin="round" />
<polygon points="1534.82,1219.29 1541.28,1219.29 1538.05,1213.69" fill="none" stroke="#3f8276" stroke-width="1.4" stroke-linejoin="round" />
<polygon points="1536.89,1219.29 1543.35,1219.29 1540.12,1213.69" fill="none" stroke="#3f8276" stroke-width="1.4" stroke-linejoin="round" />
<polygon points="1538.95,1219.29 1545.41,1219.29 1542.18,1213.69" fill="none" stroke="#3f8276" stroke-width="1.4" stroke-linejoin="round" />
<polygon points="1541.02,1219.29 1547.48,1219.29 1544.25,1213.69" fill="none" stroke="#3f8276" stroke-width="1.4" stroke-linejoin="round" />
<polygon points="1532.75,1231.17 1539.21,1231.17 1535.98,1225.57" fill="none" stroke="#3f8276" stroke-width="1.4" stroke-linejoin="round" />
<polygon points="1534.82,1231.17 1541.28,1231.17 1538.05,1225.57" fill="none" stroke="#3f8276" stroke-width="1.4" stroke-linejoin="round" />
<polygon points="1536.89,1231.17 1543.35,1231.17 1540.12,1225.57" fill="none" stroke="#3f8276" stroke-width="1.4" stroke-linejoin="round" />
<polygon points="1538.95,1231.17 1545.41,1231.17 1542.18,1225.57" fill="none" stroke="#3f8276" stroke-width="1.4" stroke-linejoin="round" />
<polygon points="1541.02,1231.17 1547.48,1231.17 1544.25,1225.57" fill="none" stroke="#3f8276" stroke-width="1.4" stroke-linejoin="round" />
<polygon points="1543.09,1231.17 1549.55,1231.17 1546.32,1225.57" fill="none" stroke="#3f8276" stroke-width="1.4" stroke-linejoin="round" />
<polygon points="1524.47,1243.04 1530.93,1243.04 1527.7,1237.45" fill="none" stroke="#3f8276" stroke-width="1.4" stroke-linejoin="round" />
<polygon points="1526.54,1243.04 1533,1243.04 1529.77,1237.45" fill="none" stroke="#3f8276" stroke-width="1.4" stroke-linejoin="round" />
<polygon points="1528.61,1243.04 1535.07,1243.04 1531.84,1237.45" fill="none" stroke="#3f8276" stroke-width="1.4" stroke-linejoin="round" />
<polygon points="1530.68,1243.04 1537.14,1243.04 1533.91,1237.45" fill="none" stroke="#3f8276" stroke-width="1.4" stroke-linejoin="round" />
<polygon points="1532.75,1243.04 1539.21,1243.04 1535.98,1237.45" fill="none" stroke="#3f8276" stroke-width="1.4" stroke-linejoin="round" />
<polygon points="1534.82,1243.04 1541.28,1243.04 1538.05,1237.45" fill="none" stroke="#3f8276" stroke-width="1.4" stroke-linejoin="round" />
<polygon points="1536.89,1243.04 1543.35,1243.04 1540.12,1237.45" fill="none" stroke="#3f8276" stroke-width="1.4" stroke-linejoin="round" />
<polygon points="1538.95,1243.04 1545.41,1243.04 1542.18,1237.45" fill="none" stroke="#3f8276" stroke-width="1.4" stroke-linejoin="round" />
<polygon points="1541.02,1243.04 1547.48,1243.04 1544.25,1237.45" fill="none" stroke="#3f8276" stroke-width="1.4" stroke-linejoin="round" />
<polygon points="1543.09,1243.04 1549.55,1243.04 1546.32,1237.45" fill="none" stroke="#3f8276" stroke-width="1.4" stroke-linejoin="round" />
<polygon points="1545.16,1243.04 1551.62,1243.04 1548.39,1237.45" fill="none" stroke="#3f8276" stroke-width="1.4" stroke-linejoin="round" />
<polygon points="1547.23,1243.04 1553.69,1243.04 1550.46,1237.45" fill="none" stroke="#3f8276" stroke-width="1.4" stroke-linejoin="round" />
<polygon points="1549.3,1243.04 1555.76,1243.04 1552.53,1237.45" fill="none" stroke="#3f8276" stroke-width="1.4" stroke-linejoin="round" />
<polygon points="1551.37,1243.04 1557.83,1243.04 1554.6,1237.45" fill="none" stroke="#3f8276" stroke-width="1.4" stroke-linejoin="round" />
<polygon points="1535.85,1254.92 1542.31,1254.92 1539.08,1249.32" fill="none" stroke="#3f8276" stroke-width="1.4" stroke-linejoin="round" />
<polygon points="1537.92,1254.92 1544.38,1254.92 1541.15,1249.32" fill="none" stroke="#3f8276" stroke-width="1.4" stroke-linejoin="round" />
<polygon points="1539.99,1254.92 1546.45,1254.92 1543.22,1249.32" fill="none" stroke="#3f8276" stroke-width="1.4" stroke-linejoin="round" />
<polygon points="1533.78,1266.79 1540.24,1266.79 1537.01,1261.2" fill="none" stroke="#3f8276" stroke-width="1.4" stroke-linejoin="round" />
<polygon points="1535.85,1266.79 1542.31,1266.79 1539.08,1261.2" fill="none" stroke="#3f8276" stroke-width="1.4" stroke-linejoin="round" />
<polygon points="1537.92,1266.79 1544.38,1266.79 1541.15,1261.2" fill="none" stroke="#3f8276" stroke-width="1.4" stroke-linejoin="round" />
<polygon points="1539.99,1266.79 1546.45,1266.79 1543.22,1261.2" fill="none" stroke="#3f8276" stroke-width="1.4" stroke-linejoin="round" />
<polygon points="1542.06,1266.79 1548.52,1266.79 1545.29,1261.2" fill="none" stroke="#3f8276" stroke-width="1.4" stroke-linejoin="round" />
<polygon points="1530.68,1278.67 1537.14,1278.67 1533.91,1273.07" fill="none" stroke="#3f8276" stroke-width="1.4" stroke-linejoin="round" />
<polygon points="1532.75,1278.67 1539.21,1278.67 1535.98,1273.07" fill="none" stroke="#3f8276" stroke-width="1.4" stroke-linejoin="round" />
<polygon points="1534.82,1278.67 1541.28,1278.67 1538.05,1273.07" fill="none" stroke="#3f8276" stroke-width="1.4" stroke-linejoin="round" />
<polygon points="1536.89,1278.67 1543.35,1278.67 1540.12,1273.07" fill="none" stroke="#3f8276" stroke-width="1.4" stroke-linejoin="round" />
<polygon points="1538.95,1278.67 1545.41,1278.67 1542.18,1273.07" fill="none" stroke="#3f8276" stroke-width="1.4" stroke-linejoin="round" />
<polygon points="1541.02,1278.67 1547.48,1278.67 1544.25,1273.07" fill="none" stroke="#3f8276" stroke-width="1.4" stroke-linejoin="round" />
<polygon points="1543.09,1278.67 1549.55,1278.67 1546.32,1273.07" fill="none" stroke="#3f8276" stroke-width="1.4" stroke-linejoin="round" />
<polygon points="1545.16,1278.67 1551.62,1278.67 1548.39,1273.07" fill="none" stroke="#3f8276" stroke-width="1.4" stroke-linejoin="round" />
<polygon points="1536.89,1290.55 1543.35,1290.55 1540.12,1284.95" fill="none" stroke="#3f8276" stroke-width="1.4" stroke-linejoin="round" />
<polygon points="1538.95,1290.55 1545.41,1290.55 1542.18,1284.95" fill="none" stroke="#3f8276" stroke-width="1.4" stroke-linejoin="round" />
<circle cx="1582.05" cy="1050.23" r="2.43" fill="none" stroke="#356f63" stroke-width="1.4"/>
<circle cx="1582.05" cy="1085.86" r="2.43" fill="none" stroke="#356f63" stroke-width="1.4"/>
<circle cx="1582.05" cy="1121.48" r="2.43" fill="none" stroke="#356f63" stroke-width="1.4"/>
<circle cx="1575.33" cy="1133.36" r="2.43" fill="none" stroke="#356f63" stroke-width="1.4"/>
<circle cx="1579.81" cy="1133.36" r="2.43" fill="none" stroke="#356f63" stroke-width="1.4"/>
<circle cx="1584.29" cy="1133.36" r="2.43" fill="none" stroke="#356f63" stroke-width="1.4"/>
<circle cx="1588.78" cy="1133.36" r="2.43" fill="none" stroke="#356f63" stroke-width="1.4"/>
<circle cx="1577.57" cy="1145.24" r="2.43" fill="none" stroke="#356f63" stroke-width="1.4"/>
<circle cx="1582.05" cy="1145.24" r="2.43" fill="none" stroke="#356f63" stroke-width="1.4"/>
<circle cx="1586.53" cy="1145.24" r="2.43" fill="none" stroke="#356f63" stroke-width="1.4"/>
<circle cx="1582.05" cy="1168.99" r="2.43" fill="none" stroke="#356f63" stroke-width="1.4"/>
<circle cx="1573.08" cy="1180.86" r="2.43" fill="none" stroke="#356f63" stroke-width="1.4"/>
<circle cx="1577.57" cy="1180.86" r="2.43" fill="none" stroke="#356f63" stroke-width="1.4"/>
<circle cx="1582.05" cy="1180.86" r="2.43" fill="none" stroke="#356f63" stroke-width="1.4"/>
<circle cx="1586.53" cy="1180.86" r="2.43" fill="none" stroke="#356f63" stroke-width="1.4"/>
<circle cx="1591.02" cy="1180.86" r="2.43" fill="none" stroke="#356f63" stroke-width="1.4"/>
<circle cx="1575.33" cy="1192.74" r="2.43" fill="none" stroke="#356f63" stroke-width="1.4"/>
<circle cx="1579.81" cy="1192.74" r="2.43" fill="none" stroke="#356f63" stroke-width="1.4"/>
<circle cx="1584.29" cy="1192.74" r="2.43" fill="none" stroke="#356f63" stroke-width="1.4"/>
<circle cx="1588.78" cy="1192.74" r="2.43" fill="none" stroke="#356f63" stroke-width="1.4"/>
<circle cx="1570.84" cy="1204.62" r="2.43" fill="none" stroke="#356f63" stroke-width="1.4"/>
<circle cx="1575.33" cy="1204.62" r="2.43" fill="none" stroke="#356f63" stroke-width="1.4"/>
<circle cx="1579.81" cy="1204.62" r="2.43" fill="none" stroke="#356f63" stroke-width="1.4"/>
<circle cx="1584.29" cy="1204.62" r="2.43" fill="none" stroke="#356f63" stroke-width="1.4"/>
<circle cx="1588.78" cy="1204.62" r="2.43" fill="none" stroke="#356f63" stroke-width="1.4"/>
<circle cx="1593.26" cy="1204.62" r="2.43" fill="none" stroke="#356f63" stroke-width="1.4"/>
<circle cx="1568.6" cy="1216.49" r="2.43" fill="none" stroke="#356f63" stroke-width="1.4"/>
<circle cx="1573.08" cy="1216.49" r="2.43" fill="none" stroke="#356f63" stroke-width="1.4"/>
<circle cx="1577.57" cy="1216.49" r="2.43" fill="none" stroke="#356f63" stroke-width="1.4"/>
<circle cx="1582.05" cy="1216.49" r="2.43" fill="none" stroke="#356f63" stroke-width="1.4"/>
<circle cx="1586.53" cy="1216.49" r="2.43" fill="none" stroke="#356f63" stroke-width="1.4"/>
<circle cx="1591.02" cy="1216.49" r="2.43" fill="none" stroke="#356f63" stroke-width="1.4"/>
<circle cx="1595.5" cy="1216.49" r="2.43" fill="none" stroke="#356f63" stroke-width="1.4"/>
<circle cx="1573.08" cy="1228.37" r="2.43" fill="none" stroke="#356f63" stroke-width="1.4"/>
<circle cx="1577.57" cy="1228.37" r="2.43" fill="none" stroke="#356f63" stroke-width="1.4"/>
<circle cx="1582.05" cy="1228.37" r="2.43" fill="none" stroke="#356f63" stroke-width="1.4"/>
<circle cx="1586.53" cy="1228.37" r="2.43" fill="none" stroke="#356f63" stroke-width="1.4"/>
<circle cx="1591.02" cy="1228.37" r="2.43" fill="none" stroke="#356f63" stroke-width="1.4"/>
<circle cx="1568.6" cy="1240.24" r="2.43" fill="none" stroke="#356f63" stroke-width="1.4"/>
<circle cx="1573.08" cy="1240.24" r="2.43" fill="none" stroke="#356f63" stroke-width="1.4"/>
<circle cx="1577.57" cy="1240.24" r="2.43" fill="none" stroke="#356f63" stroke-width="1.4"/>
<circle cx="1582.05" cy="1240.24" r="2.43" fill="none" stroke="#356f63" stroke-width="1.4"/>
<circle cx="1586.53" cy="1240.24" r="2.43" fill="none" stroke="#356f63" stroke-width="1.4"/>
<circle cx="1591.02" cy="1240.24" r="2.43" fill="none" stroke="#356f63" stroke-width="1.4"/>
<circle cx="1595.5" cy="1240.24" r="2.43" fill="none" stroke="#356f63" stroke-width="1.4"/>
<circle cx="1570.84" cy="1252.12" r="2.43" fill="none" stroke="#356f63" stroke-width="1.4"/>
<circle cx="1575.33" cy="1252.12" r="2.43" fill="none" stroke="#356f63" stroke-width="1.4"/>
<circle cx="1579.81" cy="1252.12" r="2.43" fill="none" stroke="#356f63" stroke-width="1.4"/>
<circle cx="1584.29" cy="1252.12" r="2.43" fill="none" stroke="#356f63" stroke-width="1.4"/>
<circle cx="1588.78" cy="1252.12" r="2.43" fill="none" stroke="#356f63" stroke-width="1.4"/>
<circle cx="1593.26" cy="1252.12" r="2.43" fill="none" stroke="#356f63" stroke-width="1.4"/>
<circle cx="1579.81" cy="1264" r="2.43" fill="none" stroke="#356f63" stroke-width="1.4"/>
<circle cx="1584.29" cy="1264" r="2.43" fill="none" stroke="#356f63" stroke-width="1.4"/>
<circle cx="1575.33" cy="1275.87" r="2.43" fill="none" stroke="#356f63" stroke-width="1.4"/>
<circle cx="1579.81" cy="1275.87" r="2.43" fill="none" stroke="#356f63" stroke-width="1.4"/>
<circle cx="1584.29" cy="1275.87" r="2.43" fill="none" stroke="#356f63" stroke-width="1.4"/>
<circle cx="1588.78" cy="1275.87" r="2.43" fill="none" stroke="#356f63" stroke-width="1.4"/>
<circle cx="1579.81" cy="1287.75" r="2.43" fill="none" stroke="#356f63" stroke-width="1.4"/>
<circle cx="1584.29" cy="1287.75" r="2.43" fill="none" stroke="#356f63" stroke-width="1.4"/>
<polygon points="1627.98,1053.32 1635.12,1053.32 1631.55,1047.14" fill="#cc6a1f" />
<polygon points="1627.98,1065.2 1635.12,1065.2 1631.55,1059.01" fill="#cc6a1f" />
<polygon points="1620.33,1077.07 1627.47,1077.07 1623.9,1070.89" fill="#cc6a1f" />
<polygon points="1625.43,1077.07 1632.57,1077.07 1629,1070.89" fill="#cc6a1f" />
<polygon points="1630.53,1077.07 1637.67,1077.07 1634.1,1070.89" fill="#cc6a1f" />
<polygon points="1635.63,1077.07 1642.77,1077.07 1639.2,1070.89" fill="#cc6a1f" />
<polygon points="1625.43,1088.95 1632.57,1088.95 1629,1082.76" fill="#cc6a1f" />
<polygon points="1630.53,1088.95 1637.67,1088.95 1634.1,1082.76" fill="#cc6a1f" />
<polygon points="1627.98,1112.7 1635.12,1112.7 1631.55,1106.52" fill="#cc6a1f" />
<polygon points="1627.98,1136.45 1635.12,1136.45 1631.55,1130.27" fill="#cc6a1f" />
<polygon points="1627.98,1148.33 1635.12,1148.33 1631.55,1142.14" fill="#cc6a1f" />
<polygon points="1625.43,1160.2 1632.57,1160.2 1629,1154.02" fill="#cc6a1f" />
<polygon points="1630.53,1160.2 1637.67,1160.2 1634.1,1154.02" fill="#cc6a1f" />
<polygon points="1627.98,1172.08 1635.12,1172.08 1631.55,1165.9" fill="#cc6a1f" />
<polygon points="1620.33,1183.96 1627.47,1183.96 1623.9,1177.77" fill="#cc6a1f" />
<polygon points="1625.43,1183.96 1632.57,1183.96 1629,1177.77" fill="#cc6a1f" />
<polygon points="1630.53,1183.96 1637.67,1183.96 1634.1,1177.77" fill="#cc6a1f" />
<polygon points="1635.63,1183.96 1642.77,1183.96 1639.2,1177.77" fill="#cc6a1f" />
<polygon points="1620.33,1207.71 1627.47,1207.71 1623.9,1201.52" fill="#cc6a1f" />
<polygon points="1625.43,1207.71 1632.57,1207.71 1629,1201.52" fill="#cc6a1f" />
<polygon points="1630.53,1207.71 1637.67,1207.71 1634.1,1201.52" fill="#cc6a1f" />
<polygon points="1635.63,1207.71 1642.77,1207.71 1639.2,1201.52" fill="#cc6a1f" />
<polygon points="1625.43,1219.58 1632.57,1219.58 1629,1213.4" fill="#cc6a1f" />
<polygon points="1630.53,1219.58 1637.67,1219.58 1634.1,1213.4" fill="#cc6a1f" />
<polygon points="1617.78,1231.46 1624.92,1231.46 1621.35,1225.28" fill="#cc6a1f" />
<polygon points="1622.88,1231.46 1630.02,1231.46 1626.45,1225.28" fill="#cc6a1f" />
<polygon points="1627.98,1231.46 1635.12,1231.46 1631.55,1225.28" fill="#cc6a1f" />
<polygon points="1633.08,1231.46 1640.22,1231.46 1636.65,1225.28" fill="#cc6a1f" />
<polygon points="1638.18,1231.46 1645.32,1231.46 1641.75,1225.28" fill="#cc6a1f" />
<polygon points="1615.23,1243.34 1622.37,1243.34 1618.8,1237.15" fill="#cc6a1f" />
<polygon points="1620.33,1243.34 1627.47,1243.34 1623.9,1237.15" fill="#cc6a1f" />
<polygon points="1625.43,1243.34 1632.57,1243.34 1629,1237.15" fill="#cc6a1f" />
<polygon points="1630.53,1243.34 1637.67,1243.34 1634.1,1237.15" fill="#cc6a1f" />
<polygon points="1635.63,1243.34 1642.77,1243.34 1639.2,1237.15" fill="#cc6a1f" />
<polygon points="1640.73,1243.34 1647.87,1243.34 1644.3,1237.15" fill="#cc6a1f" />
<polygon points="1620.33,1255.21 1627.47,1255.21 1623.9,1249.03" fill="#cc6a1f" />
<polygon points="1625.43,1255.21 1632.57,1255.21 1629,1249.03" fill="#cc6a1f" />
<polygon points="1630.53,1255.21 1637.67,1255.21 1634.1,1249.03" fill="#cc6a1f" />
<polygon points="1635.63,1255.21 1642.77,1255.21 1639.2,1249.03" fill="#cc6a1f" />
<polygon points="1625.43,1267.09 1632.57,1267.09 1629,1260.9" fill="#cc6a1f" />
<polygon points="1630.53,1267.09 1637.67,1267.09 1634.1,1260.9" fill="#cc6a1f" />
<polygon points="1625.43,1278.96 1632.57,1278.96 1629,1272.78" fill="#cc6a1f" />
<polygon points="1630.53,1278.96 1637.67,1278.96 1634.1,1272.78" fill="#cc6a1f" />
<circle cx="1672.4" cy="1121.48" r="3.54" fill="#8e4616"/>
<circle cx="1667.9" cy="1133.36" r="3.54" fill="#8e4616"/>
<circle cx="1670.9" cy="1133.36" r="3.54" fill="#8e4616"/>
<circle cx="1673.9" cy="1133.36" r="3.54" fill="#8e4616"/>
<circle cx="1676.9" cy="1133.36" r="3.54" fill="#8e4616"/>
<circle cx="1670.9" cy="1180.86" r="3.54" fill="#8e4616"/>
<circle cx="1673.9" cy="1180.86" r="3.54" fill="#8e4616"/>
<circle cx="1667.9" cy="1192.74" r="3.54" fill="#8e4616"/>
<circle cx="1670.9" cy="1192.74" r="3.54" fill="#8e4616"/>
<circle cx="1673.9" cy="1192.74" r="3.54" fill="#8e4616"/>
<circle cx="1676.9" cy="1192.74" r="3.54" fill="#8e4616"/>
<circle cx="1672.4" cy="1204.62" r="3.54" fill="#8e4616"/>
<circle cx="1672.4" cy="1216.49" r="3.54" fill="#8e4616"/>
<circle cx="1666.4" cy="1228.37" r="3.54" fill="#8e4616"/>
<circle cx="1669.4" cy="1228.37" r="3.54" fill="#8e4616"/>
<circle cx="1672.4" cy="1228.37" r="3.54" fill="#8e4616"/>
<circle cx="1675.4" cy="1228.37" r="3.54" fill="#8e4616"/>
<circle cx="1678.4" cy="1228.37" r="3.54" fill="#8e4616"/>
<circle cx="1670.9" cy="1240.24" r="3.54" fill="#8e4616"/>
<circle cx="1673.9" cy="1240.24" r="3.54" fill="#8e4616"/>
<circle cx="1658.9" cy="1252.12" r="3.54" fill="#8e4616"/>
<circle cx="1661.9" cy="1252.12" r="3.54" fill="#8e4616"/>
<circle cx="1664.9" cy="1252.12" r="3.54" fill="#8e4616"/>
<circle cx="1667.9" cy="1252.12" r="3.54" fill="#8e4616"/>
<circle cx="1670.9" cy="1252.12" r="3.54" fill="#8e4616"/>
<circle cx="1673.9" cy="1252.12" r="3.54" fill="#8e4616"/>
<circle cx="1676.9" cy="1252.12" r="3.54" fill="#8e4616"/>
<circle cx="1679.9" cy="1252.12" r="3.54" fill="#8e4616"/>
<circle cx="1682.9" cy="1252.12" r="3.54" fill="#8e4616"/>
<circle cx="1685.9" cy="1252.12" r="3.54" fill="#8e4616"/>
<circle cx="1666.4" cy="1264" r="3.54" fill="#8e4616"/>
<circle cx="1669.4" cy="1264" r="3.54" fill="#8e4616"/>
<circle cx="1672.4" cy="1264" r="3.54" fill="#8e4616"/>
<circle cx="1675.4" cy="1264" r="3.54" fill="#8e4616"/>
<circle cx="1678.4" cy="1264" r="3.54" fill="#8e4616"/>
<circle cx="1669.4" cy="1275.87" r="3.54" fill="#8e4616"/>
<circle cx="1672.4" cy="1275.87" r="3.54" fill="#8e4616"/>
<circle cx="1675.4" cy="1275.87" r="3.54" fill="#8e4616"/>
<circle cx="1669.4" cy="1287.75" r="3.54" fill="#8e4616"/>
<circle cx="1672.4" cy="1287.75" r="3.54" fill="#8e4616"/>
<circle cx="1675.4" cy="1287.75" r="3.54" fill="#8e4616"/>
<line x1="1508.7" y1="1013.85" x2="1508.7" y2="1312.25" stroke="#000" stroke-width="1.6" />
<line x1="1497" y1="1311.5" x2="1508.7" y2="1311.5" stroke="#000" stroke-width="1.6" />
<text x="1492.6" y="1316.95" font-size="15.57" fill="#000" text-anchor="end" textLength="9.6" lengthAdjust="spacingAndGlyphs">0</text>
<line x1="1497" y1="1252.12" x2="1508.7" y2="1252.12" stroke="#000" stroke-width="1.6" />
<text x="1492.6" y="1257.57" font-size="15.57" fill="#000" text-anchor="end" textLength="9.6" lengthAdjust="spacingAndGlyphs">5</text>
<line x1="1497" y1="1192.74" x2="1508.7" y2="1192.74" stroke="#000" stroke-width="1.6" />
<text x="1492.6" y="1198.19" font-size="15.57" fill="#000" text-anchor="end" textLength="19.2" lengthAdjust="spacingAndGlyphs">10</text>
<line x1="1497" y1="1133.36" x2="1508.7" y2="1133.36" stroke="#000" stroke-width="1.6" />
<text x="1492.6" y="1138.81" font-size="15.57" fill="#000" text-anchor="end" textLength="19.2" lengthAdjust="spacingAndGlyphs">15</text>
<line x1="1497" y1="1073.98" x2="1508.7" y2="1073.98" stroke="#000" stroke-width="1.6" />
<text x="1492.6" y="1079.43" font-size="15.57" fill="#000" text-anchor="end" textLength="19.2" lengthAdjust="spacingAndGlyphs">20</text>
<line x1="1497" y1="1014.6" x2="1508.7" y2="1014.6" stroke="#000" stroke-width="1.6" />
<text x="1492.6" y="1020.05" font-size="15.57" fill="#000" text-anchor="end" textLength="19.2" lengthAdjust="spacingAndGlyphs">25</text>
<text x="1541.65" y="1331.5" font-size="20" fill="#000" text-anchor="middle" font-family='"DejaVu Sans", "Liberation Sans", sans-serif'>&#9792;</text>
<text x="1582.05" y="1332.7" font-size="20" fill="#000" text-anchor="middle" font-family='"DejaVu Sans", "Liberation Sans", sans-serif'>&#9794;</text>
<text x="1632.05" y="1331.5" font-size="20" fill="#000" text-anchor="middle" font-family='"DejaVu Sans", "Liberation Sans", sans-serif'>&#9792;</text>
<text x="1672.4" y="1332.7" font-size="20" fill="#000" text-anchor="middle" font-family='"DejaVu Sans", "Liberation Sans", sans-serif'>&#9794;</text>
<line x1="1526" y1="1348" x2="1597.4" y2="1348" stroke="#000" stroke-width="1.7" />
<line x1="1616.4" y1="1348" x2="1687.8" y2="1348" stroke="#000" stroke-width="1.7" />
<text x="1562" y="1368.5" font-size="15.5" fill="#000" text-anchor="middle" textLength="21.4" lengthAdjust="spacingAndGlyphs">WT</text>
<text x="1632" y="1368.5" font-size="15.5" font-style="italic" textLength="41" lengthAdjust="spacingAndGlyphs">Tsc2<tspan font-size="10.5" dy="-7" font-style="normal">+/-</tspan></text>
<text transform="translate(1459.6,1165.6) rotate(-90)" font-size="19.5" fill="#000" text-anchor="middle" textLength="51.5" lengthAdjust="spacingAndGlyphs">Nodes</text>
<text x="1567.17" y="998.47" font-size="21.38" font-weight="bold" font-family="'DejaVu Sans', 'Liberation Sans', sans-serif" textLength="37.34" lengthAdjust="spacing">***</text>
<line x1="1541.6" y1="1004.2" x2="1630.8" y2="1004.2" stroke="#000" stroke-width="1.7" />
<text x="1561.4" y="1032.57" font-size="21.38" font-weight="bold" font-family="'DejaVu Sans', 'Liberation Sans', sans-serif" text-anchor="middle">*</text>
<line x1="1543.3" y1="1038.4" x2="1580" y2="1038.4" stroke="#000" stroke-width="1.7" />
<text x="1639.57" y="1032.57" font-size="21.38" font-weight="bold" font-family="'DejaVu Sans', 'Liberation Sans', sans-serif" textLength="24.99" lengthAdjust="spacing">**</text>
<line x1="1633" y1="1038.4" x2="1671.7" y2="1038.4" stroke="#000" stroke-width="1.7" />
<text x="91" y="1454.8" font-size="36" fill="#000" font-weight="bold" textLength="24" lengthAdjust="spacingAndGlyphs">F</text>
<rect x="7.3" y="1493.4" width="68.5" height="356" rx="1.5" fill="none" stroke="#111" stroke-width="1.6"/>
<text transform="translate(56,1672) rotate(-90)" font-size="43" fill="#000" text-anchor="middle" textLength="131" lengthAdjust="spacingAndGlyphs">Spines</text>
<text x="290.2" y="1540" font-size="30.5" fill="#000" text-anchor="middle" font-weight="bold" textLength="49" lengthAdjust="spacingAndGlyphs">WT</text>
<text x="523" y="1539.6" font-size="30.5" font-weight="bold" font-style="italic" textLength="96" lengthAdjust="spacingAndGlyphs">Tsc2<tspan font-size="19" dy="-12">+/-</tspan></text>
<rect x="122.9" y="1557.3" width="35.1" height="235" fill="#000" />
<polygon points="131.5,1770 131.5,1787 152,1778.5" fill="none" stroke="#f2f23c" stroke-width="3" stroke-linejoin="round" />
<text transform="translate(149.5,1738.3) rotate(-90)" font-size="22.5" fill="#f2f23c" text-anchor="middle" textLength="36.6" lengthAdjust="spacingAndGlyphs">Thin</text>
<polygon points="130.5,1684 130.5,1702 153,1693" fill="#e06a28" />
<polygon points="134,1688.3 134,1697.7 145.5,1693" fill="#000" />
<text transform="translate(149.5,1627.8) rotate(-90)" font-size="22.5" fill="#e06a28" text-anchor="middle" textLength="99.6" lengthAdjust="spacingAndGlyphs">Mushroom</text>
<clipPath id="cF1"><rect x="164.4" y="1557.9" width="244.6" height="232.9"/></clipPath>
<rect x="164.4" y="1557.9" width="244.6" height="232.9" fill="#8c8c8c" />
<g clip-path="url(#cF1)">
<rect x="164.4" y="1557.9" width="244.6" height="232.9" fill="#000" filter="url(#mottle)" opacity="0.16"/>
<rect x="164.4" y="1557.9" width="244.6" height="232.9" fill="#000" filter="url(#grain)" opacity="0.14"/>
<path d="M162,1685 L191,1670 L214,1656 L236,1644 L259,1635 L282,1621 L305,1609 L328,1596 L350,1585 L373,1577 L396,1571 L411,1565" stroke="#2a2a2a" stroke-width="9" fill="none" stroke-linejoin="round" filter="url(#blur1)"/>
<path d="M162,1685 L191,1670 L214,1656 L236,1644 L259,1635 L282,1621 L305,1609 L328,1596 L350,1585 L373,1577 L396,1571 L411,1565" stroke="#6a6a6a" stroke-width="1.8" fill="none" stroke-dasharray="3,5" opacity="0.5"/>
<circle cx="178.8" cy="1653.3" r="3.2" fill="#242424" filter="url(#blur05)"/>
<circle cx="182" cy="1660" r="2.6" fill="#242424" filter="url(#blur05)"/>
<circle cx="200" cy="1688" r="3.2" fill="#242424" filter="url(#blur05)"/>
<circle cx="202" cy="1694" r="3" fill="#242424" filter="url(#blur05)"/>
<circle cx="212" cy="1650" r="3" fill="#242424" filter="url(#blur05)"/>
<circle cx="230.4" cy="1670" r="3.3" fill="#242424" filter="url(#blur05)"/>
<circle cx="231.5" cy="1676" r="3" fill="#242424" filter="url(#blur05)"/>
<circle cx="267" cy="1647" r="4.3" fill="#242424" filter="url(#blur05)"/>
<circle cx="268.4" cy="1641" r="3.5" fill="#242424" filter="url(#blur05)"/>
<circle cx="289.7" cy="1636.6" r="3.5" fill="#242424" filter="url(#blur05)"/>
<circle cx="306.4" cy="1619.9" r="3.3" fill="#242424" filter="url(#blur05)"/>
<circle cx="356.5" cy="1600" r="3.6" fill="#242424" filter="url(#blur05)"/>
<circle cx="357" cy="1594" r="3" fill="#242424" filter="url(#blur05)"/>
<circle cx="352" cy="1574" r="3.2" fill="#242424" filter="url(#blur05)"/>
<circle cx="365" cy="1571" r="3.3" fill="#242424" filter="url(#blur05)"/>
<circle cx="394.5" cy="1566" r="3.3" fill="#242424" filter="url(#blur05)"/>
<circle cx="402" cy="1578" r="3" fill="#242424" filter="url(#blur05)"/>
<circle cx="245" cy="1633" r="3" fill="#242424" filter="url(#blur05)"/>
<circle cx="322" cy="1589" r="3" fill="#242424" filter="url(#blur05)"/>
<circle cx="339" cy="1581" r="3" fill="#242424" filter="url(#blur05)"/>
<circle cx="275" cy="1616" r="2.8" fill="#242424" filter="url(#blur05)"/>
<circle cx="225" cy="1652" r="2.8" fill="#242424" filter="url(#blur05)"/>
<circle cx="380" cy="1570" r="3" fill="#242424" filter="url(#blur05)"/>
<polygon points="186.4,1612.3 206.1,1620.6 186.4,1641.1" fill="none" stroke="#f2f23c" stroke-width="3" stroke-linejoin="round" />
<polygon points="215.3,1603.2 235.8,1598.6 231.2,1627.5" fill="none" stroke="#f2f23c" stroke-width="3" stroke-linejoin="round" />
<polygon points="364.9,1616.8 391.5,1627.5 377.8,1642.7" fill="none" stroke="#f2f23c" stroke-width="3" stroke-linejoin="round" />
<polygon points="319.3,1632.8 346.7,1644.2 332.2,1658.6" fill="none" stroke="#f2f23c" stroke-width="3" stroke-linejoin="round" />
<polygon points="239.6,1679.1 266.9,1691.3 252.5,1705.7" fill="none" stroke="#f2f23c" stroke-width="3" stroke-linejoin="round" />
<polygon points="189.4,1695 189.4,1724.7 168.9,1714.8" fill="none" stroke="#f2f23c" stroke-width="3" stroke-linejoin="round" />
<polygon points="241.8,1578.1 260.8,1568.2 263.1,1597.1" fill="none" stroke="#d05a20" stroke-width="3" stroke-linejoin="round" />
<polygon points="299.6,1645 325.4,1658.6 309.4,1672.3" fill="none" stroke="#d05a20" stroke-width="3" stroke-linejoin="round" />
<polygon points="277.5,1660.1 302.6,1673.8 287.4,1687.5" fill="none" stroke="#d05a20" stroke-width="3" stroke-linejoin="round" />
<rect x="192.5" y="1761.2" width="123.8" height="13.6" fill="#000" />
<text x="199.3" y="1734.6" font-size="38" fill="#000" textLength="109.4" lengthAdjust="spacingAndGlyphs">10 µm</text>
</g>
<rect x="165.4" y="1558.9" width="242.6" height="230.9" fill="none" stroke="#13262f" stroke-width="2" />
<clipPath id="cF2"><rect x="436.5" y="1556.6" width="241.5" height="228.6"/></clipPath>
<rect x="436.5" y="1556.6" width="241.5" height="228.6" fill="#8f8f8f" />
<g clip-path="url(#cF2)">
<rect x="436.5" y="1556.6" width="241.5" height="228.6" fill="#000" filter="url(#mottle)" opacity="0.16"/>
<rect x="436.5" y="1556.6" width="241.5" height="228.6" fill="#000" filter="url(#grain)" opacity="0.14"/>
<path d="M436,1640 C455,1637 470,1645 490,1642 C510,1639 525,1646 545,1643 C565,1640 585,1646 605,1642 C625,1638 645,1645 678,1641" stroke="#3a3a3a" stroke-width="17" fill="none" filter="url(#blur2)"/>
<path d="M505,1650 C490,1680 470,1720 455,1785" stroke="#333" stroke-width="40" fill="none" opacity="0.6" filter="url(#blur8)"/>
<circle cx="459" cy="1630" r="5" fill="#3a3a3a" opacity="0.8" filter="url(#blur1)"/>
<circle cx="484" cy="1618" r="5.5" fill="#3a3a3a" opacity="0.8" filter="url(#blur1)"/>
<circle cx="508" cy="1628" r="6" fill="#3a3a3a" opacity="0.8" filter="url(#blur1)"/>
<circle cx="555" cy="1613" r="9" fill="#3a3a3a" opacity="0.8" filter="url(#blur1)"/>
<circle cx="567" cy="1603" r="7" fill="#3a3a3a" opacity="0.8" filter="url(#blur1)"/>
<circle cx="596" cy="1666" r="6" fill="#3a3a3a" opacity="0.8" filter="url(#blur1)"/>
<circle cx="620" cy="1632" r="5" fill="#3a3a3a" opacity="0.8" filter="url(#blur1)"/>
<circle cx="640" cy="1632" r="6" fill="#3a3a3a" opacity="0.8" filter="url(#blur1)"/>
<circle cx="665" cy="1650" r="6" fill="#3a3a3a" opacity="0.8" filter="url(#blur1)"/>
<circle cx="500" cy="1660" r="6" fill="#3a3a3a" opacity="0.8" filter="url(#blur1)"/>
<circle cx="590" cy="1680" r="8" fill="#3a3a3a" opacity="0.8" filter="url(#blur1)"/>
<polygon points="446.2,1588.6 467.5,1588.6 457.1,1616" fill="none" stroke="#f2f23c" stroke-width="3" stroke-linejoin="round" />
<polygon points="472.8,1582.1 494.3,1582.1 483.3,1609.1" fill="none" stroke="#f2f23c" stroke-width="3" stroke-linejoin="round" />
<polygon points="485,1694.7 506.8,1694.7 495.4,1667.3" fill="none" stroke="#f2f23c" stroke-width="3" stroke-linejoin="round" />
<polygon points="501.9,1588 522.4,1588 512.1,1614.4" fill="none" stroke="#d05a20" stroke-width="3" stroke-linejoin="round" />
<polygon points="524.5,1592.9 543.1,1583.2 546.4,1611.5" fill="none" stroke="#d05a20" stroke-width="3" stroke-linejoin="round" />
<polygon points="571.4,1564.3 590,1575.1 566.6,1592.1" fill="none" stroke="#d05a20" stroke-width="3" stroke-linejoin="round" />
<polygon points="594,1583.7 610.2,1595.3 586.8,1611.5" fill="none" stroke="#d05a20" stroke-width="3" stroke-linejoin="round" />
<polygon points="600,1678.6 622.6,1695.5 605.3,1706.9" fill="none" stroke="#d05a20" stroke-width="3" stroke-linejoin="round" />
<polygon points="570.9,1689.9 594,1706.9 576.7,1717.4" fill="none" stroke="#d05a20" stroke-width="3" stroke-linejoin="round" />
<rect x="451.8" y="1755.3" width="122" height="13.7" fill="#000" />
<text x="458.3" y="1727.9" font-size="38" fill="#000" textLength="107.4" lengthAdjust="spacingAndGlyphs">10 µm</text>
</g>
<rect x="437.5" y="1557.6" width="239.5" height="226.6" fill="none" stroke="#13262f" stroke-width="2" />
<text x="706" y="1454" font-size="36" fill="#000" font-weight="bold" textLength="30" lengthAdjust="spacingAndGlyphs">G</text>
<rect x="848.6" y="1685.17" width="32.9" height="109.33" fill="#abd0c4" />
<rect x="890" y="1642.03" width="32.6" height="152.47" fill="#4f8a80" />
<rect x="940" y="1688.89" width="32.4" height="105.61" fill="#e6b57d" />
<rect x="980.3" y="1663.6" width="32.9" height="130.9" fill="#c4641e" />
<line x1="865.05" y1="1685.17" x2="865.05" y2="1679.96" stroke="#3f8276" stroke-width="1.3" />
<line x1="859.05" y1="1679.96" x2="871.05" y2="1679.96" stroke="#3f8276" stroke-width="1.3" />
<line x1="906.3" y1="1642.03" x2="906.3" y2="1634.59" stroke="#356f63" stroke-width="1.3" />
<line x1="900.3" y1="1634.59" x2="912.3" y2="1634.59" stroke="#356f63" stroke-width="1.3" />
<line x1="956.2" y1="1688.89" x2="956.2" y2="1682.94" stroke="#cc6a1f" stroke-width="1.3" />
<line x1="950.2" y1="1682.94" x2="962.2" y2="1682.94" stroke="#cc6a1f" stroke-width="1.3" />
<line x1="996.75" y1="1663.6" x2="996.75" y2="1658.39" stroke="#8e4616" stroke-width="1.3" />
<line x1="990.75" y1="1658.39" x2="1002.75" y2="1658.39" stroke="#8e4616" stroke-width="1.3" />
<polygon points="861.82,1566.73 868.28,1566.73 865.05,1561.14" fill="none" stroke="#3f8276" stroke-width="1.4" stroke-linejoin="round" />
<polygon points="861.82,1589.05 868.28,1589.05 865.05,1583.45" fill="none" stroke="#3f8276" stroke-width="1.4" stroke-linejoin="round" />
<polygon points="861.82,1633.67 868.28,1633.67 865.05,1628.08" fill="none" stroke="#3f8276" stroke-width="1.4" stroke-linejoin="round" />
<polygon points="861.82,1641.11 868.28,1641.11 865.05,1635.52" fill="none" stroke="#3f8276" stroke-width="1.4" stroke-linejoin="round" />
<polygon points="854.08,1655.98 860.54,1655.98 857.31,1650.39" fill="none" stroke="#3f8276" stroke-width="1.4" stroke-linejoin="round" />
<polygon points="857.95,1655.98 864.41,1655.98 861.18,1650.39" fill="none" stroke="#3f8276" stroke-width="1.4" stroke-linejoin="round" />
<polygon points="861.82,1655.98 868.28,1655.98 865.05,1650.39" fill="none" stroke="#3f8276" stroke-width="1.4" stroke-linejoin="round" />
<polygon points="865.69,1655.98 872.15,1655.98 868.92,1650.39" fill="none" stroke="#3f8276" stroke-width="1.4" stroke-linejoin="round" />
<polygon points="869.56,1655.98 876.02,1655.98 872.79,1650.39" fill="none" stroke="#3f8276" stroke-width="1.4" stroke-linejoin="round" />
<polygon points="854.08,1663.42 860.54,1663.42 857.31,1657.83" fill="none" stroke="#3f8276" stroke-width="1.4" stroke-linejoin="round" />
<polygon points="857.95,1663.42 864.41,1663.42 861.18,1657.83" fill="none" stroke="#3f8276" stroke-width="1.4" stroke-linejoin="round" />
<polygon points="861.82,1663.42 868.28,1663.42 865.05,1657.83" fill="none" stroke="#3f8276" stroke-width="1.4" stroke-linejoin="round" />
<polygon points="865.69,1663.42 872.15,1663.42 868.92,1657.83" fill="none" stroke="#3f8276" stroke-width="1.4" stroke-linejoin="round" />
<polygon points="869.56,1663.42 876.02,1663.42 872.79,1657.83" fill="none" stroke="#3f8276" stroke-width="1.4" stroke-linejoin="round" />
<polygon points="854.08,1670.86 860.54,1670.86 857.31,1665.27" fill="none" stroke="#3f8276" stroke-width="1.4" stroke-linejoin="round" />
<polygon points="857.95,1670.86 864.41,1670.86 861.18,1665.27" fill="none" stroke="#3f8276" stroke-width="1.4" stroke-linejoin="round" />
<polygon points="861.82,1670.86 868.28,1670.86 865.05,1665.27" fill="none" stroke="#3f8276" stroke-width="1.4" stroke-linejoin="round" />
<polygon points="865.69,1670.86 872.15,1670.86 868.92,1665.27" fill="none" stroke="#3f8276" stroke-width="1.4" stroke-linejoin="round" />
<polygon points="869.56,1670.86 876.02,1670.86 872.79,1665.27" fill="none" stroke="#3f8276" stroke-width="1.4" stroke-linejoin="round" />
<polygon points="854.08,1678.3 860.54,1678.3 857.31,1672.7" fill="none" stroke="#3f8276" stroke-width="1.4" stroke-linejoin="round" />
<polygon points="857.95,1678.3 864.41,1678.3 861.18,1672.7" fill="none" stroke="#3f8276" stroke-width="1.4" stroke-linejoin="round" />
<polygon points="861.82,1678.3 868.28,1678.3 865.05,1672.7" fill="none" stroke="#3f8276" stroke-width="1.4" stroke-linejoin="round" />
<polygon points="865.69,1678.3 872.15,1678.3 868.92,1672.7" fill="none" stroke="#3f8276" stroke-width="1.4" stroke-linejoin="round" />
<polygon points="869.56,1678.3 876.02,1678.3 872.79,1672.7" fill="none" stroke="#3f8276" stroke-width="1.4" stroke-linejoin="round" />
<polygon points="848.27,1685.73 854.73,1685.73 851.5,1680.14" fill="none" stroke="#3f8276" stroke-width="1.4" stroke-linejoin="round" />
<polygon points="852.14,1685.73 858.6,1685.73 855.37,1680.14" fill="none" stroke="#3f8276" stroke-width="1.4" stroke-linejoin="round" />
<polygon points="856.01,1685.73 862.47,1685.73 859.24,1680.14" fill="none" stroke="#3f8276" stroke-width="1.4" stroke-linejoin="round" />
<polygon points="859.88,1685.73 866.34,1685.73 863.11,1680.14" fill="none" stroke="#3f8276" stroke-width="1.4" stroke-linejoin="round" />
<polygon points="863.76,1685.73 870.22,1685.73 866.99,1680.14" fill="none" stroke="#3f8276" stroke-width="1.4" stroke-linejoin="round" />
<polygon points="867.63,1685.73 874.09,1685.73 870.86,1680.14" fill="none" stroke="#3f8276" stroke-width="1.4" stroke-linejoin="round" />
<polygon points="871.5,1685.73 877.96,1685.73 874.73,1680.14" fill="none" stroke="#3f8276" stroke-width="1.4" stroke-linejoin="round" />
<polygon points="875.37,1685.73 881.83,1685.73 878.6,1680.14" fill="none" stroke="#3f8276" stroke-width="1.4" stroke-linejoin="round" />
<polygon points="854.08,1693.17 860.54,1693.17 857.31,1687.58" fill="none" stroke="#3f8276" stroke-width="1.4" stroke-linejoin="round" />
<polygon points="857.95,1693.17 864.41,1693.17 861.18,1687.58" fill="none" stroke="#3f8276" stroke-width="1.4" stroke-linejoin="round" />
<polygon points="861.82,1693.17 868.28,1693.17 865.05,1687.58" fill="none" stroke="#3f8276" stroke-width="1.4" stroke-linejoin="round" />
<polygon points="865.69,1693.17 872.15,1693.17 868.92,1687.58" fill="none" stroke="#3f8276" stroke-width="1.4" stroke-linejoin="round" />
<polygon points="869.56,1693.17 876.02,1693.17 872.79,1687.58" fill="none" stroke="#3f8276" stroke-width="1.4" stroke-linejoin="round" />
<polygon points="854.08,1700.61 860.54,1700.61 857.31,1695.02" fill="none" stroke="#3f8276" stroke-width="1.4" stroke-linejoin="round" />
<polygon points="857.95,1700.61 864.41,1700.61 861.18,1695.02" fill="none" stroke="#3f8276" stroke-width="1.4" stroke-linejoin="round" />
<polygon points="861.82,1700.61 868.28,1700.61 865.05,1695.02" fill="none" stroke="#3f8276" stroke-width="1.4" stroke-linejoin="round" />
<polygon points="865.69,1700.61 872.15,1700.61 868.92,1695.02" fill="none" stroke="#3f8276" stroke-width="1.4" stroke-linejoin="round" />
<polygon points="869.56,1700.61 876.02,1700.61 872.79,1695.02" fill="none" stroke="#3f8276" stroke-width="1.4" stroke-linejoin="round" />
<polygon points="857.95,1708.05 864.41,1708.05 861.18,1702.45" fill="none" stroke="#3f8276" stroke-width="1.4" stroke-linejoin="round" />
<polygon points="861.82,1708.05 868.28,1708.05 865.05,1702.45" fill="none" stroke="#3f8276" stroke-width="1.4" stroke-linejoin="round" />
<polygon points="865.69,1708.05 872.15,1708.05 868.92,1702.45" fill="none" stroke="#3f8276" stroke-width="1.4" stroke-linejoin="round" />
<polygon points="856.01,1715.48 862.47,1715.48 859.24,1709.89" fill="none" stroke="#3f8276" stroke-width="1.4" stroke-linejoin="round" />
<polygon points="859.88,1715.48 866.34,1715.48 863.11,1709.89" fill="none" stroke="#3f8276" stroke-width="1.4" stroke-linejoin="round" />
<polygon points="863.76,1715.48 870.22,1715.48 866.99,1709.89" fill="none" stroke="#3f8276" stroke-width="1.4" stroke-linejoin="round" />
<polygon points="867.63,1715.48 874.09,1715.48 870.86,1709.89" fill="none" stroke="#3f8276" stroke-width="1.4" stroke-linejoin="round" />
<polygon points="859.88,1730.36 866.34,1730.36 863.11,1724.77" fill="none" stroke="#3f8276" stroke-width="1.4" stroke-linejoin="round" />
<polygon points="863.76,1730.36 870.22,1730.36 866.99,1724.77" fill="none" stroke="#3f8276" stroke-width="1.4" stroke-linejoin="round" />
<polygon points="857.95,1737.8 864.41,1737.8 861.18,1732.2" fill="none" stroke="#3f8276" stroke-width="1.4" stroke-linejoin="round" />
<polygon points="861.82,1737.8 868.28,1737.8 865.05,1732.2" fill="none" stroke="#3f8276" stroke-width="1.4" stroke-linejoin="round" />
<polygon points="865.69,1737.8 872.15,1737.8 868.92,1732.2" fill="none" stroke="#3f8276" stroke-width="1.4" stroke-linejoin="round" />
<polygon points="861.82,1760.11 868.28,1760.11 865.05,1754.52" fill="none" stroke="#3f8276" stroke-width="1.4" stroke-linejoin="round" />
<circle cx="906.3" cy="1511.88" r="2.43" fill="none" stroke="#356f63" stroke-width="1.4"/>
<circle cx="906.3" cy="1526.75" r="2.43" fill="none" stroke="#356f63" stroke-width="1.4"/>
<circle cx="906.3" cy="1541.62" r="2.43" fill="none" stroke="#356f63" stroke-width="1.4"/>
<circle cx="906.3" cy="1549.06" r="2.43" fill="none" stroke="#356f63" stroke-width="1.4"/>
<circle cx="906.3" cy="1563.94" r="2.43" fill="none" stroke="#356f63" stroke-width="1.4"/>
<circle cx="906.3" cy="1578.81" r="2.43" fill="none" stroke="#356f63" stroke-width="1.4"/>
<circle cx="898.26" cy="1593.69" r="2.43" fill="none" stroke="#356f63" stroke-width="1.4"/>
<circle cx="903.62" cy="1593.69" r="2.43" fill="none" stroke="#356f63" stroke-width="1.4"/>
<circle cx="908.98" cy="1593.69" r="2.43" fill="none" stroke="#356f63" stroke-width="1.4"/>
<circle cx="914.34" cy="1593.69" r="2.43" fill="none" stroke="#356f63" stroke-width="1.4"/>
<circle cx="900.94" cy="1601.12" r="2.43" fill="none" stroke="#356f63" stroke-width="1.4"/>
<circle cx="906.3" cy="1601.12" r="2.43" fill="none" stroke="#356f63" stroke-width="1.4"/>
<circle cx="911.66" cy="1601.12" r="2.43" fill="none" stroke="#356f63" stroke-width="1.4"/>
<circle cx="892.9" cy="1608.56" r="2.43" fill="none" stroke="#356f63" stroke-width="1.4"/>
<circle cx="898.26" cy="1608.56" r="2.43" fill="none" stroke="#356f63" stroke-width="1.4"/>
<circle cx="903.62" cy="1608.56" r="2.43" fill="none" stroke="#356f63" stroke-width="1.4"/>
<circle cx="908.98" cy="1608.56" r="2.43" fill="none" stroke="#356f63" stroke-width="1.4"/>
<circle cx="914.34" cy="1608.56" r="2.43" fill="none" stroke="#356f63" stroke-width="1.4"/>
<circle cx="919.7" cy="1608.56" r="2.43" fill="none" stroke="#356f63" stroke-width="1.4"/>
<circle cx="900.94" cy="1616" r="2.43" fill="none" stroke="#356f63" stroke-width="1.4"/>
<circle cx="906.3" cy="1616" r="2.43" fill="none" stroke="#356f63" stroke-width="1.4"/>
<circle cx="911.66" cy="1616" r="2.43" fill="none" stroke="#356f63" stroke-width="1.4"/>
<circle cx="906.3" cy="1623.44" r="2.43" fill="none" stroke="#356f63" stroke-width="1.4"/>
<circle cx="892.9" cy="1630.88" r="2.43" fill="none" stroke="#356f63" stroke-width="1.4"/>
<circle cx="898.26" cy="1630.88" r="2.43" fill="none" stroke="#356f63" stroke-width="1.4"/>
<circle cx="903.62" cy="1630.88" r="2.43" fill="none" stroke="#356f63" stroke-width="1.4"/>
<circle cx="908.98" cy="1630.88" r="2.43" fill="none" stroke="#356f63" stroke-width="1.4"/>
<circle cx="914.34" cy="1630.88" r="2.43" fill="none" stroke="#356f63" stroke-width="1.4"/>
<circle cx="919.7" cy="1630.88" r="2.43" fill="none" stroke="#356f63" stroke-width="1.4"/>
<circle cx="906.3" cy="1638.31" r="2.43" fill="none" stroke="#356f63" stroke-width="1.4"/>
<circle cx="900.94" cy="1645.75" r="2.43" fill="none" stroke="#356f63" stroke-width="1.4"/>
<circle cx="906.3" cy="1645.75" r="2.43" fill="none" stroke="#356f63" stroke-width="1.4"/>
<circle cx="911.66" cy="1645.75" r="2.43" fill="none" stroke="#356f63" stroke-width="1.4"/>
<circle cx="898.26" cy="1653.19" r="2.43" fill="none" stroke="#356f63" stroke-width="1.4"/>
<circle cx="903.62" cy="1653.19" r="2.43" fill="none" stroke="#356f63" stroke-width="1.4"/>
<circle cx="908.98" cy="1653.19" r="2.43" fill="none" stroke="#356f63" stroke-width="1.4"/>
<circle cx="914.34" cy="1653.19" r="2.43" fill="none" stroke="#356f63" stroke-width="1.4"/>
<circle cx="898.26" cy="1660.62" r="2.43" fill="none" stroke="#356f63" stroke-width="1.4"/>
<circle cx="903.62" cy="1660.62" r="2.43" fill="none" stroke="#356f63" stroke-width="1.4"/>
<circle cx="908.98" cy="1660.62" r="2.43" fill="none" stroke="#356f63" stroke-width="1.4"/>
<circle cx="914.34" cy="1660.62" r="2.43" fill="none" stroke="#356f63" stroke-width="1.4"/>
<circle cx="892.9" cy="1668.06" r="2.43" fill="none" stroke="#356f63" stroke-width="1.4"/>
<circle cx="898.26" cy="1668.06" r="2.43" fill="none" stroke="#356f63" stroke-width="1.4"/>
<circle cx="903.62" cy="1668.06" r="2.43" fill="none" stroke="#356f63" stroke-width="1.4"/>
<circle cx="908.98" cy="1668.06" r="2.43" fill="none" stroke="#356f63" stroke-width="1.4"/>
<circle cx="914.34" cy="1668.06" r="2.43" fill="none" stroke="#356f63" stroke-width="1.4"/>
<circle cx="919.7" cy="1668.06" r="2.43" fill="none" stroke="#356f63" stroke-width="1.4"/>
<circle cx="898.26" cy="1675.5" r="2.43" fill="none" stroke="#356f63" stroke-width="1.4"/>
<circle cx="903.62" cy="1675.5" r="2.43" fill="none" stroke="#356f63" stroke-width="1.4"/>
<circle cx="908.98" cy="1675.5" r="2.43" fill="none" stroke="#356f63" stroke-width="1.4"/>
<circle cx="914.34" cy="1675.5" r="2.43" fill="none" stroke="#356f63" stroke-width="1.4"/>
<circle cx="900.94" cy="1682.94" r="2.43" fill="none" stroke="#356f63" stroke-width="1.4"/>
<circle cx="906.3" cy="1682.94" r="2.43" fill="none" stroke="#356f63" stroke-width="1.4"/>
<circle cx="911.66" cy="1682.94" r="2.43" fill="none" stroke="#356f63" stroke-width="1.4"/>
<circle cx="898.26" cy="1690.38" r="2.43" fill="none" stroke="#356f63" stroke-width="1.4"/>
<circle cx="903.62" cy="1690.38" r="2.43" fill="none" stroke="#356f63" stroke-width="1.4"/>
<circle cx="908.98" cy="1690.38" r="2.43" fill="none" stroke="#356f63" stroke-width="1.4"/>
<circle cx="914.34" cy="1690.38" r="2.43" fill="none" stroke="#356f63" stroke-width="1.4"/>
<circle cx="906.3" cy="1697.81" r="2.43" fill="none" stroke="#356f63" stroke-width="1.4"/>
<circle cx="906.3" cy="1712.69" r="2.43" fill="none" stroke="#356f63" stroke-width="1.4"/>
<circle cx="906.3" cy="1727.56" r="2.43" fill="none" stroke="#356f63" stroke-width="1.4"/>
<circle cx="906.3" cy="1735" r="2.43" fill="none" stroke="#356f63" stroke-width="1.4"/>
<circle cx="903.62" cy="1749.88" r="2.43" fill="none" stroke="#356f63" stroke-width="1.4"/>
<circle cx="908.98" cy="1749.88" r="2.43" fill="none" stroke="#356f63" stroke-width="1.4"/>
<polygon points="952.63,1611.65 959.77,1611.65 956.2,1605.47" fill="#cc6a1f" />
<polygon points="952.63,1619.09 959.77,1619.09 956.2,1612.91" fill="#cc6a1f" />
<polygon points="947.31,1648.84 954.45,1648.84 950.88,1642.66" fill="#cc6a1f" />
<polygon points="952.63,1648.84 959.77,1648.84 956.2,1642.66" fill="#cc6a1f" />
<polygon points="957.95,1648.84 965.09,1648.84 961.52,1642.66" fill="#cc6a1f" />
<polygon points="947.31,1656.28 954.45,1656.28 950.88,1650.1" fill="#cc6a1f" />
<polygon points="952.63,1656.28 959.77,1656.28 956.2,1650.1" fill="#cc6a1f" />
<polygon points="957.95,1656.28 965.09,1656.28 961.52,1650.1" fill="#cc6a1f" />
<polygon points="949.97,1663.72 957.11,1663.72 953.54,1657.53" fill="#cc6a1f" />
<polygon points="955.29,1663.72 962.43,1663.72 958.86,1657.53" fill="#cc6a1f" />
<polygon points="949.97,1671.15 957.11,1671.15 953.54,1664.97" fill="#cc6a1f" />
<polygon points="955.29,1671.15 962.43,1671.15 958.86,1664.97" fill="#cc6a1f" />
<polygon points="944.65,1678.59 951.79,1678.59 948.22,1672.41" fill="#cc6a1f" />
<polygon points="949.97,1678.59 957.11,1678.59 953.54,1672.41" fill="#cc6a1f" />
<polygon points="955.29,1678.59 962.43,1678.59 958.86,1672.41" fill="#cc6a1f" />
<polygon points="960.61,1678.59 967.75,1678.59 964.18,1672.41" fill="#cc6a1f" />
<polygon points="944.65,1686.03 951.79,1686.03 948.22,1679.85" fill="#cc6a1f" />
<polygon points="949.97,1686.03 957.11,1686.03 953.54,1679.85" fill="#cc6a1f" />
<polygon points="955.29,1686.03 962.43,1686.03 958.86,1679.85" fill="#cc6a1f" />
<polygon points="960.61,1686.03 967.75,1686.03 964.18,1679.85" fill="#cc6a1f" />
<polygon points="939.33,1693.47 946.47,1693.47 942.9,1687.28" fill="#cc6a1f" />
<polygon points="944.65,1693.47 951.79,1693.47 948.22,1687.28" fill="#cc6a1f" />
<polygon points="949.97,1693.47 957.11,1693.47 953.54,1687.28" fill="#cc6a1f" />
<polygon points="955.29,1693.47 962.43,1693.47 958.86,1687.28" fill="#cc6a1f" />
<polygon points="960.61,1693.47 967.75,1693.47 964.18,1687.28" fill="#cc6a1f" />
<polygon points="965.93,1693.47 973.07,1693.47 969.5,1687.28" fill="#cc6a1f" />
<polygon points="941.99,1700.9 949.13,1700.9 945.56,1694.72" fill="#cc6a1f" />
<polygon points="947.31,1700.9 954.45,1700.9 950.88,1694.72" fill="#cc6a1f" />
<polygon points="952.63,1700.9 959.77,1700.9 956.2,1694.72" fill="#cc6a1f" />
<polygon points="957.95,1700.9 965.09,1700.9 961.52,1694.72" fill="#cc6a1f" />
<polygon points="963.27,1700.9 970.41,1700.9 966.84,1694.72" fill="#cc6a1f" />
<polygon points="947.31,1708.34 954.45,1708.34 950.88,1702.16" fill="#cc6a1f" />
<polygon points="952.63,1708.34 959.77,1708.34 956.2,1702.16" fill="#cc6a1f" />
<polygon points="957.95,1708.34 965.09,1708.34 961.52,1702.16" fill="#cc6a1f" />
<polygon points="944.65,1715.78 951.79,1715.78 948.22,1709.6" fill="#cc6a1f" />
<polygon points="949.97,1715.78 957.11,1715.78 953.54,1709.6" fill="#cc6a1f" />
<polygon points="955.29,1715.78 962.43,1715.78 958.86,1709.6" fill="#cc6a1f" />
<polygon points="960.61,1715.78 967.75,1715.78 964.18,1709.6" fill="#cc6a1f" />
<polygon points="952.63,1723.22 959.77,1723.22 956.2,1717.03" fill="#cc6a1f" />
<polygon points="952.63,1730.65 959.77,1730.65 956.2,1724.47" fill="#cc6a1f" />
<polygon points="952.63,1738.09 959.77,1738.09 956.2,1731.91" fill="#cc6a1f" />
<polygon points="949.97,1797.59 957.11,1797.59 953.54,1791.41" fill="#cc6a1f" />
<polygon points="955.29,1797.59 962.43,1797.59 958.86,1791.41" fill="#cc6a1f" />
<circle cx="994.81" cy="1578.81" r="3.54" fill="#8e4616"/>
<circle cx="998.69" cy="1578.81" r="3.54" fill="#8e4616"/>
<circle cx="996.75" cy="1593.69" r="3.54" fill="#8e4616"/>
<circle cx="996.75" cy="1608.56" r="3.54" fill="#8e4616"/>
<circle cx="990.94" cy="1623.44" r="3.54" fill="#8e4616"/>
<circle cx="994.81" cy="1623.44" r="3.54" fill="#8e4616"/>
<circle cx="998.69" cy="1623.44" r="3.54" fill="#8e4616"/>
<circle cx="1002.56" cy="1623.44" r="3.54" fill="#8e4616"/>
<circle cx="996.75" cy="1630.88" r="3.54" fill="#8e4616"/>
<circle cx="992.88" cy="1638.31" r="3.54" fill="#8e4616"/>
<circle cx="996.75" cy="1638.31" r="3.54" fill="#8e4616"/>
<circle cx="1000.62" cy="1638.31" r="3.54" fill="#8e4616"/>
<circle cx="992.88" cy="1645.75" r="3.54" fill="#8e4616"/>
<circle cx="996.75" cy="1645.75" r="3.54" fill="#8e4616"/>
<circle cx="1000.62" cy="1645.75" r="3.54" fill="#8e4616"/>
<circle cx="989.01" cy="1653.19" r="3.54" fill="#8e4616"/>
<circle cx="992.88" cy="1653.19" r="3.54" fill="#8e4616"/>
<circle cx="996.75" cy="1653.19" r="3.54" fill="#8e4616"/>
<circle cx="1000.62" cy="1653.19" r="3.54" fill="#8e4616"/>
<circle cx="1004.49" cy="1653.19" r="3.54" fill="#8e4616"/>
<circle cx="992.88" cy="1660.62" r="3.54" fill="#8e4616"/>
<circle cx="996.75" cy="1660.62" r="3.54" fill="#8e4616"/>
<circle cx="1000.62" cy="1660.62" r="3.54" fill="#8e4616"/>
<circle cx="983.2" cy="1668.06" r="3.54" fill="#8e4616"/>
<circle cx="987.07" cy="1668.06" r="3.54" fill="#8e4616"/>
<circle cx="990.94" cy="1668.06" r="3.54" fill="#8e4616"/>
<circle cx="994.81" cy="1668.06" r="3.54" fill="#8e4616"/>
<circle cx="998.69" cy="1668.06" r="3.54" fill="#8e4616"/>
<circle cx="1002.56" cy="1668.06" r="3.54" fill="#8e4616"/>
<circle cx="1006.43" cy="1668.06" r="3.54" fill="#8e4616"/>
<circle cx="1010.3" cy="1668.06" r="3.54" fill="#8e4616"/>
<circle cx="983.2" cy="1675.5" r="3.54" fill="#8e4616"/>
<circle cx="987.07" cy="1675.5" r="3.54" fill="#8e4616"/>
<circle cx="990.94" cy="1675.5" r="3.54" fill="#8e4616"/>
<circle cx="994.81" cy="1675.5" r="3.54" fill="#8e4616"/>
<circle cx="998.69" cy="1675.5" r="3.54" fill="#8e4616"/>
<circle cx="1002.56" cy="1675.5" r="3.54" fill="#8e4616"/>
<circle cx="1006.43" cy="1675.5" r="3.54" fill="#8e4616"/>
<circle cx="1010.3" cy="1675.5" r="3.54" fill="#8e4616"/>
<circle cx="990.94" cy="1682.94" r="3.54" fill="#8e4616"/>
<circle cx="994.81" cy="1682.94" r="3.54" fill="#8e4616"/>
<circle cx="998.69" cy="1682.94" r="3.54" fill="#8e4616"/>
<circle cx="1002.56" cy="1682.94" r="3.54" fill="#8e4616"/>
<circle cx="990.94" cy="1690.38" r="3.54" fill="#8e4616"/>
<circle cx="994.81" cy="1690.38" r="3.54" fill="#8e4616"/>
<circle cx="998.69" cy="1690.38" r="3.54" fill="#8e4616"/>
<circle cx="1002.56" cy="1690.38" r="3.54" fill="#8e4616"/>
<circle cx="992.88" cy="1697.81" r="3.54" fill="#8e4616"/>
<circle cx="996.75" cy="1697.81" r="3.54" fill="#8e4616"/>
<circle cx="1000.62" cy="1697.81" r="3.54" fill="#8e4616"/>
<circle cx="994.81" cy="1705.25" r="3.54" fill="#8e4616"/>
<circle cx="998.69" cy="1705.25" r="3.54" fill="#8e4616"/>
<circle cx="992.88" cy="1712.69" r="3.54" fill="#8e4616"/>
<circle cx="996.75" cy="1712.69" r="3.54" fill="#8e4616"/>
<circle cx="1000.62" cy="1712.69" r="3.54" fill="#8e4616"/>
<circle cx="996.75" cy="1727.56" r="3.54" fill="#8e4616"/>
<circle cx="996.75" cy="1794.5" r="3.54" fill="#8e4616"/>
<line x1="833" y1="1496.25" x2="833" y2="1795.25" stroke="#000" stroke-width="1.6" />
<line x1="821" y1="1794.5" x2="833" y2="1794.5" stroke="#000" stroke-width="1.6" />
<text x="816.9" y="1800.1" font-size="16" fill="#000" text-anchor="end" textLength="10" lengthAdjust="spacingAndGlyphs">0</text>
<line x1="821" y1="1720.12" x2="833" y2="1720.12" stroke="#000" stroke-width="1.6" />
<text x="816.9" y="1725.72" font-size="16" fill="#000" text-anchor="end" textLength="20" lengthAdjust="spacingAndGlyphs">10</text>
<line x1="821" y1="1645.75" x2="833" y2="1645.75" stroke="#000" stroke-width="1.6" />
<text x="816.9" y="1651.35" font-size="16" fill="#000" text-anchor="end" textLength="20" lengthAdjust="spacingAndGlyphs">20</text>
<line x1="821" y1="1571.38" x2="833" y2="1571.38" stroke="#000" stroke-width="1.6" />
<text x="816.9" y="1576.97" font-size="16" fill="#000" text-anchor="end" textLength="20" lengthAdjust="spacingAndGlyphs">30</text>
<line x1="821" y1="1497" x2="833" y2="1497" stroke="#000" stroke-width="1.6" />
<text x="816.9" y="1502.6" font-size="16" fill="#000" text-anchor="end" textLength="20" lengthAdjust="spacingAndGlyphs">40</text>
<text x="865.55" y="1816.1" font-size="20" fill="#000" text-anchor="middle" font-family='"DejaVu Sans", "Liberation Sans", sans-serif'>&#9792;</text>
<text x="906.3" y="1817.3" font-size="20" fill="#000" text-anchor="middle" font-family='"DejaVu Sans", "Liberation Sans", sans-serif'>&#9794;</text>
<text x="956.7" y="1816.1" font-size="20" fill="#000" text-anchor="middle" font-family='"DejaVu Sans", "Liberation Sans", sans-serif'>&#9792;</text>
<text x="996.75" y="1817.3" font-size="20" fill="#000" text-anchor="middle" font-family='"DejaVu Sans", "Liberation Sans", sans-serif'>&#9794;</text>
<line x1="850.5" y1="1832.3" x2="921.9" y2="1832.3" stroke="#000" stroke-width="1.7" />
<line x1="941.6" y1="1832.3" x2="1013.2" y2="1832.3" stroke="#000" stroke-width="1.7" />
<text x="885.1" y="1852.5" font-size="15.5" fill="#000" text-anchor="middle" textLength="21.4" lengthAdjust="spacingAndGlyphs">WT</text>
<text x="957" y="1852.5" font-size="15.5" font-style="italic" textLength="41" lengthAdjust="spacingAndGlyphs">Tsc2<tspan font-size="10.5" dy="-7" font-style="normal">+/-</tspan></text>
<text transform="translate(780.3,1647.3) rotate(-90)" font-size="17" fill="#000" text-anchor="middle" textLength="198.3" lengthAdjust="spacingAndGlyphs">Total nº of Spines/30 µm</text>
<text x="858.97" y="1498.77" font-size="21.38" font-weight="bold" font-family="'DejaVu Sans', 'Liberation Sans', sans-serif" textLength="50.39" lengthAdjust="spacing">****</text>
<line x1="861.4" y1="1504.2" x2="907.5" y2="1504.2" stroke="#000" stroke-width="1.7" />
<text x="976.5" y="1555.47" font-size="21.38" font-weight="bold" font-family="'DejaVu Sans', 'Liberation Sans', sans-serif" text-anchor="middle">*</text>
<line x1="956.8" y1="1561" x2="997.6" y2="1561" stroke="#000" stroke-width="1.7" />
<text x="1038.5" y="1454.2" font-size="36" fill="#000" font-weight="bold" textLength="27" lengthAdjust="spacingAndGlyphs">H</text>
<text x="1272.7" y="1492.5" font-size="18.6" fill="#000" textLength="166" lengthAdjust="spacingAndGlyphs">Nº of Spines/30µm</text>
<text x="1498.2" y="1490" font-size="18.6" fill="#000" textLength="162.6" lengthAdjust="spacingAndGlyphs">% dendritic spines</text>
<rect x="1194.1" y="1510.2" width="246.8" height="25.2" fill="#c1621e" />
<line x1="1181" y1="1522.8" x2="1194.1" y2="1522.8" stroke="#b05a23" stroke-width="1.5" />
<line x1="1181" y1="1517.3" x2="1181" y2="1528.3" stroke="#b05a23" stroke-width="1.5" />
<rect x="1245.8" y="1542.2" width="195.1" height="25.7" fill="#e6b57c" />
<line x1="1238.4" y1="1555.05" x2="1245.8" y2="1555.05" stroke="#dd9c5a" stroke-width="1.5" />
<line x1="1238.4" y1="1549.55" x2="1238.4" y2="1560.55" stroke="#dd9c5a" stroke-width="1.5" />
<rect x="1260.7" y="1574.6" width="180.2" height="25.7" fill="#466e5f" />
<line x1="1250" y1="1587.45" x2="1260.7" y2="1587.45" stroke="#4e8373" stroke-width="1.5" />
<line x1="1250" y1="1581.95" x2="1250" y2="1592.95" stroke="#4e8373" stroke-width="1.5" />
<rect x="1310" y="1607" width="130.9" height="25.3" fill="#abd1c4" />
<line x1="1301" y1="1619.65" x2="1310" y2="1619.65" stroke="#a9d6ca" stroke-width="1.5" />
<line x1="1301" y1="1614.15" x2="1301" y2="1625.15" stroke="#a9d6ca" stroke-width="1.5" />
<rect x="1332.4" y="1658" width="108.5" height="25.5" fill="#c1621e" />
<line x1="1325.7" y1="1670.75" x2="1332.4" y2="1670.75" stroke="#b05a23" stroke-width="1.5" />
<line x1="1325.7" y1="1665.25" x2="1325.7" y2="1676.25" stroke="#b05a23" stroke-width="1.5" />
<rect x="1339.4" y="1690.5" width="101.5" height="25.2" fill="#e6b57c" />
<line x1="1330.5" y1="1703.1" x2="1339.4" y2="1703.1" stroke="#dd9c5a" stroke-width="1.5" />
<line x1="1330.5" y1="1697.6" x2="1330.5" y2="1708.6" stroke="#dd9c5a" stroke-width="1.5" />
<rect x="1212.2" y="1722.5" width="228.7" height="25.7" fill="#466e5f" />
<line x1="1196.6" y1="1735.35" x2="1212.2" y2="1735.35" stroke="#4e8373" stroke-width="1.5" />
<line x1="1196.6" y1="1729.85" x2="1196.6" y2="1740.85" stroke="#4e8373" stroke-width="1.5" />
<rect x="1274.7" y="1754.9" width="166.2" height="25.3" fill="#abd1c4" />
<line x1="1266.3" y1="1767.55" x2="1274.7" y2="1767.55" stroke="#a9d6ca" stroke-width="1.5" />
<line x1="1266.3" y1="1762.05" x2="1266.3" y2="1773.05" stroke="#a9d6ca" stroke-width="1.5" />
<rect x="1497.4" y="1508" width="265.8" height="26.6" fill="#c1621e" />
<line x1="1763.2" y1="1521.3" x2="1770.6" y2="1521.3" stroke="#b05a23" stroke-width="1.5" />
<line x1="1770.6" y1="1515.8" x2="1770.6" y2="1526.8" stroke="#b05a23" stroke-width="1.5" />
<rect x="1497.4" y="1541.4" width="242" height="25.2" fill="#e6b57c" />
<line x1="1739.4" y1="1554" x2="1745.7" y2="1554" stroke="#dd9c5a" stroke-width="1.5" />
<line x1="1745.7" y1="1548.5" x2="1745.7" y2="1559.5" stroke="#dd9c5a" stroke-width="1.5" />
<rect x="1497.4" y="1573.1" width="158" height="26.6" fill="#466e5f" />
<line x1="1655.4" y1="1586.4" x2="1662.2" y2="1586.4" stroke="#4e8373" stroke-width="1.5" />
<line x1="1662.2" y1="1580.9" x2="1662.2" y2="1591.9" stroke="#4e8373" stroke-width="1.5" />
<rect x="1497.4" y="1606.5" width="159.4" height="25.2" fill="#abd1c4" />
<line x1="1656.8" y1="1619.1" x2="1665" y2="1619.1" stroke="#a9d6ca" stroke-width="1.5" />
<line x1="1665" y1="1613.6" x2="1665" y2="1624.6" stroke="#a9d6ca" stroke-width="1.5" />
<rect x="1497.4" y="1658" width="108.7" height="26.3" fill="#c1621e" />
<line x1="1606.1" y1="1671.15" x2="1613.4" y2="1671.15" stroke="#b05a23" stroke-width="1.5" />
<line x1="1613.4" y1="1665.65" x2="1613.4" y2="1676.65" stroke="#b05a23" stroke-width="1.5" />
<rect x="1497.4" y="1691.3" width="122.8" height="25.5" fill="#e6b57c" />
<line x1="1620.2" y1="1704.05" x2="1629" y2="1704.05" stroke="#dd9c5a" stroke-width="1.5" />
<line x1="1629" y1="1698.55" x2="1629" y2="1709.55" stroke="#dd9c5a" stroke-width="1.5" />
<rect x="1497.4" y="1723" width="218.2" height="26.3" fill="#466e5f" />
<line x1="1715.6" y1="1736.15" x2="1723.2" y2="1736.15" stroke="#4e8373" stroke-width="1.5" />
<line x1="1723.2" y1="1730.65" x2="1723.2" y2="1741.65" stroke="#4e8373" stroke-width="1.5" />
<rect x="1497.4" y="1756.3" width="216.8" height="25.5" fill="#abd1c4" />
<line x1="1714.2" y1="1769.05" x2="1722.4" y2="1769.05" stroke="#a9d6ca" stroke-width="1.5" />
<line x1="1722.4" y1="1763.55" x2="1722.4" y2="1774.55" stroke="#a9d6ca" stroke-width="1.5" />
<line x1="1142.5" y1="1792.8" x2="1440.9" y2="1792.8" stroke="#000" stroke-width="1.6" />
<line x1="1142.55" y1="1792.1" x2="1142.55" y2="1804.6" stroke="#000" stroke-width="1.6" />
<text transform="translate(1153.35,1824.1) rotate(-45)" font-size="23" fill="#000" text-anchor="end">15</text>
<line x1="1242" y1="1792.1" x2="1242" y2="1804.6" stroke="#000" stroke-width="1.6" />
<text transform="translate(1252.8,1824.1) rotate(-45)" font-size="23" fill="#000" text-anchor="end">10</text>
<line x1="1341.45" y1="1792.1" x2="1341.45" y2="1804.6" stroke="#000" stroke-width="1.6" />
<text transform="translate(1352.25,1824.1) rotate(-45)" font-size="23" fill="#000" text-anchor="end">5</text>
<line x1="1440.9" y1="1792.1" x2="1440.9" y2="1804.6" stroke="#000" stroke-width="1.6" />
<text transform="translate(1451.7,1824.1) rotate(-45)" font-size="23" fill="#000" text-anchor="end">0</text>
<line x1="1497.4" y1="1794.7" x2="1799" y2="1794.7" stroke="#000" stroke-width="1.6" />
<line x1="1497.4" y1="1794" x2="1497.4" y2="1807" stroke="#000" stroke-width="1.6" />
<text transform="translate(1503.9,1828) rotate(-45)" font-size="23" fill="#000" text-anchor="end">0</text>
<line x1="1572.8" y1="1794" x2="1572.8" y2="1807" stroke="#000" stroke-width="1.6" />
<text transform="translate(1579.3,1828) rotate(-45)" font-size="23" fill="#000" text-anchor="end">20</text>
<line x1="1648.2" y1="1794" x2="1648.2" y2="1807" stroke="#000" stroke-width="1.6" />
<text transform="translate(1654.7,1828) rotate(-45)" font-size="23" fill="#000" text-anchor="end">40</text>
<line x1="1723.6" y1="1794" x2="1723.6" y2="1807" stroke="#000" stroke-width="1.6" />
<text transform="translate(1730.1,1828) rotate(-45)" font-size="23" fill="#000" text-anchor="end">60</text>
<line x1="1799" y1="1794" x2="1799" y2="1807" stroke="#000" stroke-width="1.6" />
<text transform="translate(1805.5,1828) rotate(-45)" font-size="23" fill="#000" text-anchor="end">80</text>
<line x1="1186" y1="1651" x2="1826" y2="1651" stroke="#111" stroke-width="2.6" stroke-dasharray="8,5"/>
<line x1="1150.2" y1="1522.5" x2="1150.2" y2="1586.7" stroke="#000" stroke-width="1.7" />
<line x1="1172.5" y1="1523" x2="1172.5" y2="1553.5" stroke="#000" stroke-width="1.7" />
<line x1="1220.4" y1="1555" x2="1220.4" y2="1619" stroke="#000" stroke-width="1.7" />
<line x1="1242" y1="1587.4" x2="1242" y2="1619" stroke="#000" stroke-width="1.7" />
<line x1="1167.7" y1="1671.5" x2="1167.7" y2="1735.7" stroke="#000" stroke-width="1.7" />
<line x1="1186.2" y1="1703.7" x2="1186.2" y2="1780.2" stroke="#000" stroke-width="1.7" />
<line x1="1158.6" y1="1741.7" x2="1158.6" y2="1780.2" stroke="#000" stroke-width="1.7" />
<text transform="translate(1149.26,1571.36) rotate(-90)" font-size="18.14" font-weight="bold" font-family="'DejaVu Sans', 'Liberation Sans', sans-serif" textLength="37.94" lengthAdjust="spacing">****</text>
<text transform="translate(1174.96,1547.36) rotate(-90)" font-size="18.14" font-weight="bold" font-family="'DejaVu Sans', 'Liberation Sans', sans-serif" textLength="16.51" lengthAdjust="spacing">**</text>
<text transform="translate(1220,1606.36) rotate(-90)" font-size="17.93" font-weight="bold" font-family="'DejaVu Sans', 'Liberation Sans', sans-serif" textLength="38.35" lengthAdjust="spacing">****</text>
<text transform="translate(1244.46,1613.36) rotate(-90)" font-size="18.14" font-weight="bold" font-family="'DejaVu Sans', 'Liberation Sans', sans-serif" textLength="18.51" lengthAdjust="spacing">**</text>
<text transform="translate(1169.46,1720.36) rotate(-90)" font-size="18.14" font-weight="bold" font-family="'DejaVu Sans', 'Liberation Sans', sans-serif" textLength="36.34" lengthAdjust="spacing">****</text>
<text transform="translate(1188.66,1760.06) rotate(-90)" font-size="18.14" font-weight="bold" font-family="'DejaVu Sans', 'Liberation Sans', sans-serif" textLength="26.93" lengthAdjust="spacing">***</text>
<text transform="translate(1161.26,1770.86) rotate(-90)" font-size="18.14" font-weight="bold" font-family="'DejaVu Sans', 'Liberation Sans', sans-serif" textLength="26.63" lengthAdjust="spacing">***</text>
<line x1="1446.3" y1="1525" x2="1446.3" y2="1550.6" stroke="#000" stroke-width="1.7" />
<line x1="1492.8" y1="1524" x2="1492.8" y2="1551.6" stroke="#000" stroke-width="1.7" />
<line x1="1446.3" y1="1593" x2="1446.3" y2="1619" stroke="#000" stroke-width="1.7" />
<line x1="1492.8" y1="1592" x2="1492.8" y2="1620" stroke="#000" stroke-width="1.7" />
<line x1="1446.3" y1="1670.8" x2="1446.3" y2="1697.2" stroke="#000" stroke-width="1.7" />
<line x1="1492.8" y1="1669.8" x2="1492.8" y2="1698.2" stroke="#000" stroke-width="1.7" />
<line x1="1446.3" y1="1739.3" x2="1446.3" y2="1765.3" stroke="#000" stroke-width="1.7" />
<line x1="1492.8" y1="1738.3" x2="1492.8" y2="1766.3" stroke="#000" stroke-width="1.7" />
<polyline points="1450.6,1538 1455.8,1538 1455.8,1605 1450.6,1605" fill="none" stroke="#000" stroke-width="1.5"/>
<polyline points="1486.6,1538 1481.5,1538 1481.5,1605 1486.6,1605" fill="none" stroke="#000" stroke-width="1.5"/>
<polyline points="1450.6,1683.5 1455.8,1683.5 1455.8,1751.3 1450.6,1751.3" fill="none" stroke="#000" stroke-width="1.5"/>
<polyline points="1486.6,1683.5 1481.5,1683.5 1481.5,1751.3 1486.6,1751.3" fill="none" stroke="#000" stroke-width="1.5"/>
<text transform="translate(1479.46,1591.86) rotate(-90)" font-size="18.14" font-weight="bold" font-family="'DejaVu Sans', 'Liberation Sans', sans-serif" textLength="42.87" lengthAdjust="spacing">****</text>
<text transform="translate(1479.46,1739.36) rotate(-90)" font-size="18.14" font-weight="bold" font-family="'DejaVu Sans', 'Liberation Sans', sans-serif" textLength="43.01" lengthAdjust="spacing">****</text>
<line x1="1788.2" y1="1522.5" x2="1788.2" y2="1586.1" stroke="#000" stroke-width="1.7" />
<line x1="1762.5" y1="1555" x2="1762.5" y2="1619.2" stroke="#000" stroke-width="1.7" />
<line x1="1764.7" y1="1668.8" x2="1764.7" y2="1732.5" stroke="#000" stroke-width="1.7" />
<line x1="1789" y1="1701.3" x2="1789" y2="1768.3" stroke="#000" stroke-width="1.7" />
<text transform="translate(1807.16,1564.86) rotate(-90)" font-size="18.14" font-weight="bold" font-family="'DejaVu Sans', 'Liberation Sans', sans-serif" textLength="37.01" lengthAdjust="spacing">****</text>
<text transform="translate(1780.06,1602.76) rotate(-90)" font-size="18.14" font-weight="bold" font-family="'DejaVu Sans', 'Liberation Sans', sans-serif" textLength="35.54" lengthAdjust="spacing">****</text>
<text transform="translate(1786.46,1709.86) rotate(-90)" font-size="18.14" font-weight="bold" font-family="'DejaVu Sans', 'Liberation Sans', sans-serif" textLength="35.67" lengthAdjust="spacing">****</text>
<text transform="translate(1811.16,1746.36) rotate(-90)" font-size="18.14" font-weight="bold" font-family="'DejaVu Sans', 'Liberation Sans', sans-serif" textLength="37.01" lengthAdjust="spacing">****</text>
<text x="1840" y="1521" font-size="29.4" fill="#000" textLength="132" lengthAdjust="spacingAndGlyphs">Mushroom</text>
<text x="1876.9" y="1687.8" font-size="29.4" fill="#000" textLength="52" lengthAdjust="spacingAndGlyphs">Thin</text>
<path d="M1899.5,1621 L1899.5,1610 C1899.5,1600 1897,1594 1892,1589 C1885,1583 1879,1576 1878.5,1568 C1878,1558 1884,1553.5 1897,1553.5 L1916,1553.5 C1923,1556 1926.5,1563 1926.5,1572 C1926.5,1581 1922,1587 1916,1593 C1912,1597 1909.5,1601 1909.5,1608 L1909.5,1621" fill="none" stroke="#000" stroke-width="4.6" stroke-linejoin="round"/>
<path d="M1896,1782 C1898,1776 1900,1772 1900.5,1766 L1900.5,1745 C1900.5,1742 1899,1740 1897,1737 C1894.5,1733 1894.5,1728 1894.5,1723 C1894.5,1717 1898,1715 1903,1715 C1907,1715 1908,1717 1908,1722 C1908,1729 1906,1735 1904.5,1741 L1904.5,1766 C1905,1772 1906.5,1776 1908,1780" fill="none" stroke="#000" stroke-width="4" stroke-linejoin="round"/></svg>
</body></html>
